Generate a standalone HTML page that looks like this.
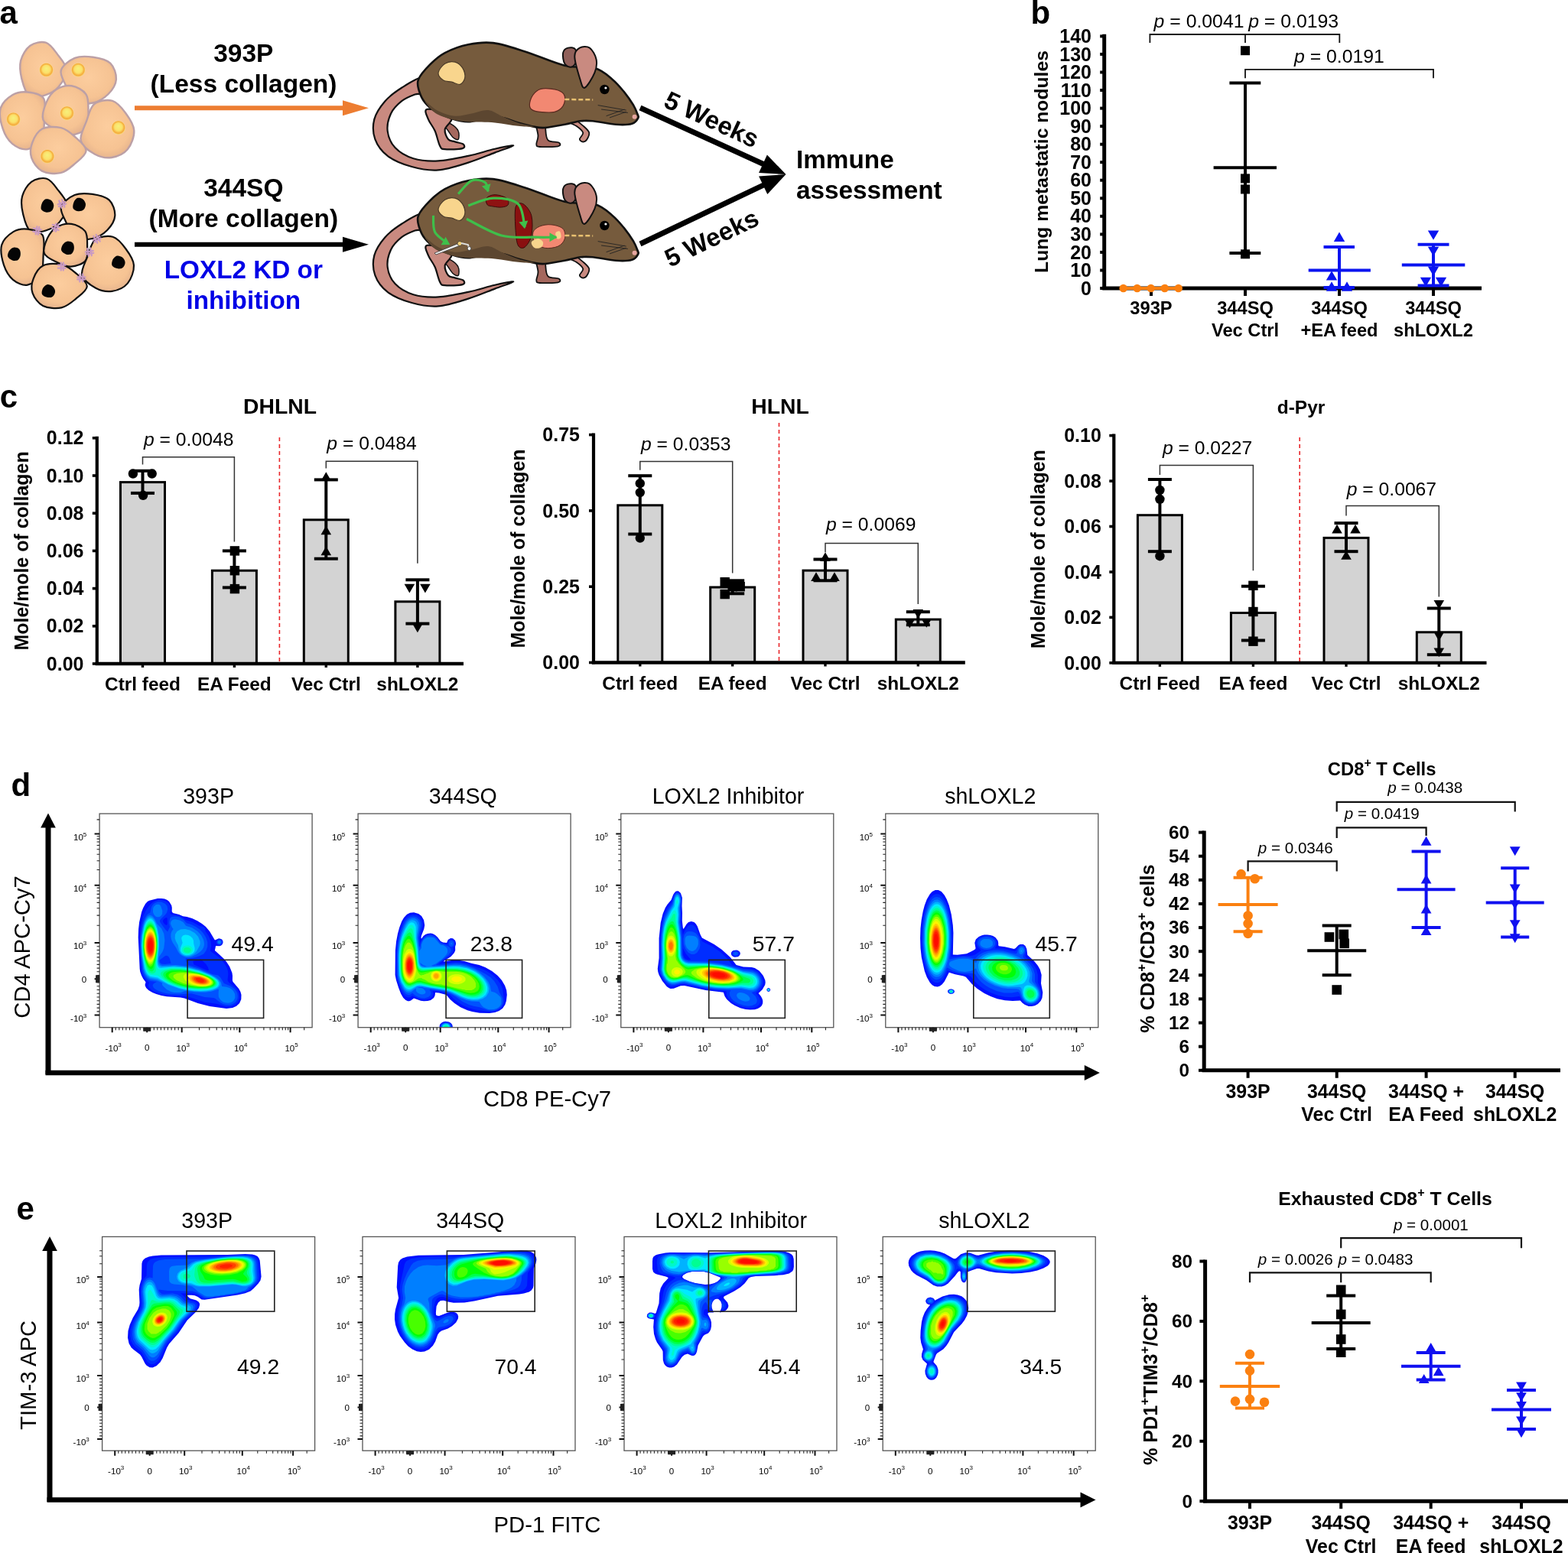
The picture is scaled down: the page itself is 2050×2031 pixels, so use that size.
<!DOCTYPE html>
<html><head><meta charset="utf-8"><title>Figure</title>
<style>html,body{margin:0;padding:0;background:#fff;}body{width:2050px;height:2031px;overflow:hidden;}svg{display:block;}</style>
</head><body>
<svg width="2050" height="2031" viewBox="0 0 2050 2031" font-family="Liberation Sans, Arial, Helvetica, sans-serif"><text x="-0.5" y="30.5" font-size="42" font-weight="bold">a</text>
<text x="1347.5" y="30.5" font-size="42" font-weight="bold">b</text>
<text x="-0.2" y="533.2" font-size="42" font-weight="bold">c</text>
<text x="14.6" y="1040.6" font-size="42" font-weight="bold">d</text>
<text x="21.4" y="1594.6" font-size="42" font-weight="bold">e</text>
<defs><radialGradient id="cellg" cx="50%" cy="45%" r="60%"><stop offset="0" stop-color="#fccd9e"/><stop offset="0.7" stop-color="#f6c393"/><stop offset="1" stop-color="#e2b08c"/></radialGradient><radialGradient id="nucg" cx="50%" cy="50%" r="50%" fx="50%" fy="38%"><stop offset="0" stop-color="#f6f07c"/><stop offset="0.55" stop-color="#fbe06a"/><stop offset="0.85" stop-color="#f5a93a"/><stop offset="1" stop-color="#f8e08a"/></radialGradient></defs><path d="M76.4 113.7C71.7 119.1 65.6 122.3 59.2 124.3C52.9 126.2 43.4 128.8 38.2 125.3C33.1 121.7 30.2 110.5 28.3 102.9C26.5 95.3 25.3 86.6 27.1 79.4C29 72.3 33.9 63.8 39.4 59.8C44.8 55.9 53.9 53.8 59.8 55.7C65.7 57.5 70.5 64.9 75 70.9C79.5 76.9 86.8 84.4 87 91.6C87.3 98.7 81 108.2 76.4 113.7Z" fill="url(#cellg)" stroke="#bca0a6" stroke-width="2.4"/><path d="M121.7 134.5C114.2 136.2 102.1 136.8 96.3 133.2C90.4 129.6 89.3 119.8 86.5 112.9C83.8 106 77.9 98 79.8 91.9C81.7 85.7 90.9 78.8 97.8 75.9C104.8 73 113.8 73.6 121.6 74.7C129.3 75.8 139.1 77.7 144.2 82.6C149.2 87.4 152.3 97 151.9 103.7C151.5 110.5 146.6 117.9 141.6 123C136.5 128.1 129.3 132.8 121.7 134.5Z" fill="url(#cellg)" stroke="#bca0a6" stroke-width="2.4"/><path d="M16.2 188.1C10.8 183.6 6.2 176.1 3.7 168.4C1.1 160.7 -1.5 149.1 0.7 141.7C2.8 134.3 10.7 127.6 16.6 124C22.6 120.5 29.4 119.7 36.1 120.5C42.8 121.2 53.3 122.7 57 128.7C60.6 134.6 58.4 147.4 58 156.2C57.6 165 58.1 174.9 54.5 181.3C50.9 187.8 42.6 193.9 36.3 195.1C29.9 196.2 21.7 192.5 16.2 188.1Z" fill="url(#cellg)" stroke="#bca0a6" stroke-width="2.4"/><path d="M56.4 156.6C54.2 150.5 57.8 140.5 60.6 133.9C63.4 127.4 67.8 120.9 73.3 117.3C78.8 113.7 87.1 111.3 93.6 112.3C100.2 113.3 108.9 117.9 112.5 123.3C116.1 128.8 115.3 137.6 115.5 144.9C115.6 152.3 116.9 162.1 113.2 167.3C109.4 172.6 99.6 176.1 93.1 176.5C86.5 177 80 173.4 73.9 170C67.8 166.7 58.6 162.6 56.4 156.6Z" fill="url(#cellg)" stroke="#bca0a6" stroke-width="2.4"/><path d="M113 158.7C115.9 150.7 117.6 140.5 123.3 136C129 131.5 140.1 129.9 147 131.9C153.8 134 159.8 141.8 164.5 148.3C169.2 154.7 174.9 162.8 175.3 170.7C175.7 178.5 171.6 189.5 166.8 195.3C161.9 201.2 153 204.9 145.9 206C138.8 207 130.8 205.3 124.1 201.7C117.4 198.1 107.6 191.3 105.7 184.1C103.9 176.9 110 166.7 113 158.7Z" fill="url(#cellg)" stroke="#bca0a6" stroke-width="2.4"/><path d="M55.2 168.5C61.5 165.3 72.6 165.5 79.8 167.2C86.9 168.9 92.6 174 98.1 179C103.6 183.9 112.7 191 112.6 196.9C112.5 202.8 103.1 209.5 97.5 214.4C91.9 219.3 86.2 224.7 79.1 226.2C71.9 227.8 61.1 226.9 54.8 223.6C48.5 220.3 43.3 212.5 41.2 206.3C39.1 200.1 39.9 192.6 42.3 186.4C44.6 180.1 49 171.7 55.2 168.5Z" fill="url(#cellg)" stroke="#bca0a6" stroke-width="2.4"/><circle cx="60.6" cy="91.5" r="9.2" fill="url(#nucg)"/><circle cx="102.3" cy="91.5" r="9.2" fill="url(#nucg)"/><circle cx="17.5" cy="156.1" r="9.2" fill="url(#nucg)"/><circle cx="87.5" cy="148" r="9.2" fill="url(#nucg)"/><circle cx="154.8" cy="166.9" r="9.2" fill="url(#nucg)"/><circle cx="61.9" cy="204.6" r="9.2" fill="url(#nucg)"/><path d="M77.4 290.9C72.9 296.2 66.8 299.4 60.6 301.3C54.3 303.2 45 305.8 39.9 302.3C34.8 298.8 32 287.8 30.2 280.2C28.3 272.7 27.2 264.2 29 257.1C30.8 250 35.7 241.7 41 237.8C46.4 233.9 55.3 231.9 61.1 233.7C67 235.5 71.6 242.8 76 248.7C80.5 254.6 87.7 262 87.9 269.1C88.1 276.1 82 285.5 77.4 290.9Z" fill="url(#cellg)" stroke="#111" stroke-width="2.2"/><path d="M120.9 312C113.5 313.7 101.8 314.3 96.1 310.8C90.3 307.3 89.2 297.7 86.6 291.1C83.9 284.4 78.1 276.6 80 270.6C81.8 264.6 90.8 257.9 97.6 255.1C104.4 252.3 113.2 252.9 120.7 253.9C128.2 255 137.8 256.9 142.8 261.6C147.7 266.2 150.7 275.6 150.3 282.1C149.9 288.7 145.1 295.9 140.2 300.9C135.3 305.8 128.2 310.4 120.9 312Z" fill="url(#cellg)" stroke="#111" stroke-width="2.2"/><path d="M17 365.8C11.8 361.4 7.5 354.1 5 346.6C2.6 339 0.1 327.7 2.2 320.4C4.2 313.2 11.8 306.6 17.4 303.1C23 299.6 29.5 298.9 35.8 299.6C42.2 300.4 52.2 301.8 55.7 307.6C59.1 313.5 57 326 56.6 334.6C56.2 343.2 56.8 352.9 53.4 359.2C49.9 365.6 42.1 371.6 36 372.6C29.9 373.7 22.1 370.1 17 365.8Z" fill="url(#cellg)" stroke="#111" stroke-width="2.2"/><path d="M57.9 331.3C55.8 326.1 59.3 317.3 61.9 311.6C64.6 305.9 68.8 300.3 74 297.2C79.2 294.1 87.1 292 93.4 292.9C99.6 293.7 107.8 297.7 111.3 302.4C114.8 307.1 114 314.8 114.1 321.2C114.2 327.6 115.5 336.1 111.9 340.7C108.4 345.3 99.1 348.3 92.8 348.7C86.6 349.1 80.4 345.9 74.6 343C68.8 340.1 60 336.6 57.9 331.3Z" fill="url(#cellg)" stroke="#111" stroke-width="2.2"/><path d="M114.4 335.5C117.3 327.8 118.9 317.9 124.5 313.7C130 309.4 140.8 307.8 147.5 309.8C154.2 311.7 160 319.3 164.5 325.5C169.1 331.7 174.7 339.4 175 346.9C175.4 354.5 171.5 365 166.8 370.6C162 376.3 153.4 379.8 146.5 380.8C139.5 381.9 131.7 380.2 125.2 376.7C118.7 373.2 109.1 366.7 107.3 359.9C105.5 353 111.5 343.2 114.4 335.5Z" fill="url(#cellg)" stroke="#111" stroke-width="2.2"/><path d="M56.6 347.3C62.8 344.3 73.9 344.4 81 346.1C88.2 347.7 93.9 352.6 99.3 357.3C104.8 362 113.9 368.7 113.8 374.4C113.7 380 104.3 386.4 98.8 391.1C93.2 395.7 87.4 400.9 80.3 402.4C73.3 403.8 62.5 403 56.2 399.9C49.9 396.7 44.7 389.2 42.6 383.3C40.5 377.4 41.3 370.3 43.7 364.3C46 358.3 50.3 350.4 56.6 347.3Z" fill="url(#cellg)" stroke="#111" stroke-width="2.2"/><path d="M54.6 266.4C55.5 264.1 57.2 261.3 59.2 260.5C61.2 259.8 64.8 260.4 66.6 261.8C68.5 263.1 70.1 266.1 70.3 268.4C70.5 270.7 69.3 274 67.8 275.5C66.2 277.1 63.1 277.9 60.8 277.7C58.5 277.4 55 276 54 274.1C53 272.2 53.8 268.6 54.6 266.4Z" fill="#050505"/><path d="M96.3 265C97.2 262.7 98.9 259.9 100.9 259.1C102.9 258.4 106.5 259 108.3 260.4C110.2 261.7 111.8 264.7 112 267C112.2 269.3 111 272.6 109.5 274.1C107.9 275.7 104.8 276.5 102.5 276.3C100.2 276 96.7 274.6 95.7 272.7C94.7 270.8 95.5 267.2 96.3 265Z" fill="#050505"/><path d="M10.2 335.6C9.5 333.5 10.8 330 12 328.1C13.3 326.1 15.6 324 17.8 323.7C20 323.3 23.6 324.2 25.1 325.8C26.6 327.4 27.1 330.9 26.8 333.3C26.6 335.7 25.2 338.8 23.5 340C21.7 341.2 18.4 341.1 16.1 340.4C13.9 339.7 10.9 337.6 10.2 335.6Z" fill="#050505"/><path d="M80.2 327.6C79.5 325.5 80.8 322 82 320.1C83.3 318.1 85.6 316 87.8 315.7C90 315.3 93.6 316.2 95.1 317.8C96.6 319.4 97.1 322.9 96.8 325.3C96.6 327.7 95.2 330.8 93.5 332C91.7 333.2 88.4 333.1 86.1 332.4C83.9 331.7 80.9 329.6 80.2 327.6Z" fill="#050505"/><path d="M163.6 343.2C163.7 345.5 162 348.9 160.2 350.2C158.4 351.5 155.3 351.6 153.1 351.1C150.8 350.6 147.5 349.3 146.5 347.3C145.6 345.4 146.4 341.7 147.4 339.5C148.5 337.4 150.8 335 152.9 334.5C155 334 158.1 335.1 159.9 336.6C161.7 338 163.6 340.9 163.6 343.2Z" fill="#050505"/><path d="M72.1 380.9C72.2 383.2 70.5 386.6 68.7 387.9C66.9 389.2 63.8 389.3 61.6 388.8C59.3 388.3 56 387 55 385C54.1 383.1 54.9 379.4 55.9 377.2C57 375.1 59.3 372.7 61.4 372.2C63.5 371.7 66.6 372.8 68.4 374.3C70.2 375.7 72.1 378.6 72.1 380.9Z" fill="#050505"/><g transform="translate(80.8 266.5) rotate(70)" stroke="#c99ac4" stroke-width="2.2" stroke-linecap="round"><line x1="-5" y1="-2" x2="5" y2="-2"/><line x1="-5" y1="2" x2="5" y2="2"/><line x1="-1" y1="-5" x2="-1" y2="5"/><line x1="2" y1="-5" x2="2" y2="5"/></g><g transform="translate(48.5 301.5) rotate(10)" stroke="#c99ac4" stroke-width="2.2" stroke-linecap="round"><line x1="-5" y1="-2" x2="5" y2="-2"/><line x1="-5" y1="2" x2="5" y2="2"/><line x1="-1" y1="-5" x2="-1" y2="5"/><line x1="2" y1="-5" x2="2" y2="5"/></g><g transform="translate(72.7 297.4) rotate(20)" stroke="#c99ac4" stroke-width="2.2" stroke-linecap="round"><line x1="-5" y1="-2" x2="5" y2="-2"/><line x1="-5" y1="2" x2="5" y2="2"/><line x1="-1" y1="-5" x2="-1" y2="5"/><line x1="2" y1="-5" x2="2" y2="5"/></g><g transform="translate(126.5 312.3) rotate(60)" stroke="#c99ac4" stroke-width="2.2" stroke-linecap="round"><line x1="-5" y1="-2" x2="5" y2="-2"/><line x1="-5" y1="2" x2="5" y2="2"/><line x1="-1" y1="-5" x2="-1" y2="5"/><line x1="2" y1="-5" x2="2" y2="5"/></g><g transform="translate(117 329.7) rotate(80)" stroke="#c99ac4" stroke-width="2.2" stroke-linecap="round"><line x1="-5" y1="-2" x2="5" y2="-2"/><line x1="-5" y1="2" x2="5" y2="2"/><line x1="-1" y1="-5" x2="-1" y2="5"/><line x1="2" y1="-5" x2="2" y2="5"/></g><g transform="translate(80.8 348.6) rotate(0)" stroke="#c99ac4" stroke-width="2.2" stroke-linecap="round"><line x1="-5" y1="-2" x2="5" y2="-2"/><line x1="-5" y1="2" x2="5" y2="2"/><line x1="-1" y1="-5" x2="-1" y2="5"/><line x1="2" y1="-5" x2="2" y2="5"/></g><g transform="translate(106.3 363.4) rotate(90)" stroke="#c99ac4" stroke-width="2.2" stroke-linecap="round"><line x1="-5" y1="-2" x2="5" y2="-2"/><line x1="-5" y1="2" x2="5" y2="2"/><line x1="-1" y1="-5" x2="-1" y2="5"/><line x1="2" y1="-5" x2="2" y2="5"/></g>
<text x="318.3" y="81.3" font-size="33.5" font-weight="bold" text-anchor="middle">393P</text>
<text x="318.5" y="120.6" font-size="33.5" font-weight="bold" text-anchor="middle">(Less collagen)</text>
<line x1="176" y1="141.3" x2="449" y2="141.3" stroke="#ed7d31" stroke-width="6"/>
<polygon points="482,141.3 448,151.3 448,131.3" fill="#ed7d31"/>
<text x="318.3" y="256.5" font-size="33.5" font-weight="bold" text-anchor="middle">344SQ</text>
<text x="318.3" y="296.8" font-size="33.5" font-weight="bold" text-anchor="middle">(More collagen)</text>
<line x1="176" y1="319.8" x2="449" y2="319.8" stroke="#000" stroke-width="6"/>
<polygon points="482,319.8 448,329.8 448,309.8" fill="#000"/>
<text x="318.3" y="364" font-size="33.3" font-weight="bold" text-anchor="middle" fill="#0000e6">LOXL2 KD or</text>
<text x="318.3" y="404.4" font-size="33.3" font-weight="bold" text-anchor="middle" fill="#0000e6">inhibition</text>
<path d="M551.3 101.7C546.6 100.7 533.2 109.7 525.2 114.8C517.2 119.9 509.5 125.3 503.5 132.2C497.5 139.1 491.5 147.8 489.3 156.1C487.2 164.4 487.5 174.2 490.4 182.2C493.3 190.1 498.8 197.9 506.7 203.9C514.7 209.9 527.2 215 538.3 218C549.3 221.1 560.7 223.3 573 222.4C585.4 221.5 599.9 216.4 612.2 212.6C624.5 208.8 637.1 203.3 647 199.6C656.8 195.9 671.3 191.2 671.3 190.4C671.3 189.6 656.8 192.5 647 194.8C637.1 197 624.5 201.3 612.2 203.9C599.9 206.5 585 209.9 573 210.4C561.1 211 549.9 210.1 540.4 207.2C531 204.3 522.1 199 516.5 193C510.9 187.1 507.6 178.7 506.7 171.3C505.8 163.9 508 155 511.1 148.5C514.2 142 520 136.3 525.2 132.2C530.5 128 537.9 125.3 542.6 123.5C547.3 121.7 552 124.9 553.5 121.3C554.9 117.7 556 102.8 551.3 101.7Z" fill="#c98a80" stroke="#111" stroke-width="2.2"/><path d="M577.4 158.3C578.1 156.8 586.8 160.4 590.4 162.6C594.1 164.8 597.7 168 599.1 171.3C600.6 174.6 600.2 180.7 599.1 182.2C598 183.6 594.8 181.8 592.6 180C590.4 178.2 588.6 174.9 586.1 171.3C583.6 167.7 576.7 159.7 577.4 158.3Z" fill="#a5685e" stroke="#111" stroke-width="1.5"/><path d="M557.8 143C554.2 144.5 558.2 151.4 560 156.1C561.8 160.8 566.2 165.5 568.7 171.3C571.2 177.1 573 186.9 575.2 190.9C577.4 194.9 576.8 194.7 581.7 195.2C586.6 195.8 600.6 195.2 604.6 194.1C608.6 193 607.3 190.1 605.7 188.7C604 187.2 598 186.5 594.8 185.4C591.5 184.3 588.3 184.9 586.1 182.2C583.9 179.5 581 173.5 581.7 169.1C582.5 164.8 590.4 159.7 590.4 156.1C590.4 152.5 587.2 149.6 581.7 147.4C576.3 145.2 561.4 141.6 557.8 143Z" fill="#c98a80" stroke="#111" stroke-width="2.2"/><path d="M701.3 160.4C699.5 163 703.5 173.1 703.5 177.8C703.5 182.5 700.9 186.3 701.3 188.7C701.7 191.1 700.9 191.5 705.7 192C710.4 192.4 725.4 192.2 729.6 191.3C733.7 190.4 732.8 187.9 730.7 186.5C728.5 185.2 719.4 186.2 716.5 183.3C713.6 180.4 713.6 172.6 713.3 169.1C712.9 165.7 716.3 164.1 714.3 162.6C712.4 161.2 703.1 157.9 701.3 160.4Z" fill="#a5685e" stroke="#111" stroke-width="1.8"/><path d="M740.4 158.3C740.8 159.5 749.9 162.2 753.5 164.8C757.1 167.3 761.4 170.6 762.2 173.5C762.9 176.4 757.6 180.2 757.8 182.2C758 184.2 761.4 185.8 763.3 185.4C765.1 185.1 767.6 182.2 768.7 180C769.8 177.8 771.2 175.3 769.8 172.4C768.3 169.5 763.1 165.1 760 162.6C756.9 160.1 754.6 157.9 751.3 157.2C748 156.4 740.1 157 740.4 158.3Z" fill="#c98a80" stroke="#111" stroke-width="1.8"/><path d="M547 103.9C549.3 98.1 556.4 90.1 562.2 84.3C568 78.6 573.4 73.5 581.7 69.1C590.1 64.8 601.7 60.4 612.2 58.3C622.7 56.1 632.4 54.6 644.8 56.1C657.2 57.6 670.9 62.5 686.5 67.4C702.1 72.3 723.1 82 738.3 85.7C753.4 89.3 767.2 86.1 777.6 89.1C788 92.1 794.1 98.5 800.4 103.7C806.8 108.9 811.2 114.5 815.9 120.2C820.5 125.9 825.3 133 828.3 137.8C831.2 142.7 832.5 146.6 833.5 149.3C834.5 152.1 835.5 152.3 834.3 154.3C833.2 156.4 831.1 160.3 826.3 161.7C821.5 163.2 814.3 163.4 805.7 162.8C797 162.2 782.4 159 774.6 158.3C766.8 157.5 765 157.5 758.9 158.3C752.9 159 746 161.4 738.3 162.8C730.5 164.3 718.9 166.4 712.4 167C705.9 167.5 705 167 699.1 165.9C693.3 164.8 684.6 162.4 677.4 160.4C670.1 158.4 662.9 154.8 655.7 153.9C648.4 153 641.2 154.1 633.9 155C626.7 155.9 619.4 159.3 612.2 159.3C604.9 159.3 597.7 157.4 590.4 155C583.2 152.6 574.5 148.7 568.7 145.2C562.9 141.8 559.1 138.7 555.7 134.3C552.2 130 549.5 124.2 548 119.1C546.6 114.1 544.6 109.7 547 103.9Z" fill="#765b3d" stroke="#111" stroke-width="2.6"/><path d="M555.7 132.2C556.4 131.8 566.5 142 573 145.2C579.6 148.5 587.5 151.2 594.8 151.7C602 152.3 609.3 149.7 616.5 148.5C623.8 147.2 631.7 143.6 638.3 144.1C644.8 144.7 649.1 149 655.7 151.7C662.2 154.5 670.1 158.1 677.4 160.4C684.6 162.8 699.1 165.1 699.1 165.9C699.1 166.6 686.1 165.7 677.4 164.8C668.7 163.9 657.8 161.3 647 160.4C636.1 159.5 621.6 160.1 612.2 159.3C602.8 158.6 597.7 158.1 590.4 156.1C583.2 154.1 574.5 151.4 568.7 147.4C562.9 143.4 554.9 132.5 555.7 132.2Z" fill="#5c4630" stroke="none" stroke-width="0"/><path d="M736.1 69.1C736.8 65.7 739.9 63.3 742.6 62.6C745.3 61.9 750.6 61.9 752.4 64.8C754.2 67.7 754.4 76.2 753.5 80C752.6 83.8 749.5 87.1 747 87.6C744.4 88.2 740.1 86.3 738.3 83.3C736.4 80.2 735.4 72.6 736.1 69.1Z" fill="#90605a" stroke="#111" stroke-width="2"/><path d="M751.3 73.5C751.3 67 754.6 64.4 757.8 62.6C761.1 60.8 767.2 60.1 770.9 62.6C774.5 65.1 778.5 72.4 779.6 77.8C780.7 83.3 779.9 89.1 777.4 95.2C774.9 101.4 767.6 113.7 764.3 114.8C761.1 115.9 760 108.6 757.8 101.7C755.7 94.9 751.3 80 751.3 73.5Z" fill="#c98a80" stroke="#111" stroke-width="2"/><path d="M573 95.2C573.4 91.6 578.1 85.6 581.7 83.3C585.4 80.9 591 80.2 594.8 81.1C598.6 82 602.4 85.3 604.6 88.7C606.7 92.1 608.4 98.1 607.8 101.7C607.3 105.4 604.2 109.5 601.3 110.4C598.4 111.3 594.1 108.1 590.4 107.2C586.8 106.3 582.5 107 579.6 105C576.7 103 572.7 98.8 573 95.2Z" fill="#f8d58d" stroke="#4a3a28" stroke-width="1.2"/><circle cx="790.4" cy="117" r="6.2" fill="#000"/><circle cx="791.9" cy="115" r="1.6" fill="#fff"/><circle cx="829.6" cy="152.8" r="3" fill="#e7a6a0"/><line x1="781.7" y1="137.6" x2="818.7" y2="144.1" stroke="#222" stroke-width="0.9"/><line x1="786.1" y1="143" x2="820.9" y2="147.4" stroke="#222" stroke-width="0.9"/><line x1="792.6" y1="151.7" x2="816.5" y2="143" stroke="#222" stroke-width="0.9"/><line x1="797" y1="153.9" x2="818.7" y2="146.3" stroke="#222" stroke-width="0.9"/><path d="M692.6 134.3C693.3 130.7 696.2 124.4 699.1 121.3C702 118.2 704.9 116.4 710 115.9C715.1 115.3 724.9 116.4 729.6 118C734.3 119.7 737.2 122.2 738.3 125.7C739.3 129.1 738.3 135.3 736.1 138.7C733.9 142.1 730.3 145 725.2 146.3C720.1 147.6 710.7 146.8 705.7 146.3C700.6 145.8 697 145 694.8 143C692.6 141.1 691.9 138 692.6 134.3Z" fill="#f28872" stroke="#5a2a20" stroke-width="1.2"/><line x1="738.3" y1="130" x2="775.2" y2="130.4" stroke="#e8c070" stroke-width="2.5" stroke-dasharray="6,3"/>
<path d="M551.3 279.7C546.6 278.7 533.2 287.7 525.2 292.8C517.2 297.9 509.5 303.3 503.5 310.2C497.5 317.1 491.5 325.8 489.3 334.1C487.2 342.4 487.5 352.2 490.4 360.2C493.3 368.1 498.8 375.9 506.7 381.9C514.7 387.9 527.2 393 538.3 396C549.3 399.1 560.7 401.3 573 400.4C585.4 399.5 599.9 394.4 612.2 390.6C624.5 386.8 637.1 381.3 647 377.6C656.8 373.9 671.3 369.2 671.3 368.4C671.3 367.6 656.8 370.5 647 372.8C637.1 375 624.5 379.3 612.2 381.9C599.9 384.5 585 387.9 573 388.4C561.1 389 549.9 388.1 540.4 385.2C531 382.3 522.1 377 516.5 371C510.9 365.1 507.6 356.7 506.7 349.3C505.8 341.9 508 333 511.1 326.5C514.2 320 520 314.3 525.2 310.2C530.5 306 537.9 303.3 542.6 301.5C547.3 299.7 552 302.9 553.5 299.3C554.9 295.7 556 280.8 551.3 279.7Z" fill="#c98a80" stroke="#111" stroke-width="2.2"/><path d="M577.4 336.3C578.1 334.8 586.8 338.4 590.4 340.6C594.1 342.8 597.7 346 599.1 349.3C600.6 352.6 600.2 358.7 599.1 360.2C598 361.6 594.8 359.8 592.6 358C590.4 356.2 588.6 352.9 586.1 349.3C583.6 345.7 576.7 337.7 577.4 336.3Z" fill="#a5685e" stroke="#111" stroke-width="1.5"/><path d="M557.8 321C554.2 322.5 558.2 329.4 560 334.1C561.8 338.8 566.2 343.5 568.7 349.3C571.2 355.1 573 364.9 575.2 368.9C577.4 372.9 576.8 372.7 581.7 373.2C586.6 373.8 600.6 373.2 604.6 372.1C608.6 371 607.3 368.1 605.7 366.7C604 365.2 598 364.5 594.8 363.4C591.5 362.3 588.3 362.9 586.1 360.2C583.9 357.5 581 351.5 581.7 347.1C582.5 342.8 590.4 337.7 590.4 334.1C590.4 330.5 587.2 327.6 581.7 325.4C576.3 323.2 561.4 319.6 557.8 321Z" fill="#c98a80" stroke="#111" stroke-width="2.2"/><path d="M701.3 338.4C699.5 341 703.5 351.1 703.5 355.8C703.5 360.5 700.9 364.3 701.3 366.7C701.7 369.1 700.9 369.5 705.7 370C710.4 370.4 725.4 370.2 729.6 369.3C733.7 368.4 732.8 365.9 730.7 364.5C728.5 363.2 719.4 364.2 716.5 361.3C713.6 358.4 713.6 350.6 713.3 347.1C712.9 343.7 716.3 342.1 714.3 340.6C712.4 339.2 703.1 335.9 701.3 338.4Z" fill="#a5685e" stroke="#111" stroke-width="1.8"/><path d="M740.4 336.3C740.8 337.5 749.9 340.2 753.5 342.8C757.1 345.3 761.4 348.6 762.2 351.5C762.9 354.4 757.6 358.2 757.8 360.2C758 362.2 761.4 363.8 763.3 363.4C765.1 363.1 767.6 360.2 768.7 358C769.8 355.8 771.2 353.3 769.8 350.4C768.3 347.5 763.1 343.1 760 340.6C756.9 338.1 754.6 335.9 751.3 335.2C748 334.4 740.1 335 740.4 336.3Z" fill="#c98a80" stroke="#111" stroke-width="1.8"/><path d="M547 281.9C549.3 276.1 556.4 268.1 562.2 262.3C568 256.6 573.4 251.5 581.7 247.1C590.1 242.8 601.7 238.4 612.2 236.3C622.7 234.1 632.4 232.6 644.8 234.1C657.2 235.6 670.9 240.5 686.5 245.4C702.1 250.3 723.1 260 738.3 263.7C753.4 267.3 767.2 264.1 777.6 267.1C788 270.1 794.1 276.5 800.4 281.7C806.8 286.9 811.2 292.5 815.9 298.2C820.5 303.9 825.3 311 828.3 315.8C831.2 320.7 832.5 324.6 833.5 327.3C834.5 330.1 835.5 330.3 834.3 332.3C833.2 334.4 831.1 338.3 826.3 339.7C821.5 341.2 814.3 341.4 805.7 340.8C797 340.2 782.4 337 774.6 336.3C766.8 335.5 765 335.5 758.9 336.3C752.9 337 746 339.4 738.3 340.8C730.5 342.3 718.9 344.4 712.4 345C705.9 345.5 705 345 699.1 343.9C693.3 342.8 684.6 340.4 677.4 338.4C670.1 336.4 662.9 332.8 655.7 331.9C648.4 331 641.2 332.1 633.9 333C626.7 333.9 619.4 337.3 612.2 337.3C604.9 337.3 597.7 335.4 590.4 333C583.2 330.6 574.5 326.7 568.7 323.2C562.9 319.8 559.1 316.7 555.7 312.3C552.2 308 549.5 302.2 548 297.1C546.6 292.1 544.6 287.7 547 281.9Z" fill="#765b3d" stroke="#111" stroke-width="2.6"/><path d="M555.7 310.2C556.4 309.8 566.5 320 573 323.2C579.6 326.5 587.5 329.2 594.8 329.7C602 330.3 609.3 327.7 616.5 326.5C623.8 325.2 631.7 321.6 638.3 322.1C644.8 322.7 649.1 327 655.7 329.7C662.2 332.5 670.1 336.1 677.4 338.4C684.6 340.8 699.1 343.1 699.1 343.9C699.1 344.6 686.1 343.7 677.4 342.8C668.7 341.9 657.8 339.3 647 338.4C636.1 337.5 621.6 338.1 612.2 337.3C602.8 336.6 597.7 336.1 590.4 334.1C583.2 332.1 574.5 329.4 568.7 325.4C562.9 321.4 554.9 310.5 555.7 310.2Z" fill="#5c4630" stroke="none" stroke-width="0"/><path d="M736.1 247.1C736.8 243.7 739.9 241.3 742.6 240.6C745.3 239.9 750.6 239.9 752.4 242.8C754.2 245.7 754.4 254.2 753.5 258C752.6 261.8 749.5 265.1 747 265.6C744.4 266.2 740.1 264.3 738.3 261.3C736.4 258.2 735.4 250.6 736.1 247.1Z" fill="#90605a" stroke="#111" stroke-width="2"/><path d="M751.3 251.5C751.3 245 754.6 242.4 757.8 240.6C761.1 238.8 767.2 238.1 770.9 240.6C774.5 243.1 778.5 250.4 779.6 255.8C780.7 261.3 779.9 267.1 777.4 273.2C774.9 279.4 767.6 291.7 764.3 292.8C761.1 293.9 760 286.6 757.8 279.7C755.7 272.9 751.3 258 751.3 251.5Z" fill="#c98a80" stroke="#111" stroke-width="2"/><path d="M573 273.2C573.4 269.6 578.1 263.6 581.7 261.3C585.4 258.9 591 258.2 594.8 259.1C598.6 260 602.4 263.3 604.6 266.7C606.7 270.1 608.4 276.1 607.8 279.7C607.3 283.4 604.2 287.5 601.3 288.4C598.4 289.3 594.1 286.1 590.4 285.2C586.8 284.3 582.5 285 579.6 283C576.7 281 572.7 276.8 573 273.2Z" fill="#f8d58d" stroke="#4a3a28" stroke-width="1.2"/><circle cx="790.4" cy="295" r="6.2" fill="#000"/><circle cx="791.9" cy="293" r="1.6" fill="#fff"/><circle cx="829.6" cy="330.8" r="3" fill="#e7a6a0"/><line x1="781.7" y1="315.6" x2="818.7" y2="322.1" stroke="#222" stroke-width="0.9"/><line x1="786.1" y1="321" x2="820.9" y2="325.4" stroke="#222" stroke-width="0.9"/><line x1="792.6" y1="329.7" x2="816.5" y2="321" stroke="#222" stroke-width="0.9"/><line x1="797" y1="331.9" x2="818.7" y2="324.3" stroke="#222" stroke-width="0.9"/><path d="M636.1 259.1C637.7 256.9 642.6 254.7 647 254.7C651.3 254.7 659.3 256.9 662.2 259.1C665.1 261.3 665.4 265.8 664.3 267.8C663.3 269.8 658.9 270.7 655.7 271C652.4 271.4 647.9 270.5 644.8 270C641.7 269.4 638.6 269.6 637.2 267.8C635.7 266 634.5 261.3 636.1 259.1Z" fill="#8e1212" stroke="#3a0a0a" stroke-width="1"/><path d="M674.1 271C675.8 265.2 680.5 264.9 683.9 266.7C687.4 268.5 693 275 694.8 281.9C696.6 288.8 696.2 301.1 694.8 308C693.3 314.9 689 321 686.1 323.2C683.2 325.4 679.4 324.7 677.4 321C675.4 317.4 674.7 309.8 674.1 301.5C673.6 293.1 672.5 276.8 674.1 271Z" fill="#8a1010" stroke="#3a0a0a" stroke-width="1"/><path d="M697 303.7C698 300.2 701.7 297.7 705.7 296C709.6 294.4 715.8 293.3 720.9 293.9C725.9 294.4 733.2 296.2 736.1 299.3C739 302.4 739.3 308.5 738.3 312.3C737.2 316.2 733.9 320.1 729.6 322.1C725.2 324.1 717.2 325.2 712.2 324.3C707.1 323.4 701.7 320.1 699.1 316.7C696.6 313.3 695.9 307.1 697 303.7Z" fill="#f28872" stroke="#5a2a20" stroke-width="1"/><path d="M694.8 316.7C695.5 314.7 700.9 312.3 703.5 312.3C706 312.3 709.3 314.9 710 316.7C710.7 318.5 709.6 321.9 707.8 323.2C706 324.5 701.3 325.4 699.1 324.3C697 323.2 694.1 318.7 694.8 316.7Z" fill="#f8d58d" stroke="none" stroke-width="0"/><path d="M726.3 304.7C726.8 303.1 730.5 301.7 731.7 302.6C732.9 303.5 734 308.5 733.5 310.2C732.9 311.8 729.7 313.3 728.5 312.3C727.3 311.4 725.8 306.4 726.3 304.7Z" fill="#f8d58d" stroke="none" stroke-width="0"/><path d="M599.1 253.7C602 250.8 610.7 238.8 616.5 236.3C622.3 233.7 630.3 236.1 633.9 238.4C637.5 240.8 637.5 248.4 638.3 250.4" fill="none" stroke="#3fbf4a" stroke-width="3.2"/><path d="M612.2 268.9C617.6 267.2 633.9 259.4 644.8 259.1C655.7 258.7 670.5 260.4 677.4 266.7C684.3 273 684.6 292.1 686.1 297.1" fill="none" stroke="#3fbf4a" stroke-width="3.2"/><path d="M610 286.3C617.6 289.9 640.8 304 655.7 308C670.5 312 687.2 309.8 699.1 310.2C711.1 310.5 722.7 310.2 727.4 310.2" fill="none" stroke="#3fbf4a" stroke-width="3.2"/><path d="M566.5 281.9C566.9 285.5 565.4 297.5 568.7 303.7C572 309.8 583.2 316.3 586.1 318.9" fill="none" stroke="#3fbf4a" stroke-width="3.2"/><polygon points="0,0 -10,-6 -10,6" fill="#3fbf4a" transform="translate(638.3 251.5) rotate(75)"/><polygon points="0,0 -10,-6 -10,6" fill="#3fbf4a" transform="translate(686.1 299.3) rotate(80)"/><polygon points="0,0 -10,-6 -10,6" fill="#3fbf4a" transform="translate(728.5 310.2) rotate(0)"/><polygon points="0,0 -10,-6 -10,6" fill="#3fbf4a" transform="translate(588.3 320) rotate(30)"/><line x1="738.3" y1="308" x2="775.2" y2="308.4" stroke="#e8c070" stroke-width="2.5" stroke-dasharray="6,3"/><g stroke="#333" stroke-width="0.8"><path d="M568 331 L600 318 L602 321 L570 333Z" fill="#eee"/><circle cx="601" cy="318.5" r="3" fill="#f4d27a"/><path d="M603 318 L612 320 L613 324" fill="none" stroke="#ddd" stroke-width="2"/><circle cx="613.5" cy="325" r="2.4" fill="#fff"/></g>
<line x1="837" y1="141" x2="998.4" y2="214.7" stroke="#000" stroke-width="7"/>
<polygon points="1027.5,228 992.1,226.1 1002.9,202.5" fill="#000"/>
<line x1="837" y1="319" x2="998.6" y2="241.8" stroke="#000" stroke-width="7"/>
<polygon points="1027.5,228 1003.3,254 992.1,230.5" fill="#000"/>
<text x="866" y="139" font-size="33" font-weight="bold" transform="rotate(24.7 866 139)">5 Weeks</text>
<text x="876" y="350" font-size="33" font-weight="bold" transform="rotate(-25.7 876 350)">5 Weeks</text>
<text x="1041" y="219.6" font-size="33.3" font-weight="bold">Immune</text>
<text x="1041" y="259.6" font-size="33.3" font-weight="bold">assessment</text>
<line x1="1443.7" y1="44.8" x2="1443.7" y2="379" stroke="#000" stroke-width="5"/>
<line x1="1441.2" y1="377" x2="1937" y2="377" stroke="#000" stroke-width="5"/>
<line x1="1438.2" y1="377" x2="1443.7" y2="377" stroke="#000" stroke-width="4"/>
<text x="1427" y="385.6" font-size="25" font-weight="bold" text-anchor="end">0</text>
<line x1="1438.2" y1="353.5" x2="1443.7" y2="353.5" stroke="#000" stroke-width="4"/>
<text x="1427" y="362.1" font-size="25" font-weight="bold" text-anchor="end">10</text>
<line x1="1438.2" y1="329.9" x2="1443.7" y2="329.9" stroke="#000" stroke-width="4"/>
<text x="1427" y="338.5" font-size="25" font-weight="bold" text-anchor="end">20</text>
<line x1="1438.2" y1="306.4" x2="1443.7" y2="306.4" stroke="#000" stroke-width="4"/>
<text x="1427" y="315" font-size="25" font-weight="bold" text-anchor="end">30</text>
<line x1="1438.2" y1="282.8" x2="1443.7" y2="282.8" stroke="#000" stroke-width="4"/>
<text x="1427" y="291.4" font-size="25" font-weight="bold" text-anchor="end">40</text>
<line x1="1438.2" y1="259.3" x2="1443.7" y2="259.3" stroke="#000" stroke-width="4"/>
<text x="1427" y="267.9" font-size="25" font-weight="bold" text-anchor="end">50</text>
<line x1="1438.2" y1="235.7" x2="1443.7" y2="235.7" stroke="#000" stroke-width="4"/>
<text x="1427" y="244.3" font-size="25" font-weight="bold" text-anchor="end">60</text>
<line x1="1438.2" y1="212.2" x2="1443.7" y2="212.2" stroke="#000" stroke-width="4"/>
<text x="1427" y="220.8" font-size="25" font-weight="bold" text-anchor="end">70</text>
<line x1="1438.2" y1="188.7" x2="1443.7" y2="188.7" stroke="#000" stroke-width="4"/>
<text x="1427" y="197.3" font-size="25" font-weight="bold" text-anchor="end">80</text>
<line x1="1438.2" y1="165.1" x2="1443.7" y2="165.1" stroke="#000" stroke-width="4"/>
<text x="1427" y="173.7" font-size="25" font-weight="bold" text-anchor="end">90</text>
<line x1="1438.2" y1="141.6" x2="1443.7" y2="141.6" stroke="#000" stroke-width="4"/>
<text x="1427" y="150.2" font-size="25" font-weight="bold" text-anchor="end">100</text>
<line x1="1438.2" y1="118" x2="1443.7" y2="118" stroke="#000" stroke-width="4"/>
<text x="1427" y="126.6" font-size="25" font-weight="bold" text-anchor="end">110</text>
<line x1="1438.2" y1="94.5" x2="1443.7" y2="94.5" stroke="#000" stroke-width="4"/>
<text x="1427" y="103.1" font-size="25" font-weight="bold" text-anchor="end">120</text>
<line x1="1438.2" y1="70.9" x2="1443.7" y2="70.9" stroke="#000" stroke-width="4"/>
<text x="1427" y="79.5" font-size="25" font-weight="bold" text-anchor="end">130</text>
<line x1="1438.2" y1="47.4" x2="1443.7" y2="47.4" stroke="#000" stroke-width="4"/>
<text x="1427" y="56" font-size="25" font-weight="bold" text-anchor="end">140</text>
<line x1="1505" y1="377" x2="1505" y2="387" stroke="#000" stroke-width="4"/>
<line x1="1628" y1="377" x2="1628" y2="387" stroke="#000" stroke-width="4"/>
<line x1="1751" y1="377" x2="1751" y2="387" stroke="#000" stroke-width="4"/>
<line x1="1874" y1="377" x2="1874" y2="387" stroke="#000" stroke-width="4"/>
<text x="1534" y="36.4" font-size="1"></text>
<text x="1505" y="411" font-size="23.7" font-weight="bold" text-anchor="middle">393P</text>
<text x="1628" y="411" font-size="23.7" font-weight="bold" text-anchor="middle">344SQ</text>
<text x="1628" y="440.4" font-size="23.7" font-weight="bold" text-anchor="middle">Vec Ctrl</text>
<text x="1751" y="411" font-size="23.7" font-weight="bold" text-anchor="middle">344SQ</text>
<text x="1751" y="440.4" font-size="23.7" font-weight="bold" text-anchor="middle">+EA feed</text>
<text x="1874" y="411" font-size="23.7" font-weight="bold" text-anchor="middle">344SQ</text>
<text x="1874" y="440.4" font-size="23.7" font-weight="bold" text-anchor="middle">shLOXL2</text>
<text x="1508.6" y="36.4" font-size="24.8"><tspan font-style="italic">p</tspan> = 0.0041</text>
<text x="1632.2" y="36.4" font-size="24.8"><tspan font-style="italic">p</tspan> = 0.0193</text>
<path d="M1503.4 56 V45 H1751.3 V56 M1628 45 V56" fill="none" stroke="#111" stroke-width="1.8"/>
<text x="1692" y="81.5" font-size="24.8"><tspan font-style="italic">p</tspan> = 0.0191</text>
<path d="M1628 102.3 V90.8 H1874 V102.3" fill="none" stroke="#111" stroke-width="1.8"/>
<line x1="1468.7" y1="377" x2="1540.7" y2="377" stroke="#fb8010" stroke-width="4"/>
<circle cx="1468.7" cy="377" r="5.3" fill="#fb8010"/>
<circle cx="1486.7" cy="377" r="5.3" fill="#fb8010"/>
<circle cx="1504.7" cy="377" r="5.3" fill="#fb8010"/>
<circle cx="1522.7" cy="377" r="5.3" fill="#fb8010"/>
<circle cx="1540.7" cy="377" r="5.3" fill="#fb8010"/>
<rect x="1622" y="60.2" width="12" height="12" fill="#000"/>
<rect x="1622" y="227.4" width="12" height="12" fill="#000"/>
<rect x="1622" y="241.5" width="12" height="12" fill="#000"/>
<rect x="1622" y="326.3" width="12" height="12" fill="#000"/>
<line x1="1628" y1="108.6" x2="1628" y2="331.1" stroke="#000" stroke-width="4"/>
<line x1="1607.4" y1="108.6" x2="1648.3" y2="108.6" stroke="#000" stroke-width="4"/>
<line x1="1607.4" y1="331.1" x2="1648.3" y2="331.1" stroke="#000" stroke-width="4"/>
<line x1="1586.6" y1="219.3" x2="1669" y2="219.3" stroke="#000" stroke-width="4"/>
<polygon points="1751,303.6 1758.2,316 1743.8,316" fill="#0a14f0"/>
<polygon points="1741,354.2 1748.2,366.6 1733.8,366.6" fill="#0a14f0"/>
<polygon points="1741,368.3 1748.2,380.7 1733.8,380.7" fill="#0a14f0"/>
<polygon points="1761,368.3 1768.2,380.7 1753.8,380.7" fill="#0a14f0"/>
<line x1="1751" y1="322.9" x2="1751" y2="377" stroke="#0a14f0" stroke-width="4"/>
<line x1="1730.5" y1="322.9" x2="1771" y2="322.9" stroke="#0a14f0" stroke-width="4"/>
<line x1="1730.5" y1="376" x2="1771" y2="376" stroke="#0a14f0" stroke-width="4"/>
<line x1="1710.7" y1="353.5" x2="1791.9" y2="353.5" stroke="#0a14f0" stroke-width="4"/>
<polygon points="1874,313.8 1881.2,301.5 1866.8,301.5" fill="#0a14f0"/>
<polygon points="1874,335 1881.2,322.7 1866.8,322.7" fill="#0a14f0"/>
<polygon points="1874,360.9 1881.2,348.6 1866.8,348.6" fill="#0a14f0"/>
<polygon points="1864,375.1 1871.2,362.7 1856.8,362.7" fill="#0a14f0"/>
<polygon points="1884,375.1 1891.2,362.7 1876.8,362.7" fill="#0a14f0"/>
<line x1="1874" y1="319.8" x2="1874" y2="373.5" stroke="#0a14f0" stroke-width="4"/>
<line x1="1853.6" y1="319.8" x2="1894.5" y2="319.8" stroke="#0a14f0" stroke-width="4"/>
<line x1="1853.6" y1="373.5" x2="1894.5" y2="373.5" stroke="#0a14f0" stroke-width="4"/>
<line x1="1832.8" y1="346.4" x2="1915.3" y2="346.4" stroke="#0a14f0" stroke-width="4"/>
<text x="1370" y="211.5" font-size="24.7" font-weight="bold" text-anchor="middle" transform="rotate(-90 1370 211.5)">Lung metastatic nodules</text>
<rect x="157.5" y="630.6" width="58" height="237.4" fill="#d3d3d3" stroke="#000" stroke-width="3"/>
<rect x="277.4" y="746.2" width="58" height="121.8" fill="#d3d3d3" stroke="#000" stroke-width="3"/>
<rect x="397.3" y="679.8" width="58" height="188.2" fill="#d3d3d3" stroke="#000" stroke-width="3"/>
<rect x="516.9" y="786.8" width="58" height="81.2" fill="#d3d3d3" stroke="#000" stroke-width="3"/>
<line x1="365.4" y1="572" x2="365.4" y2="868" stroke="#e8262a" stroke-width="1.6" stroke-dasharray="5,4"/>
<line x1="186.5" y1="615.8" x2="186.5" y2="644.9" stroke="#000" stroke-width="4"/>
<line x1="171" y1="615.8" x2="202" y2="615.8" stroke="#000" stroke-width="4"/>
<line x1="171" y1="644.9" x2="202" y2="644.9" stroke="#000" stroke-width="4"/>
<circle cx="173.9" cy="619.5" r="6.2" fill="#000"/>
<circle cx="198.7" cy="619.5" r="6.2" fill="#000"/>
<circle cx="187.1" cy="647.8" r="6.2" fill="#000"/>
<line x1="306.4" y1="720.4" x2="306.4" y2="768.4" stroke="#000" stroke-width="4"/>
<line x1="290.9" y1="720.4" x2="321.9" y2="720.4" stroke="#000" stroke-width="4"/>
<line x1="290.9" y1="768.4" x2="321.9" y2="768.4" stroke="#000" stroke-width="4"/>
<rect x="300.7" y="714.2" width="12.4" height="12.4" fill="#000"/>
<rect x="300.7" y="740" width="12.4" height="12.4" fill="#000"/>
<rect x="300.7" y="763.9" width="12.4" height="12.4" fill="#000"/>
<line x1="426.3" y1="627.4" x2="426.3" y2="730.7" stroke="#000" stroke-width="4"/>
<line x1="410.8" y1="627.4" x2="441.8" y2="627.4" stroke="#000" stroke-width="4"/>
<line x1="410.8" y1="730.7" x2="441.8" y2="730.7" stroke="#000" stroke-width="4"/>
<polygon points="426.3,617.3 433.1,629.1 419.5,629.1" fill="#000"/>
<polygon points="426.3,687.4 433.1,699.2 419.5,699.2" fill="#000"/>
<polygon points="426.3,714.5 433.1,726.3 419.5,726.3" fill="#000"/>
<line x1="545.9" y1="758.3" x2="545.9" y2="815.6" stroke="#000" stroke-width="4"/>
<line x1="530.4" y1="758.3" x2="561.4" y2="758.3" stroke="#000" stroke-width="4"/>
<line x1="530.4" y1="815.6" x2="561.4" y2="815.6" stroke="#000" stroke-width="4"/>
<polygon points="535.4,775.5 542.2,763.7 528.6,763.7" fill="#000"/>
<polygon points="555.9,775.5 562.7,763.7 549.1,763.7" fill="#000"/>
<polygon points="545.9,827.2 552.7,815.4 539.1,815.4" fill="#000"/>
<line x1="126.8" y1="570.8" x2="126.8" y2="870" stroke="#000" stroke-width="4.2"/>
<line x1="124.7" y1="868" x2="606" y2="868" stroke="#000" stroke-width="4.4"/>
<line x1="120.8" y1="868" x2="126.8" y2="868" stroke="#000" stroke-width="3.6"/>
<text x="109.5" y="876.6" font-size="25" font-weight="bold" text-anchor="end">0.00</text>
<line x1="120.8" y1="818.8" x2="126.8" y2="818.8" stroke="#000" stroke-width="3.6"/>
<text x="109.5" y="827.4" font-size="25" font-weight="bold" text-anchor="end">0.02</text>
<line x1="120.8" y1="769.6" x2="126.8" y2="769.6" stroke="#000" stroke-width="3.6"/>
<text x="109.5" y="778.2" font-size="25" font-weight="bold" text-anchor="end">0.04</text>
<line x1="120.8" y1="720.4" x2="126.8" y2="720.4" stroke="#000" stroke-width="3.6"/>
<text x="109.5" y="729" font-size="25" font-weight="bold" text-anchor="end">0.06</text>
<line x1="120.8" y1="671.2" x2="126.8" y2="671.2" stroke="#000" stroke-width="3.6"/>
<text x="109.5" y="679.8" font-size="25" font-weight="bold" text-anchor="end">0.08</text>
<line x1="120.8" y1="622" x2="126.8" y2="622" stroke="#000" stroke-width="3.6"/>
<text x="109.5" y="630.6" font-size="25" font-weight="bold" text-anchor="end">0.10</text>
<line x1="120.8" y1="572.8" x2="126.8" y2="572.8" stroke="#000" stroke-width="3.6"/>
<text x="109.5" y="581.4" font-size="25" font-weight="bold" text-anchor="end">0.12</text>
<line x1="186.5" y1="868" x2="186.5" y2="873" stroke="#000" stroke-width="3.4"/>
<line x1="306.4" y1="868" x2="306.4" y2="873" stroke="#000" stroke-width="3.4"/>
<line x1="426.3" y1="868" x2="426.3" y2="873" stroke="#000" stroke-width="3.4"/>
<line x1="545.9" y1="868" x2="545.9" y2="873" stroke="#000" stroke-width="3.4"/>
<text x="186.5" y="903" font-size="24.4" font-weight="bold" text-anchor="middle">Ctrl feed</text>
<text x="306.4" y="903" font-size="24.4" font-weight="bold" text-anchor="middle">EA Feed</text>
<text x="426.3" y="903" font-size="24.4" font-weight="bold" text-anchor="middle">Vec Ctrl</text>
<text x="545.9" y="903" font-size="24.4" font-weight="bold" text-anchor="middle">shLOXL2</text>
<text x="366" y="541.3" font-size="28.3" font-weight="bold" text-anchor="middle">DHLNL</text>
<text x="37" y="720.4" font-size="24.9" font-weight="bold" text-anchor="middle" transform="rotate(-90 37 720.4)">Mole/mole of collagen</text>
<path d="M186.5 607.6 V597.7 H306.4 V708.6" fill="none" stroke="#333" stroke-width="1.5"/>
<text x="188" y="582.7" font-size="24.7"><tspan font-style="italic">p</tspan> = 0.0048</text>
<path d="M426.3 612.6 V603.3 H545.9 V736.8" fill="none" stroke="#333" stroke-width="1.5"/>
<text x="427.3" y="588.4" font-size="24.7"><tspan font-style="italic">p</tspan> = 0.0484</text>
<rect x="807.8" y="660.8" width="58" height="205.7" fill="#d3d3d3" stroke="#000" stroke-width="3"/>
<rect x="928.7" y="768" width="58" height="98.5" fill="#d3d3d3" stroke="#000" stroke-width="3"/>
<rect x="1050" y="746.1" width="58" height="120.4" fill="#d3d3d3" stroke="#000" stroke-width="3"/>
<rect x="1171.3" y="810.1" width="58" height="56.4" fill="#d3d3d3" stroke="#000" stroke-width="3"/>
<line x1="1018.5" y1="553" x2="1018.5" y2="866.5" stroke="#e8262a" stroke-width="1.6" stroke-dasharray="5,4"/>
<line x1="836.8" y1="622.2" x2="836.8" y2="698.5" stroke="#000" stroke-width="4"/>
<line x1="821.3" y1="622.2" x2="852.3" y2="622.2" stroke="#000" stroke-width="4"/>
<line x1="821.3" y1="698.5" x2="852.3" y2="698.5" stroke="#000" stroke-width="4"/>
<circle cx="836.8" cy="632.2" r="6.2" fill="#000"/>
<circle cx="836.8" cy="644.1" r="6.2" fill="#000"/>
<circle cx="836.8" cy="703.6" r="6.2" fill="#000"/>
<line x1="957.7" y1="759.3" x2="957.7" y2="776.3" stroke="#000" stroke-width="4"/>
<line x1="942.2" y1="759.3" x2="973.2" y2="759.3" stroke="#000" stroke-width="4"/>
<line x1="942.2" y1="776.3" x2="973.2" y2="776.3" stroke="#000" stroke-width="4"/>
<rect x="941.5" y="755" width="12.4" height="12.4" fill="#000"/>
<rect x="961.5" y="761" width="12.4" height="12.4" fill="#000"/>
<rect x="941.5" y="770.9" width="12.4" height="12.4" fill="#000"/>
<rect x="951.5" y="761" width="12.4" height="12.4" fill="#000"/>
<line x1="1079" y1="731.5" x2="1079" y2="759.3" stroke="#000" stroke-width="4"/>
<line x1="1063.5" y1="731.5" x2="1094.5" y2="731.5" stroke="#000" stroke-width="4"/>
<line x1="1063.5" y1="759.3" x2="1094.5" y2="759.3" stroke="#000" stroke-width="4"/>
<polygon points="1079,722.3 1085.8,734.1 1072.2,734.1" fill="#000"/>
<polygon points="1067,748.2 1073.8,759.9 1060.2,759.9" fill="#000"/>
<polygon points="1091,748.2 1097.8,759.9 1084.2,759.9" fill="#000"/>
<line x1="1200.3" y1="800.2" x2="1200.3" y2="817.2" stroke="#000" stroke-width="4"/>
<line x1="1184.8" y1="800.2" x2="1215.8" y2="800.2" stroke="#000" stroke-width="4"/>
<line x1="1184.8" y1="817.2" x2="1215.8" y2="817.2" stroke="#000" stroke-width="4"/>
<polygon points="1200.3,808.9 1207.1,797.1 1193.5,797.1" fill="#000"/>
<polygon points="1189.3,821.6 1196.1,809.8 1182.5,809.8" fill="#000"/>
<polygon points="1211.3,820.8 1218.1,809 1204.5,809" fill="#000"/>
<line x1="776" y1="566.6" x2="776" y2="868.5" stroke="#000" stroke-width="4.2"/>
<line x1="773.9" y1="866.5" x2="1261.8" y2="866.5" stroke="#000" stroke-width="4.4"/>
<line x1="770" y1="866.5" x2="776" y2="866.5" stroke="#000" stroke-width="3.6"/>
<text x="758" y="875.1" font-size="25" font-weight="bold" text-anchor="end">0.00</text>
<line x1="770" y1="767.2" x2="776" y2="767.2" stroke="#000" stroke-width="3.6"/>
<text x="758" y="775.8" font-size="25" font-weight="bold" text-anchor="end">0.25</text>
<line x1="770" y1="667.9" x2="776" y2="667.9" stroke="#000" stroke-width="3.6"/>
<text x="758" y="676.5" font-size="25" font-weight="bold" text-anchor="end">0.50</text>
<line x1="770" y1="568.6" x2="776" y2="568.6" stroke="#000" stroke-width="3.6"/>
<text x="758" y="577.2" font-size="25" font-weight="bold" text-anchor="end">0.75</text>
<line x1="836.8" y1="866.5" x2="836.8" y2="871.5" stroke="#000" stroke-width="3.4"/>
<line x1="957.7" y1="866.5" x2="957.7" y2="871.5" stroke="#000" stroke-width="3.4"/>
<line x1="1079" y1="866.5" x2="1079" y2="871.5" stroke="#000" stroke-width="3.4"/>
<line x1="1200.3" y1="866.5" x2="1200.3" y2="871.5" stroke="#000" stroke-width="3.4"/>
<text x="836.8" y="901.5" font-size="24.4" font-weight="bold" text-anchor="middle">Ctrl feed</text>
<text x="957.7" y="901.5" font-size="24.4" font-weight="bold" text-anchor="middle">EA feed</text>
<text x="1079" y="901.5" font-size="24.4" font-weight="bold" text-anchor="middle">Vec Ctrl</text>
<text x="1200.3" y="901.5" font-size="24.4" font-weight="bold" text-anchor="middle">shLOXL2</text>
<text x="1020" y="541.3" font-size="28.3" font-weight="bold" text-anchor="middle">HLNL</text>
<text x="686" y="717.5" font-size="24.9" font-weight="bold" text-anchor="middle" transform="rotate(-90 686 717.5)">Mole/mole of collagen</text>
<path d="M836.8 614.7 V603.4 H957.7 V749.6" fill="none" stroke="#333" stroke-width="1.5"/>
<text x="838" y="589" font-size="24.7"><tspan font-style="italic">p</tspan> = 0.0353</text>
<path d="M1079 722.3 V710.4 H1200.3 V790" fill="none" stroke="#333" stroke-width="1.5"/>
<text x="1080" y="694" font-size="24.7"><tspan font-style="italic">p</tspan> = 0.0069</text>
<rect x="1487.4" y="673.7" width="58" height="193.2" fill="#d3d3d3" stroke="#000" stroke-width="3"/>
<rect x="1609.4" y="801.5" width="58" height="65.4" fill="#d3d3d3" stroke="#000" stroke-width="3"/>
<rect x="1731" y="703.4" width="58" height="163.5" fill="#d3d3d3" stroke="#000" stroke-width="3"/>
<rect x="1852.3" y="826.8" width="58" height="40.1" fill="#d3d3d3" stroke="#000" stroke-width="3"/>
<line x1="1699.2" y1="572" x2="1699.2" y2="866.9" stroke="#e8262a" stroke-width="1.6" stroke-dasharray="5,4"/>
<line x1="1516.4" y1="627" x2="1516.4" y2="721.2" stroke="#000" stroke-width="4"/>
<line x1="1500.9" y1="627" x2="1531.9" y2="627" stroke="#000" stroke-width="4"/>
<line x1="1500.9" y1="721.2" x2="1531.9" y2="721.2" stroke="#000" stroke-width="4"/>
<circle cx="1516.4" cy="641" r="6.2" fill="#000"/>
<circle cx="1516.4" cy="652.8" r="6.2" fill="#000"/>
<circle cx="1516.4" cy="727.2" r="6.2" fill="#000"/>
<line x1="1638.4" y1="766.7" x2="1638.4" y2="837.5" stroke="#000" stroke-width="4"/>
<line x1="1622.9" y1="766.7" x2="1653.9" y2="766.7" stroke="#000" stroke-width="4"/>
<line x1="1622.9" y1="837.5" x2="1653.9" y2="837.5" stroke="#000" stroke-width="4"/>
<rect x="1632.2" y="759.6" width="12.4" height="12.4" fill="#000"/>
<rect x="1632.2" y="793.8" width="12.4" height="12.4" fill="#000"/>
<rect x="1632.2" y="832.5" width="12.4" height="12.4" fill="#000"/>
<line x1="1760" y1="684.1" x2="1760" y2="721.2" stroke="#000" stroke-width="4"/>
<line x1="1744.5" y1="684.1" x2="1775.5" y2="684.1" stroke="#000" stroke-width="4"/>
<line x1="1744.5" y1="721.2" x2="1775.5" y2="721.2" stroke="#000" stroke-width="4"/>
<polygon points="1748,685.8 1754.8,697.6 1741.2,697.6" fill="#000"/>
<polygon points="1772,685.8 1778.8,697.6 1765.2,697.6" fill="#000"/>
<polygon points="1760,720 1766.8,731.8 1753.2,731.8" fill="#000"/>
<line x1="1881.3" y1="795.5" x2="1881.3" y2="856.2" stroke="#000" stroke-width="4"/>
<line x1="1865.8" y1="795.5" x2="1896.8" y2="795.5" stroke="#000" stroke-width="4"/>
<line x1="1865.8" y1="856.2" x2="1896.8" y2="856.2" stroke="#000" stroke-width="4"/>
<polygon points="1881.3,796.7 1888.1,785 1874.5,785" fill="#000"/>
<polygon points="1881.3,838.4 1888.1,826.6 1874.5,826.6" fill="#000"/>
<polygon points="1881.3,859.2 1888.1,847.4 1874.5,847.4" fill="#000"/>
<line x1="1456.3" y1="567.6" x2="1456.3" y2="868.9" stroke="#000" stroke-width="4.2"/>
<line x1="1454.2" y1="866.9" x2="1943.5" y2="866.9" stroke="#000" stroke-width="4.4"/>
<line x1="1450.3" y1="866.9" x2="1456.3" y2="866.9" stroke="#000" stroke-width="3.6"/>
<text x="1439.8" y="875.5" font-size="25" font-weight="bold" text-anchor="end">0.00</text>
<line x1="1450.3" y1="807.4" x2="1456.3" y2="807.4" stroke="#000" stroke-width="3.6"/>
<text x="1439.8" y="816" font-size="25" font-weight="bold" text-anchor="end">0.02</text>
<line x1="1450.3" y1="748" x2="1456.3" y2="748" stroke="#000" stroke-width="3.6"/>
<text x="1439.8" y="756.6" font-size="25" font-weight="bold" text-anchor="end">0.04</text>
<line x1="1450.3" y1="688.5" x2="1456.3" y2="688.5" stroke="#000" stroke-width="3.6"/>
<text x="1439.8" y="697.1" font-size="25" font-weight="bold" text-anchor="end">0.06</text>
<line x1="1450.3" y1="629.1" x2="1456.3" y2="629.1" stroke="#000" stroke-width="3.6"/>
<text x="1439.8" y="637.7" font-size="25" font-weight="bold" text-anchor="end">0.08</text>
<line x1="1450.3" y1="569.6" x2="1456.3" y2="569.6" stroke="#000" stroke-width="3.6"/>
<text x="1439.8" y="578.2" font-size="25" font-weight="bold" text-anchor="end">0.10</text>
<line x1="1516.4" y1="866.9" x2="1516.4" y2="871.9" stroke="#000" stroke-width="3.4"/>
<line x1="1638.4" y1="866.9" x2="1638.4" y2="871.9" stroke="#000" stroke-width="3.4"/>
<line x1="1760" y1="866.9" x2="1760" y2="871.9" stroke="#000" stroke-width="3.4"/>
<line x1="1881.3" y1="866.9" x2="1881.3" y2="871.9" stroke="#000" stroke-width="3.4"/>
<text x="1516.4" y="901.9" font-size="24.4" font-weight="bold" text-anchor="middle">Ctrl Feed</text>
<text x="1638.4" y="901.9" font-size="24.4" font-weight="bold" text-anchor="middle">EA feed</text>
<text x="1760" y="901.9" font-size="24.4" font-weight="bold" text-anchor="middle">Vec Ctrl</text>
<text x="1881.3" y="901.9" font-size="24.4" font-weight="bold" text-anchor="middle">shLOXL2</text>
<text x="1701" y="541.3" font-size="24.5" font-weight="bold" text-anchor="middle">d-Pyr</text>
<text x="1366" y="718.2" font-size="24.9" font-weight="bold" text-anchor="middle" transform="rotate(-90 1366 718.2)">Mole/mole of collagen</text>
<path d="M1516.4 620.9 V608.6 H1638.4 V746.2" fill="none" stroke="#333" stroke-width="1.5"/>
<text x="1519.9" y="594.2" font-size="24.7"><tspan font-style="italic">p</tspan> = 0.0227</text>
<path d="M1760 674.5 V661.5 H1881.3 V780.4" fill="none" stroke="#333" stroke-width="1.5"/>
<text x="1760.7" y="647.8" font-size="24.7"><tspan font-style="italic">p</tspan> = 0.0067</text>
<line x1="1574.2" y1="1086.6" x2="1574.2" y2="1401.8" stroke="#000" stroke-width="5"/>
<line x1="1571.7" y1="1399.8" x2="2040" y2="1399.8" stroke="#000" stroke-width="5"/>
<line x1="1567" y1="1399.8" x2="1574.2" y2="1399.8" stroke="#000" stroke-width="4"/>
<text x="1555" y="1408.1" font-size="24.3" font-weight="bold" text-anchor="end">0</text>
<line x1="1567" y1="1368.7" x2="1574.2" y2="1368.7" stroke="#000" stroke-width="4"/>
<text x="1555" y="1377" font-size="24.3" font-weight="bold" text-anchor="end">6</text>
<line x1="1567" y1="1337.6" x2="1574.2" y2="1337.6" stroke="#000" stroke-width="4"/>
<text x="1555" y="1345.9" font-size="24.3" font-weight="bold" text-anchor="end">12</text>
<line x1="1567" y1="1306.4" x2="1574.2" y2="1306.4" stroke="#000" stroke-width="4"/>
<text x="1555" y="1314.7" font-size="24.3" font-weight="bold" text-anchor="end">18</text>
<line x1="1567" y1="1275.3" x2="1574.2" y2="1275.3" stroke="#000" stroke-width="4"/>
<text x="1555" y="1283.6" font-size="24.3" font-weight="bold" text-anchor="end">24</text>
<line x1="1567" y1="1244.2" x2="1574.2" y2="1244.2" stroke="#000" stroke-width="4"/>
<text x="1555" y="1252.5" font-size="24.3" font-weight="bold" text-anchor="end">30</text>
<line x1="1567" y1="1213.1" x2="1574.2" y2="1213.1" stroke="#000" stroke-width="4"/>
<text x="1555" y="1221.4" font-size="24.3" font-weight="bold" text-anchor="end">36</text>
<line x1="1567" y1="1182" x2="1574.2" y2="1182" stroke="#000" stroke-width="4"/>
<text x="1555" y="1190.3" font-size="24.3" font-weight="bold" text-anchor="end">42</text>
<line x1="1567" y1="1150.8" x2="1574.2" y2="1150.8" stroke="#000" stroke-width="4"/>
<text x="1555" y="1159.1" font-size="24.3" font-weight="bold" text-anchor="end">48</text>
<line x1="1567" y1="1119.7" x2="1574.2" y2="1119.7" stroke="#000" stroke-width="4"/>
<text x="1555" y="1128" font-size="24.3" font-weight="bold" text-anchor="end">54</text>
<line x1="1567" y1="1088.6" x2="1574.2" y2="1088.6" stroke="#000" stroke-width="4"/>
<text x="1555" y="1096.9" font-size="24.3" font-weight="bold" text-anchor="end">60</text>
<line x1="1631.6" y1="1399.8" x2="1631.6" y2="1409.8" stroke="#000" stroke-width="4"/>
<line x1="1747.7" y1="1399.8" x2="1747.7" y2="1409.8" stroke="#000" stroke-width="4"/>
<line x1="1864.6" y1="1399.8" x2="1864.6" y2="1409.8" stroke="#000" stroke-width="4"/>
<line x1="1980.7" y1="1399.8" x2="1980.7" y2="1409.8" stroke="#000" stroke-width="4"/>
<text x="1631.6" y="1435.7" font-size="24.9" font-weight="bold" text-anchor="middle">393P</text>
<text x="1747.7" y="1435.7" font-size="24.9" font-weight="bold" text-anchor="middle">344SQ</text>
<text x="1747.7" y="1466.2" font-size="24.9" font-weight="bold" text-anchor="middle">Vec Ctrl</text>
<text x="1864.6" y="1435.7" font-size="24.9" font-weight="bold" text-anchor="middle">344SQ +</text>
<text x="1864.6" y="1466.2" font-size="24.9" font-weight="bold" text-anchor="middle">EA Feed</text>
<text x="1980.7" y="1435.7" font-size="24.9" font-weight="bold" text-anchor="middle">344SQ</text>
<text x="1980.7" y="1466.2" font-size="24.9" font-weight="bold" text-anchor="middle">shLOXL2</text>
<circle cx="1622.6" cy="1143.1" r="6.3" fill="#fb8010"/>
<circle cx="1640.6" cy="1149.3" r="6.3" fill="#fb8010"/>
<circle cx="1631.6" cy="1197.5" r="6.3" fill="#fb8010"/>
<circle cx="1631.6" cy="1207.9" r="6.3" fill="#fb8010"/>
<circle cx="1631.6" cy="1220.9" r="6.3" fill="#fb8010"/>
<line x1="1631.6" y1="1147.7" x2="1631.6" y2="1218.3" stroke="#fb8010" stroke-width="4"/>
<line x1="1612.6" y1="1147.7" x2="1650.6" y2="1147.7" stroke="#fb8010" stroke-width="4"/>
<line x1="1612.6" y1="1218.3" x2="1650.6" y2="1218.3" stroke="#fb8010" stroke-width="4"/>
<line x1="1592.6" y1="1183" x2="1670.6" y2="1183" stroke="#fb8010" stroke-width="4"/>
<rect x="1731.6" y="1219.2" width="12.6" height="12.6" fill="#000"/>
<rect x="1750.5" y="1215.6" width="12.6" height="12.6" fill="#000"/>
<rect x="1751.4" y="1227.5" width="12.6" height="12.6" fill="#000"/>
<rect x="1741.4" y="1288.2" width="12.6" height="12.6" fill="#000"/>
<line x1="1747.7" y1="1210.5" x2="1747.7" y2="1275.3" stroke="#000" stroke-width="4"/>
<line x1="1728.7" y1="1210.5" x2="1766.7" y2="1210.5" stroke="#000" stroke-width="4"/>
<line x1="1728.7" y1="1275.3" x2="1766.7" y2="1275.3" stroke="#000" stroke-width="4"/>
<line x1="1709.2" y1="1243.2" x2="1786.2" y2="1243.2" stroke="#000" stroke-width="4"/>
<polygon points="1864.6,1093.8 1871.5,1105.8 1857.7,1105.8" fill="#1010f0"/>
<polygon points="1864.6,1143.6 1871.5,1155.6 1857.7,1155.6" fill="#1010f0"/>
<polygon points="1864.6,1182.5 1871.5,1194.5 1857.7,1194.5" fill="#1010f0"/>
<polygon points="1864.6,1211 1871.5,1223 1857.7,1223" fill="#1010f0"/>
<line x1="1864.6" y1="1113.5" x2="1864.6" y2="1213.1" stroke="#1010f0" stroke-width="4"/>
<line x1="1845.6" y1="1113.5" x2="1883.6" y2="1113.5" stroke="#1010f0" stroke-width="4"/>
<line x1="1845.6" y1="1213.1" x2="1883.6" y2="1213.1" stroke="#1010f0" stroke-width="4"/>
<line x1="1826.6" y1="1163.3" x2="1902.6" y2="1163.3" stroke="#1010f0" stroke-width="4"/>
<polygon points="1980.7,1119.2 1987.6,1107.2 1973.8,1107.2" fill="#1010f0"/>
<polygon points="1980.7,1168.5 1987.6,1156.5 1973.8,1156.5" fill="#1010f0"/>
<polygon points="1980.7,1189.2 1987.6,1177.2 1973.8,1177.2" fill="#1010f0"/>
<polygon points="1980.7,1215.1 1987.6,1203.2 1973.8,1203.2" fill="#1010f0"/>
<polygon points="1980.7,1233.3 1987.6,1221.3 1973.8,1221.3" fill="#1010f0"/>
<line x1="1980.7" y1="1135.3" x2="1980.7" y2="1225.5" stroke="#1010f0" stroke-width="4"/>
<line x1="1962.2" y1="1135.3" x2="1999.2" y2="1135.3" stroke="#1010f0" stroke-width="4"/>
<line x1="1962.2" y1="1225.5" x2="1999.2" y2="1225.5" stroke="#1010f0" stroke-width="4"/>
<line x1="1942.7" y1="1180.4" x2="2018.7" y2="1180.4" stroke="#1010f0" stroke-width="4"/>
<text x="1806.6" y="1013.7" font-size="23.8" font-weight="bold" text-anchor="middle">CD8<tspan dy="-11" font-size="16">+</tspan><tspan dy="11"> T Cells</tspan></text>
<text transform="translate(1509 1240.6) rotate(-90)" font-size="25.2" font-weight="bold" text-anchor="middle">% CD8<tspan dy="-11" font-size="17">+</tspan><tspan dy="11">/CD3</tspan><tspan dy="-11" font-size="17">+</tspan><tspan dy="11"> cells</tspan></text>
<path d="M1631.6 1139.5 V1126.4 H1747.7 V1139.5" fill="none" stroke="#111" stroke-width="2.2"/>
<text x="1644.8" y="1116" font-size="20.6"><tspan font-style="italic">p</tspan> = 0.0346</text>
<path d="M1747.7 1093 V1082.4 H1864.6 V1093 M1747.7 1082.4 V1096" fill="none" stroke="#111" stroke-width="2.2"/>
<text x="1757.7" y="1070.8" font-size="20.6"><tspan font-style="italic">p</tspan> = 0.0419</text>
<path d="M1747.7 1061.6 V1048.8 H1980.7 V1061.6" fill="none" stroke="#111" stroke-width="2.2"/>
<text x="1814.2" y="1036.6" font-size="20.6"><tspan font-style="italic">p</tspan> = 0.0438</text>
<line x1="1575.6" y1="1647.5" x2="1575.6" y2="1965.2" stroke="#000" stroke-width="5"/>
<line x1="1573.1" y1="1963.2" x2="2050" y2="1963.2" stroke="#000" stroke-width="5"/>
<line x1="1568.4" y1="1963.2" x2="1575.6" y2="1963.2" stroke="#000" stroke-width="4"/>
<text x="1559" y="1971.5" font-size="24.3" font-weight="bold" text-anchor="end">0</text>
<line x1="1568.4" y1="1884.8" x2="1575.6" y2="1884.8" stroke="#000" stroke-width="4"/>
<text x="1559" y="1893.1" font-size="24.3" font-weight="bold" text-anchor="end">20</text>
<line x1="1568.4" y1="1806.3" x2="1575.6" y2="1806.3" stroke="#000" stroke-width="4"/>
<text x="1559" y="1814.6" font-size="24.3" font-weight="bold" text-anchor="end">40</text>
<line x1="1568.4" y1="1727.9" x2="1575.6" y2="1727.9" stroke="#000" stroke-width="4"/>
<text x="1559" y="1736.2" font-size="24.3" font-weight="bold" text-anchor="end">60</text>
<line x1="1568.4" y1="1649.5" x2="1575.6" y2="1649.5" stroke="#000" stroke-width="4"/>
<text x="1559" y="1657.8" font-size="24.3" font-weight="bold" text-anchor="end">80</text>
<line x1="1634" y1="1963.2" x2="1634" y2="1973.2" stroke="#000" stroke-width="4"/>
<line x1="1753.2" y1="1963.2" x2="1753.2" y2="1973.2" stroke="#000" stroke-width="4"/>
<line x1="1870.7" y1="1963.2" x2="1870.7" y2="1973.2" stroke="#000" stroke-width="4"/>
<line x1="1989" y1="1963.2" x2="1989" y2="1973.2" stroke="#000" stroke-width="4"/>
<text x="1634" y="2000.4" font-size="24.9" font-weight="bold" text-anchor="middle">393P</text>
<text x="1753.2" y="2000.4" font-size="24.9" font-weight="bold" text-anchor="middle">344SQ</text>
<text x="1753.2" y="2030.9" font-size="24.9" font-weight="bold" text-anchor="middle">Vec Ctrl</text>
<text x="1870.7" y="2000.4" font-size="24.9" font-weight="bold" text-anchor="middle">344SQ +</text>
<text x="1870.7" y="2030.9" font-size="24.9" font-weight="bold" text-anchor="middle">EA feed</text>
<text x="1989" y="2000.4" font-size="24.9" font-weight="bold" text-anchor="middle">344SQ</text>
<text x="1989" y="2030.9" font-size="24.9" font-weight="bold" text-anchor="middle">shLOXL2</text>
<circle cx="1634" cy="1771.1" r="6.3" fill="#fb8010"/>
<circle cx="1634" cy="1792.6" r="6.3" fill="#fb8010"/>
<circle cx="1615" cy="1832.6" r="6.3" fill="#fb8010"/>
<circle cx="1634" cy="1829.9" r="6.3" fill="#fb8010"/>
<circle cx="1653" cy="1833.8" r="6.3" fill="#fb8010"/>
<line x1="1634" y1="1782.8" x2="1634" y2="1841.6" stroke="#fb8010" stroke-width="4"/>
<line x1="1615" y1="1782.8" x2="1653" y2="1782.8" stroke="#fb8010" stroke-width="4"/>
<line x1="1615" y1="1841.6" x2="1653" y2="1841.6" stroke="#fb8010" stroke-width="4"/>
<line x1="1594.8" y1="1813" x2="1673.2" y2="1813" stroke="#fb8010" stroke-width="4"/>
<rect x="1746.9" y="1680.5" width="12.6" height="12.6" fill="#000"/>
<rect x="1746.9" y="1712.6" width="12.6" height="12.6" fill="#000"/>
<rect x="1746.9" y="1745.2" width="12.6" height="12.6" fill="#000"/>
<rect x="1746.9" y="1762.4" width="12.6" height="12.6" fill="#000"/>
<line x1="1753.2" y1="1694.6" x2="1753.2" y2="1764" stroke="#000" stroke-width="4"/>
<line x1="1734.2" y1="1694.6" x2="1772.2" y2="1694.6" stroke="#000" stroke-width="4"/>
<line x1="1734.2" y1="1764" x2="1772.2" y2="1764" stroke="#000" stroke-width="4"/>
<line x1="1714.7" y1="1729.9" x2="1791.7" y2="1729.9" stroke="#000" stroke-width="4"/>
<polygon points="1870.7,1756 1877.6,1767.9 1863.8,1767.9" fill="#1010f0"/>
<polygon points="1880.7,1787.3 1887.6,1799.3 1873.8,1799.3" fill="#1010f0"/>
<polygon points="1861.7,1797.1 1868.6,1809.1 1854.8,1809.1" fill="#1010f0"/>
<line x1="1870.7" y1="1769.1" x2="1870.7" y2="1804.4" stroke="#1010f0" stroke-width="4"/>
<line x1="1851.7" y1="1769.1" x2="1889.7" y2="1769.1" stroke="#1010f0" stroke-width="4"/>
<line x1="1851.7" y1="1804.4" x2="1889.7" y2="1804.4" stroke="#1010f0" stroke-width="4"/>
<line x1="1832" y1="1786.7" x2="1909.5" y2="1786.7" stroke="#1010f0" stroke-width="4"/>
<polygon points="1989,1819.5 1995.9,1807.5 1982.1,1807.5" fill="#1010f0"/>
<polygon points="1989,1833.2 1995.9,1821.2 1982.1,1821.2" fill="#1010f0"/>
<polygon points="1989,1845 1995.9,1833 1982.1,1833" fill="#1010f0"/>
<polygon points="1989,1864.6 1995.9,1852.6 1982.1,1852.6" fill="#1010f0"/>
<polygon points="1989,1880.3 1995.9,1868.3 1982.1,1868.3" fill="#1010f0"/>
<line x1="1989" y1="1818.1" x2="1989" y2="1869.1" stroke="#1010f0" stroke-width="4"/>
<line x1="1970" y1="1818.1" x2="2008" y2="1818.1" stroke="#1010f0" stroke-width="4"/>
<line x1="1970" y1="1869.1" x2="2008" y2="1869.1" stroke="#1010f0" stroke-width="4"/>
<line x1="1950" y1="1843.6" x2="2028" y2="1843.6" stroke="#1010f0" stroke-width="4"/>
<text x="1811" y="1576.4" font-size="24.8" font-weight="bold" text-anchor="middle">Exhausted CD8<tspan dy="-11" font-size="16">+</tspan><tspan dy="11"> T Cells</tspan></text>
<text transform="translate(1512.5 1804.6) rotate(-90)" font-size="25.2" font-weight="bold" text-anchor="middle">% PD1<tspan dy="-11" font-size="17">+</tspan><tspan dy="11">TIM3</tspan><tspan dy="-11" font-size="17">+</tspan><tspan dy="11">/CD8</tspan><tspan dy="-11" font-size="17">+</tspan></text>
<path d="M1753.2 1632.3 V1619.2 H1989 V1632.3" fill="none" stroke="#111" stroke-width="2.2"/>
<text x="1821.9" y="1609.4" font-size="20.6"><tspan font-style="italic">p</tspan> = 0.0001</text>
<path d="M1634 1677.2 V1664.4 H1870.7 V1677.2 M1753.2 1664.4 V1677.2" fill="none" stroke="#111" stroke-width="2.2"/>
<text x="1644.8" y="1653.7" font-size="20.6"><tspan font-style="italic">p</tspan> = 0.0026</text>
<text x="1749.5" y="1653.7" font-size="20.6"><tspan font-style="italic">p</tspan> = 0.0483</text>
<g><path fill-rule="evenodd" fill="#000fff" d="M304.1 1318.1 296.1 1318.9 274.1 1316.1 258.6 1312.1 241.1 1305.4 236.1 1304.5 218.1 1303.2 211.1 1302 204.3 1300.1 199.3 1298.1 194.2 1295.1 191.1 1292.1 189.7 1289.1 189.7 1287.1 190.5 1285.1 190.2 1284.1 187.2 1280.1 185.1 1276.1 183.3 1271.1 182.7 1267.1 180.7 1226.1 181.1 1215.1 182.1 1206.1 185.1 1192.7 187.1 1187.4 190.1 1182.1 192.9 1179.1 195.1 1177.8 206.1 1175.1 211.1 1175 215.1 1175.6 218.6 1177.1 221.1 1179 224.2 1184.1 224.8 1187.1 224.7 1192.1 226 1194.1 234.1 1196.1 239.1 1198.2 244.3 1199.1 251.1 1201.1 257.6 1204.1 264 1208.1 269 1212.1 274.1 1218 280.6 1229.1 281.1 1229.4 286.1 1227.2 289.1 1227.9 290.6 1229.1 291.7 1232.1 290.7 1235.1 289.1 1236.5 287.1 1237.3 282.1 1237 280.9 1243.1 292.1 1253.3 296.2 1258.1 300.1 1264 303.4 1272.1 304 1276.1 303.9 1282.1 304.5 1284.1 312.2 1293.1 314.4 1297.1 315.5 1301.1 315.3 1307.1 313.1 1312 309.1 1315.8Z"/><path fill-rule="evenodd" fill="#002dff" d="M302.1 1316.2 295.1 1316.3 283.1 1312.8 268.1 1310.7 244.1 1303 223.1 1302 211.1 1300.2 202.1 1297.1 198.6 1295.1 195.1 1292.1 194 1290.1 193.7 1288.1 195.2 1285.1 191.1 1281.6 188.4 1278.1 186.4 1274.1 184.9 1269.1 182.7 1244.1 182.7 1228.1 184.1 1212.1 187.2 1198.1 191.1 1189.7 195.5 1184.1 199.1 1180.5 203.1 1178.2 207.1 1177.1 212.1 1177.2 216.1 1178.3 220 1181.1 221.9 1184.1 222.7 1188.1 222.2 1194.1 223.1 1195.5 235.1 1197.9 239 1200.1 242.1 1202.7 252.1 1206 261.1 1211.1 265.8 1212.1 268 1214.1 268.7 1218.1 272.8 1224.1 275.5 1231.1 276.2 1237.1 275 1243.1 275.3 1244.1 286.4 1252.1 291.1 1257 294.1 1261 296.8 1266.1 298.1 1270.2 298.4 1274.1 297.6 1281.1 297.9 1283.1 299.6 1285.1 308.5 1292.1 311.1 1295.5 312.7 1299.1 313.2 1305.1 311.3 1310.1 307.3 1314.1ZM217.5 1210.1 218.7 1209.1 218.9 1208.1 218.7 1201.1 218.1 1200.3 217.1 1200.1 214.1 1201.9 212.9 1204.1 213.3 1206.1 215.1 1208.6ZM287.1 1236.1 284.1 1235.3 282.6 1233.1 283.3 1230.1 286.1 1228.3 289.3 1229.1 290.2 1230.1 290.8 1232.1 289.4 1235.1ZM273.1 1269.1 271.9 1265.1 269.4 1261.1 263.1 1255.1 262.1 1254.6 254.1 1256.4 252.5 1257.1 252.5 1258.1 253.2 1261.1 254.1 1261.7 271.1 1269.3Z"/><path fill-rule="evenodd" fill="#0052ff" d="M301.1 1314.2 296.1 1314.3 291.5 1313.1 287.8 1311.1 281.1 1305.8 279.1 1305 267.4 1304.1 250.1 1299.2 233.1 1300.6 219.1 1299.4 213 1298.1 207.2 1296.1 203.5 1294.1 201 1292.1 199.6 1289.1 200.1 1287.2 202.1 1285.4 205 1284.1 197.1 1282.9 193.1 1280.9 189.1 1276 186.4 1269.1 183.6 1242.1 183.5 1231.1 184.3 1221.1 186.4 1209.1 189.1 1201.3 192.1 1196.4 194.1 1194.7 196.2 1194.1 198.1 1186.1 200 1183.1 202.1 1181.2 206.1 1179.5 211.1 1179.6 216.1 1181.9 218.6 1185.1 219.3 1189.1 218.1 1193.4 216.3 1196.1 211.1 1201.1 208.8 1204.1 209.3 1206.1 216.1 1215.5 219.1 1218.6 222.2 1212.1 221 1207.1 222.1 1201.2 224.4 1199.1 229.1 1198.5 233.1 1199 235.8 1200.1 240.1 1203 244.1 1207.2 250.1 1209 256.1 1212 261.1 1215.6 265.5 1220.1 269.3 1226.1 271.3 1232.1 271.3 1238.1 269.6 1243.1 266.1 1247.8 260.1 1250.6 251.1 1253 245.1 1253.5 243.1 1253.2 242.6 1254.1 243.2 1257.1 245.9 1262.1 260.1 1266.5 278.1 1274.3 285.1 1275.6 288.1 1278.3 292.8 1286.1 301.1 1289.4 306.4 1293.1 308.8 1296.1 310.3 1299.1 310.9 1303.1 310.5 1306.1 309.1 1309.1 307.1 1311.3 304.4 1313.1ZM287.1 1235.2 285.1 1234.7 283.8 1233.1 284.1 1230.7 286.1 1229.2 288.1 1229.4 289.1 1230.1 289.9 1232.1 289.1 1234.2ZM215.4 1261.1 223.5 1260.1 222 1254.1 220.4 1251.1 218.1 1249.7 216.1 1250.1 209.1 1255.2 208.6 1257.1 209.3 1259.1 211.1 1260.6Z"/><path fill-rule="evenodd" fill="#007fff" d="M208.1 1199.3 205.1 1199.3 203.1 1198.3 201.1 1195.8 200 1193.1 200.1 1188 201.1 1185.8 204.1 1183 207.1 1182.7 209.1 1183.6 210.2 1185.1 212.3 1191.1 212.1 1195.6 210.2 1198.1ZM302.1 1311.1 298.1 1311.7 293.1 1311.1 291 1310.1 288.1 1307.5 285.9 1304.1 285.6 1300.1 286 1294.1 285.1 1293.8 276.1 1296.7 268.1 1297.7 256.1 1297.6 242.1 1295.9 236.1 1298.1 227.8 1298.1 223.5 1297.1 217.9 1294.1 212.6 1289.1 211.8 1287.1 212.3 1286.1 211.4 1285.1 205.1 1282.2 196.1 1280.5 192.6 1278.1 189.2 1273.1 187.3 1267.1 184.9 1249.1 184.2 1237.1 184.7 1225.1 186.3 1214.1 188.9 1205.1 192.3 1199.1 194.1 1197.5 196.1 1196.9 198.1 1197.4 200.1 1198.9 202.4 1202.1 205.1 1207.9 211.1 1214.2 214.3 1221.1 215.4 1230.1 214.3 1240.1 212.3 1245.1 208.1 1251 207.3 1254.1 207.5 1258.1 209.1 1261.5 212.1 1262.7 230.1 1262.1 245.1 1263.7 262.1 1268.6 278.1 1275.5 283.1 1278.6 287.1 1282.1 289.1 1285.1 290.1 1290.1 296.1 1290.7 300.1 1292 303.1 1294 305.1 1296.1 307.2 1300.1 307.4 1305.1 305.2 1309.1ZM250.1 1251.2 246.1 1251.8 242.1 1251.4 238.4 1250.1 235.4 1248.1 233 1245.1 230.1 1239.2 225.9 1233.1 224.1 1229.1 223.3 1225.1 223.5 1221.1 224.5 1218.1 226.7 1215.1 225 1213.1 223.1 1208.6 223.1 1206.5 224.1 1204.2 226.1 1202.7 229.1 1202.3 235.1 1203.5 239.6 1206.1 243.1 1210.7 251.1 1213.3 258.1 1217.8 263 1223.1 266.1 1229.1 266.9 1233.1 266.9 1236.1 266.1 1239.1 264.4 1242.1 261.4 1245.1 257.1 1248.1ZM287.1 1234.2 285.1 1233.3 284.8 1232.1 285.1 1231 287 1230.1 288.1 1230.6 288.9 1232.1 288.1 1233.8Z"/><path fill-rule="evenodd" fill="#00b2ff" d="M271.1 1296.2 262.1 1296.7 253.1 1296.3 243.1 1294.9 234.1 1292.9 220.3 1288.1 206.1 1280.6 196.1 1278.6 192.1 1275.3 190.1 1272 188.4 1267.1 185.7 1250.1 184.9 1236.1 185.7 1223.1 188.3 1210.1 190.1 1205.3 192.1 1201.9 194.1 1200 196.1 1199.4 199.1 1200.5 201.1 1202.7 203.5 1207.1 205.4 1212.1 207.7 1223.1 208 1237.1 206.3 1257.1 207 1261.1 208.1 1262.9 211.1 1264.3 228.1 1263.3 244.1 1264.8 261.1 1269.3 276.1 1275.4 281.1 1278.4 285.5 1282.1 287.4 1285.1 287.7 1288.1 286.1 1290.8 282.9 1293.1 278.1 1294.9ZM248.1 1250.2 244.1 1250.5 241.1 1249.9 238.1 1248.5 236.1 1246.7 234.1 1243.1 232.8 1236.1 230 1231.1 228.7 1227.1 229 1222.1 231.5 1218.1 236.1 1215.5 242.1 1215 248.1 1216.4 254.5 1220.1 259.1 1225.1 261.5 1231.1 261.7 1234.1 261.1 1236.6 257 1244.1 253.1 1248.1Z"/><path fill-rule="evenodd" fill="#00eaff" d="M270.1 1295.2 262.1 1295.7 253.1 1295.3 243.1 1293.9 234.1 1291.9 220.1 1286.8 206.1 1278.6 197.1 1277.1 195.1 1276.1 193 1274.1 191.1 1271.1 189.3 1266.1 186.4 1250.1 185.5 1236.1 186.4 1223.1 189.1 1210.6 191.1 1206 193.1 1203.2 195.1 1201.8 197.1 1201.7 199.1 1202.8 201.7 1206.1 205.2 1215.1 207.1 1226.1 207.3 1238.1 205.4 1258.1 205.9 1262.1 207.1 1264.5 208.1 1265.5 210.1 1266.1 226.1 1264.4 242.1 1265.6 259.1 1269.6 274.1 1275.3 280.1 1278.7 284.1 1282.1 285.9 1285.1 285.9 1288.1 284.1 1290.7 281.1 1292.5 276.1 1294.2ZM247.1 1249.1 243.1 1249.2 239.9 1248.1 237.4 1246.1 235.9 1243.1 236.1 1239.3 238.7 1233.1 237.3 1228.1 237.3 1226.1 239.1 1223.5 242.1 1222.4 246.1 1222.9 249.1 1224.5 251.7 1227.1 253 1230.1 253.2 1234.1 254.7 1240.1 254.5 1243.1 253.6 1245.1 251.7 1247.1Z"/><path fill-rule="evenodd" fill="#00f7cb" d="M270.1 1294.1 261.1 1294.7 252.1 1294.2 243.1 1293 234.1 1290.9 226.1 1288.2 219.2 1285.1 214.2 1282.1 206.1 1275.8 197.1 1275.1 195.1 1274 193.2 1272.1 190.1 1265.1 186.9 1249.1 186.1 1237.1 186.7 1225.1 189.2 1213.1 191.1 1208.4 193.1 1205.4 195.1 1204 197.1 1203.9 199.1 1205 201.1 1207.4 204.7 1216.1 206.6 1227.1 206.7 1240.1 204.5 1259.1 205.1 1264.1 206.5 1267.1 209.1 1268.5 223.1 1265.7 230.1 1265.6 238.1 1266.1 255.1 1269.4 271.1 1274.7 277.1 1277.7 281.8 1281.1 284.1 1284.1 284.7 1287.1 283.1 1289.8 280.1 1291.7 275.1 1293.3ZM248.1 1247.5 245.1 1248.1 242.1 1247.6 239.4 1246.1 238.1 1244.3 237.6 1242.1 238.1 1240.1 239.7 1238.1 242.1 1236.8 244.1 1236.4 247.1 1236.6 250 1238.1 251.6 1240.1 252.2 1242.1 251.8 1244.1 250.4 1246.1Z"/><path fill-rule="evenodd" fill="#00fe92" d="M200.1 1273.2 198.1 1273.2 195.6 1272.1 194.1 1270.7 192.1 1267.4 188.8 1256.1 186.9 1244.1 186.7 1232.1 188 1221.1 190.5 1212.1 192.1 1208.9 194.1 1206.6 196.1 1205.8 198.1 1206.3 201.1 1209.6 204.1 1217.1 205.9 1227.1 206.2 1239.1 203.6 1260.1 203.9 1270.1 202.6 1272.1ZM246.1 1246.2 243.1 1246.1 241.2 1245.1 240.1 1243.6 240.2 1241.1 241.1 1240 243.1 1238.9 246.7 1239.1 249.3 1241.1 249.7 1243.1 249.4 1244.1 248.1 1245.4ZM270.1 1293.2 257.1 1293.6 243.6 1292.1 231.1 1288.9 219.9 1284.1 215.3 1281.1 212.1 1278.1 210.2 1275.1 209.8 1273.1 211.1 1271.1 214.5 1269.1 223.1 1267 235.1 1266.9 248.1 1268.7 264.1 1272.7 275.1 1277.3 281.5 1282.1 283.2 1285.1 283.2 1287.1 282 1289.1 279.1 1291Z"/><path fill-rule="evenodd" fill="#00ff4d" d="M199.1 1270.4 197.1 1270.3 195.1 1269.1 192.1 1264.3 188.8 1253.1 187.3 1242.1 187.3 1231.1 188.8 1220.1 191.5 1212.1 193.1 1209.7 195 1208.1 196.1 1207.8 198.1 1208.3 200.1 1210.2 201.8 1213.1 204.4 1221.1 205.6 1230.1 205.4 1243.1 201.9 1266.1 201.1 1268.6ZM271.1 1292.2 259.1 1292.7 245.1 1291.4 232.1 1288.2 222.5 1284.1 215.6 1279.1 213.6 1276.1 213.3 1274.1 214.2 1272.1 216.9 1270.1 224.7 1268.1 236.1 1268 249.1 1269.8 262.1 1272.8 273.4 1277.1 277.1 1279.3 280.4 1282.1 281.7 1284.1 282.1 1286.1 281.3 1288.1 279.1 1289.9 276.1 1291.2Z"/><path fill-rule="evenodd" fill="#00ff07" d="M198.1 1267.2 197.1 1267.3 195.1 1266.2 193.1 1263.4 191.6 1260.1 188.8 1250.1 187.7 1240.1 187.9 1230.1 189.2 1221.1 192.1 1213.1 195.1 1209.9 196.1 1209.7 198.1 1210.2 200.1 1212.1 201.8 1215.1 204.2 1223.1 205.2 1232.1 205 1242.1 203.7 1251.1 200.5 1264.1 199.5 1266.1ZM272.1 1291.3 262.1 1291.9 249.1 1290.9 237.1 1288.5 227.5 1285.1 219.4 1280.1 217 1277.1 216.5 1275.1 217.2 1273.1 219.1 1271.5 222.5 1270.1 226.1 1269.4 236.1 1269.2 250.1 1270.8 262.1 1273.4 272.1 1277.1 278.3 1281.1 280 1283.1 280.8 1285.1 280.5 1287.1 278.5 1289.1Z"/><path fill-rule="evenodd" fill="#48ff00" d="M197.1 1264.2 196.1 1264 194.1 1262.3 191.1 1256.2 189 1248.1 188.1 1239.1 188.4 1230.1 189.9 1221.1 192.1 1215.2 195.1 1211.8 196.1 1211.5 198.1 1212 201.3 1216.1 203.8 1224.1 204.8 1233.1 204.5 1243.1 202.9 1252.1 200.1 1261 199.1 1262.8ZM265.1 1291.1 254.1 1290.5 241.1 1288.2 231.3 1285.1 225.4 1282.1 221 1278.1 220.2 1276.1 220.8 1274.1 223.1 1272.3 226.1 1271.3 235.1 1270.5 246.1 1271.1 258.1 1273 268.1 1275.9 275.1 1279.5 278.9 1283.1 279.6 1285.1 279.1 1287.1 277.1 1288.8 274.1 1290Z"/><path fill-rule="evenodd" fill="#98ff00" d="M197.1 1261.4 196.1 1261.4 194.1 1259.9 191.2 1254.1 189.3 1246.1 188.6 1238.1 189 1229.1 190.6 1221.1 193.1 1215.5 196.1 1213.2 198.1 1213.7 199.1 1214.5 201.8 1219.1 203.6 1226.1 204.4 1234.1 204 1243.1 202.3 1252.1 200.1 1258.1 199.1 1259.9ZM269.1 1290.2 260.1 1290.2 249.1 1288.5 239.9 1286.1 230.8 1282.1 227.1 1278.8 226.5 1277.1 227.1 1275.1 231.2 1273.1 237.1 1272.2 246.1 1272.1 256.1 1273.2 265.1 1275.4 272.1 1278.4 277.1 1282.1 278.2 1284.1 278.2 1286.1 277.1 1287.6 275.1 1288.8Z"/><path fill-rule="evenodd" fill="#d5ff00" d="M197.1 1259.1 195.1 1258.7 194.1 1257.8 192.1 1254.4 190.1 1247.8 189.1 1239.1 189.3 1231.1 190.7 1223.1 193.1 1217.3 195.7 1215.1 198.1 1215.4 201.1 1219.4 203.1 1226.1 203.9 1234.1 203.6 1243.1 202.1 1250.6 200.1 1255.9 199.1 1257.6ZM271.1 1289.2 265.1 1289.7 258.1 1289.2 250.1 1287.4 246.1 1285.6 241.9 1282.1 239.8 1278.1 240.1 1276.1 241.6 1274.1 246.1 1273.2 253.1 1273.5 260.1 1274.6 267.1 1276.7 272.2 1279.1 275.9 1282.1 277.2 1285.1 276.9 1286.1 275.1 1287.8Z"/><path fill-rule="evenodd" fill="#fff300" d="M197.1 1257.2 195.1 1256.8 194.1 1255.8 192.1 1252.3 190.3 1246.1 189.5 1238.1 189.9 1230.1 191.1 1224 193.1 1219.2 194.1 1217.9 196.1 1216.7 198.1 1217.1 199.1 1218 201.1 1221.3 202.9 1228.1 203.5 1235.1 203.2 1242.1 201.9 1249.1 200.1 1254 199.1 1255.6ZM272.1 1288.2 267.1 1289 261.1 1288.8 254.1 1287.4 250.1 1285.7 245.4 1282.1 243.7 1279.1 244.4 1276.1 247.1 1274.4 252.1 1274.2 259.1 1275 266.1 1276.9 270.9 1279.1 274.1 1281.4 275.8 1284.1 275.1 1286.5Z"/><path fill-rule="evenodd" fill="#ffcc00" d="M197.1 1255.4 195.1 1255 192.4 1251.1 190.9 1246.1 190.1 1239.8 190.1 1233.1 191.1 1226.5 193.1 1221.1 195.1 1218.8 197.1 1218.4 198.1 1218.8 200.1 1221.1 202.1 1226.7 203 1234.1 202.8 1241.1 201.6 1248.1 199.6 1253.1ZM268.1 1288.2 262.1 1288.1 256.3 1287.1 252.1 1285.3 248.9 1283.1 246.6 1280.1 246.4 1278.1 246.8 1277.1 249.1 1275.4 253.1 1275 258.1 1275.4 264.1 1276.8 269.6 1279.1 272.6 1281.1 274.2 1283.1 274.5 1284.1 274.1 1285.7 272.1 1287.2Z"/><path fill-rule="evenodd" fill="#ffa400" d="M198.1 1253.1 197.1 1253.7 195.1 1253.2 193.1 1250.6 191.3 1245.1 190.6 1239.1 190.8 1232.1 191.9 1226.1 194.1 1221.5 196.1 1220.1 198.1 1220.5 200.1 1223 201.6 1227.1 202.5 1233.1 202.5 1239.1 201.7 1245.1 200.1 1250.4ZM269.1 1287.2 265.1 1287.6 259.9 1287.1 256.2 1286.1 252.4 1284.1 249.3 1281.1 248.7 1279.1 250.1 1276.8 253.1 1275.9 262.1 1276.9 269.9 1280.1 272.3 1282.1 273.1 1284.1 272 1286.1Z"/><path fill-rule="evenodd" fill="#ff7300" d="M198.1 1251.4 196.1 1251.9 194.1 1250.3 192.1 1245.6 191.3 1241.1 191.1 1235.1 191.9 1229.1 193.1 1225.5 195.1 1222.8 197.1 1222.1 199.1 1223.4 201.1 1227.8 202 1233.1 202 1239.1 201.2 1245.1 200.1 1248.4ZM269.1 1286.2 266.1 1286.8 262.1 1286.6 258.1 1285.8 255.1 1284.4 252.1 1282.1 251 1280.1 251.5 1278.1 253.1 1277 260.1 1277.1 264.1 1278.2 268.4 1280.1 270.8 1282.1 271.5 1284.1 271 1285.1Z"/><path fill-rule="evenodd" fill="#ff4100" d="M198.1 1249.5 196.1 1249.8 194.2 1248.1 192.1 1241.7 192.2 1232.1 193.2 1228.1 195.1 1225 197.1 1224.3 199.1 1225.7 200.1 1227.4 201.2 1232.1 201.1 1242.3 200.1 1246.3ZM268.1 1285.3 265.1 1285.9 262.1 1285.8 256.9 1284.1 253.5 1281.1 253.5 1279.1 255.1 1277.9 261 1278.1 266.5 1280.1 268 1281.1 269.5 1283.1 269.4 1284.1Z"/><path fill-rule="evenodd" fill="#ff1e00" d="M197.1 1247.6 195.1 1246.7 194.1 1245.1 192.7 1238.1 193.4 1231.1 194.7 1228.1 196.1 1226.7 198.1 1227.1 199.1 1228.4 200.2 1231.1 200.8 1236.1 200.1 1243.4 199.1 1245.8ZM266.1 1284.3 263.1 1284.7 259.1 1283.9 256 1281.1 255.9 1280.1 256.8 1279.1 260.1 1279 264 1280.1 266.6 1282.1 267 1283.1Z"/><path fill-rule="evenodd" fill="#ff0a00" d="M197.1 1244.7 196.1 1244.5 195.1 1243.4 193.8 1238.1 194.3 1233.1 196.1 1229.7 197.1 1229.5 198.1 1230.2 199.1 1232.2 199.7 1236.1 199.1 1242 198.1 1244Z"/></g>
<rect x="130.1" y="1064.1" width="278" height="279.6" fill="none" stroke="#555" stroke-width="1.3"/><path d="M146.7 1343.7v6.5M192.2 1343.7v6.5M237.7 1343.7v6.5M313.3 1343.7v6.5M379.6 1343.7v6.5" stroke="#111" stroke-width="2"/><path d="M151.2 1343.7v3.5M155.8 1343.7v3.5M160.3 1343.7v3.5M164.9 1343.7v3.5M169.4 1343.7v3.5M174 1343.7v3.5M178.6 1343.7v3.5M183.1 1343.7v3.5M187.7 1343.7v3.5M196.8 1343.7v3.5M201.3 1343.7v3.5M205.8 1343.7v3.5M210.4 1343.7v3.5M214.9 1343.7v3.5M219.5 1343.7v3.5M224.1 1343.7v3.5M228.6 1343.7v3.5M233.2 1343.7v3.5M260.5 1343.7v3.5M273.8 1343.7v3.5M283.2 1343.7v3.5M290.5 1343.7v3.5M296.5 1343.7v3.5M301.6 1343.7v3.5M306 1343.7v3.5M309.8 1343.7v3.5M333.3 1343.7v3.5M344.9 1343.7v3.5M353.2 1343.7v3.5M359.6 1343.7v3.5M364.9 1343.7v3.5M369.3 1343.7v3.5M373.2 1343.7v3.5M376.6 1343.7v3.5M397.7 1343.7v3.5M187.8 1343.7v5M188.4 1343.7v5M188.9 1343.7v5M189.5 1343.7v5M190 1343.7v5M190.6 1343.7v5M191.1 1343.7v5M191.7 1343.7v5M192.2 1343.7v5M192.7 1343.7v5M193.3 1343.7v5M193.8 1343.7v5M194.4 1343.7v5M194.9 1343.7v5M195.5 1343.7v5M196 1343.7v5M196.6 1343.7v5" stroke="#222" stroke-width="1.1"/><path d="M130.1 1327.6h-6.5M130.1 1280.3h-6.5M130.1 1233h-6.5M130.1 1157.7h-6.5M130.1 1090.6h-6.5" stroke="#111" stroke-width="2"/><path d="M130.1 1322.9h-3.5M130.1 1318.1h-3.5M130.1 1313.4h-3.5M130.1 1308.7h-3.5M130.1 1304h-3.5M130.1 1299.2h-3.5M130.1 1294.5h-3.5M130.1 1289.8h-3.5M130.1 1285h-3.5M130.1 1275.6h-3.5M130.1 1270.8h-3.5M130.1 1266.1h-3.5M130.1 1261.4h-3.5M130.1 1256.7h-3.5M130.1 1251.9h-3.5M130.1 1247.2h-3.5M130.1 1242.5h-3.5M130.1 1237.7h-3.5M130.1 1210.3h-3.5M130.1 1197.1h-3.5M130.1 1187.7h-3.5M130.1 1180.4h-3.5M130.1 1174.4h-3.5M130.1 1169.4h-3.5M130.1 1165h-3.5M130.1 1161.1h-3.5M130.1 1137.5h-3.5M130.1 1125.7h-3.5M130.1 1117.3h-3.5M130.1 1110.8h-3.5M130.1 1105.5h-3.5M130.1 1101h-3.5M130.1 1097.1h-3.5M130.1 1093.7h-3.5M130.1 1071.9h-3.5M130.1 1284.8h-5M130.1 1284.3h-5M130.1 1283.7h-5M130.1 1283.1h-5M130.1 1282.6h-5M130.1 1282h-5M130.1 1281.4h-5M130.1 1280.9h-5M130.1 1280.3h-5M130.1 1279.7h-5M130.1 1279.2h-5M130.1 1278.6h-5M130.1 1278h-5M130.1 1277.5h-5M130.1 1276.9h-5M130.1 1276.3h-5M130.1 1275.8h-5" stroke="#222" stroke-width="1.1"/><text x="148.2" y="1374.9" font-size="11.6" text-anchor="middle">-10<tspan dy="-6" font-size="8">3</tspan></text><text x="192.2" y="1374.3" font-size="11.6" text-anchor="middle">0</text><text x="239.2" y="1374.9" font-size="11.6" text-anchor="middle">10<tspan dy="-6" font-size="8">3</tspan></text><text x="314.8" y="1374.9" font-size="11.6" text-anchor="middle">10<tspan dy="-6" font-size="8">4</tspan></text><text x="381.1" y="1374.9" font-size="11.6" text-anchor="middle">10<tspan dy="-6" font-size="8">5</tspan></text><text x="113.3" y="1335.6" font-size="11.6" text-anchor="end">-10<tspan dy="-5" font-size="8">3</tspan></text><text x="113.1" y="1284.8" font-size="11.6" text-anchor="end">0</text><text x="113.3" y="1241" font-size="11.6" text-anchor="end">10<tspan dy="-5" font-size="8">3</tspan></text><text x="113.3" y="1165.7" font-size="11.6" text-anchor="end">10<tspan dy="-5" font-size="8">4</tspan></text><text x="113.3" y="1098.6" font-size="11.6" text-anchor="end">10<tspan dy="-5" font-size="8">5</tspan></text><rect x="245.1" y="1255.4" width="99.5" height="76" fill="none" stroke="#222" stroke-width="1.6"/><text x="302.6" y="1243.8" font-size="28.3">49.4</text><text x="272.6" y="1051.3" font-size="28.6" text-anchor="middle">393P</text>
<g><path fill-rule="evenodd" fill="#000fff" d="M647.1 1324.1 640.1 1324.9 627.1 1324.7 617.3 1323.1 611.1 1321.2 602.1 1317.2 594.2 1312.1 588.5 1307.1 583.5 1301.1 574.1 1298.4 569.1 1297.9 568.6 1302.1 567.1 1305.1 563.1 1307.9 559 1309.1 554.1 1309.3 550.1 1308.7 541.1 1305.4 537.1 1308.4 535.1 1309.2 533.1 1309.2 530.1 1307.8 527.1 1304.7 524.1 1299.5 521.2 1292.1 518 1282.1 516.6 1275.1 516.9 1243.1 518.1 1231.1 520 1221.1 522.2 1213.1 525.2 1205.1 528.1 1199.9 532.1 1195.7 536.1 1193.7 541.1 1193.3 547.1 1195 551.1 1198.1 554.1 1203.2 555.2 1210.1 554.3 1215.1 550.8 1224.1 550.5 1227.1 551.1 1227.4 553.7 1224.1 556.3 1222.1 559.1 1221 563.1 1220.6 566.1 1221.3 569.1 1222.9 572.1 1225.7 576.1 1230.9 579.1 1232.4 584.1 1233.1 585.8 1229.1 589.1 1227 592.1 1227.3 595.1 1230.1 596 1233.1 596 1235.1 595.1 1238.1 595.2 1243.1 593.9 1246.1 589.5 1251.1 580 1257.1 580.1 1257.5 592.1 1255.8 601.1 1256.1 607.1 1257.1 616.1 1259.8 626.5 1262.1 634.3 1265.1 643.2 1270.1 650.7 1276.1 656 1282.1 660.1 1288.9 662.2 1295.1 662.8 1301.1 661.9 1309.1 660.3 1314.1 657.1 1318.7 652.5 1322.1ZM591.1 1344.1 574.4 1344.1 575 1340.1 577.1 1337.7 579.1 1336.6 582.1 1335.8 587.1 1336.6 589.5 1338.1 591.2 1340.1 591.9 1343.1 591.8 1344.1Z"/><path fill-rule="evenodd" fill="#002dff" d="M648.1 1322.2 643.1 1323 638.1 1322.8 621.1 1320.4 612.5 1318.1 605.5 1315.1 598.8 1311.1 593.8 1307.1 588 1301.1 583.1 1298.9 575.7 1297.1 565.6 1296.1 566.3 1300.1 565.1 1303.3 561.8 1306.1 557.1 1307.4 553.1 1307.4 548.1 1306.5 539.1 1302.3 536.1 1304.3 533.1 1304.6 530.1 1303.1 528.1 1301.1 525.1 1296.2 521.7 1288.1 519.4 1281.1 518.2 1274.1 518.3 1244.1 519.4 1233.1 521.3 1223.1 523.6 1215.1 527.2 1206.1 530.3 1201.1 534.1 1197.7 539.1 1196 544.1 1196.6 548.4 1199.1 551.4 1203.1 552.6 1207.1 552.7 1211.1 548.7 1225.1 549.1 1234.4 549.7 1232.1 551.3 1229.1 554.1 1225.4 557.1 1223.2 561.1 1222 565.1 1222.3 568.1 1223.7 571.1 1226.2 575.1 1231.6 578.1 1233.3 585.1 1234.9 586.1 1231.1 587.1 1229.7 589.1 1228.6 592.1 1229 594.1 1231.1 594.8 1235.1 594.1 1237.1 592.3 1239.1 592.7 1243.1 591.5 1246.1 587.9 1250.1 574.3 1260.1 575.1 1260.8 595.1 1258.2 602.1 1258.6 610.1 1260.3 620.1 1264 628.1 1266.2 636.1 1269.8 644.1 1275.1 651.1 1282.1 654.5 1287.1 657.1 1293.1 659.3 1309.1 658.5 1313.1 656.2 1317.1 652.8 1320.1ZM590.1 1344.1 575.4 1344.1 575.7 1341.1 578.1 1338.1 582.1 1336.6 585.1 1336.8 587.1 1337.5 589.2 1339.1 590.5 1341.1 590.8 1344.1Z"/><path fill-rule="evenodd" fill="#0052ff" d="M647.1 1321.2 643.1 1321.7 638.1 1321.3 627.1 1317.2 619.1 1315.8 613.2 1314.1 604.8 1310.1 596.5 1304.1 589.5 1300.1 584.1 1297.8 577.1 1296.1 561.6 1294.1 563.3 1298.1 563.2 1300.1 562.3 1302.1 560 1304.1 555.1 1305.4 551.1 1305.2 547 1304.1 543 1302.1 539.1 1298.8 536.1 1300.9 534.1 1301.2 531.1 1300.3 528.7 1298.1 525.5 1293.1 522.4 1286.1 520.5 1280.1 519.5 1274.1 519.3 1247.1 520 1238.1 521.6 1228.1 523.7 1220.1 527.4 1210.1 530.1 1204.8 533.1 1201.2 537.1 1198.9 541.1 1198.4 545.1 1199.7 548.7 1203.1 550.4 1207.1 550.6 1211.1 547.7 1222.1 547.1 1227.1 548.1 1237.2 549.1 1239 550.9 1232.1 554.1 1227.1 558.1 1224.3 563.1 1223.5 568.1 1225.2 571.1 1227.8 575.2 1233.1 586.9 1238.1 589.4 1241.1 589.6 1243.1 589.1 1245.1 586.2 1249.1 569.8 1262.1 575.1 1262.2 596.1 1260.1 602.1 1260.5 609.1 1261.8 619.1 1265.5 635.1 1273.9 641.1 1278.1 646.1 1283.1 650.5 1290.1 653.1 1298.1 656.8 1305.1 657.5 1309.1 656.8 1313.1 655.1 1316.2 651.8 1319.1ZM590.1 1238.2 588.1 1237.5 587.1 1236.1 586.7 1234.1 587.8 1231.1 590.1 1230 592.4 1231.1 593.5 1234.1 592.4 1237.1ZM589.1 1344.1 576.3 1344.1 576.6 1341.1 578.1 1339.1 582.1 1337.4 586.1 1337.9 588.1 1339.1 589.6 1341.1 589.9 1344.1Z"/><path fill-rule="evenodd" fill="#007fff" d="M646.1 1320.1 639.1 1320.2 635.7 1319.1 632.1 1317.2 629.8 1315.1 626.6 1310.1 616.1 1309.6 610.1 1308.3 602.1 1305.3 588.2 1298.1 580.1 1295.6 554.1 1291.8 552.1 1291 547.1 1291.1 547.1 1291.7 551.1 1292.1 553.4 1293.1 556.1 1295.9 556.4 1298.1 555.9 1299.1 554.6 1300.1 552.1 1300.5 549 1300.1 545.5 1298.1 544 1296.1 543.7 1294.1 544 1293.1 543.1 1293 538.1 1296.9 535.1 1298.3 532.1 1297.9 529.1 1295.6 526.1 1291.1 523.7 1286.1 521.6 1280.1 520.6 1275.1 520.1 1250.1 521.7 1233.1 523.5 1225.1 525.8 1218.1 529.1 1210.1 532.1 1205.1 535.1 1202.2 539.1 1200.7 542.3 1201.1 545.5 1203.1 547.6 1206.1 548.4 1210.1 545.9 1226.1 548.1 1243.8 550.9 1240.1 551.1 1235.1 553.1 1230.1 555.1 1228 558.4 1226.1 562.1 1225.8 566.1 1226 568.3 1227.1 575.1 1234.8 577.1 1235.9 579.2 1236.1 582.4 1238.1 584.3 1240.1 585.1 1242.4 585.1 1245.1 584.1 1247.8 580.4 1252.1 576.1 1256.1 575.1 1256.3 570.3 1260.1 563.7 1263.1 567.1 1263.7 593.1 1261.7 602.1 1262 609.1 1263.4 615.1 1265.4 620.1 1267.6 626.1 1271.2 633 1277.1 638.5 1284.1 640.7 1289.1 642.1 1296.4 647.1 1298.1 650.1 1299.9 654.1 1303.8 655.1 1305.7 655.2 1313.1 654.1 1315.1 652.1 1317.2 649.2 1319.1 647.1 1319.4ZM590.1 1235.3 589 1234.1 590.1 1232.9 591.2 1234.1ZM557.9 1264.1 553.3 1262.1 549.1 1259.1 550.1 1261.9 551.4 1263.1 555 1264.1ZM545.4 1292.1 545 1292.1ZM589.1 1344.1 577 1344.1 577.4 1341.1 579.1 1339.2 582.1 1338 586.1 1338.6 588.8 1341.1Z"/><path fill-rule="evenodd" fill="#00b2ff" d="M624.1 1308.2 617.1 1308.2 609.1 1306.5 602.1 1303.8 590.1 1297.7 583.1 1295.4 552.1 1290 548.1 1289.7 545.1 1290.3 538.1 1294.7 535.1 1295.9 532.1 1295.4 529.1 1293 524.4 1285.1 521.8 1276.1 520.9 1257.1 521.3 1244.1 522.9 1232.1 526.1 1220.8 531.1 1209.7 533.1 1206.7 536.1 1204.1 539.1 1203.2 542.1 1204 544.4 1206.1 546 1210.1 546.1 1214.1 544.9 1222.1 544.8 1227.1 546.7 1242.1 547.7 1258.1 548.5 1261.1 549.6 1263.1 552.1 1264.7 555.1 1265.1 593.1 1263 601.1 1263.3 612.1 1265.7 622.1 1270.3 628.8 1275.1 634.5 1281.1 637.9 1287.1 639.4 1293.1 638.8 1298.1 635.8 1303.1 631.1 1306.3ZM588.1 1344.1 577.8 1344.1 577.8 1342.1 579.1 1340.1 582.1 1338.7 585.6 1339.1 587.9 1341.1 588.5 1343.1Z"/><path fill-rule="evenodd" fill="#00eaff" d="M626.1 1306.2 619.1 1306.8 612.1 1305.9 605.1 1303.7 591.3 1297.1 585.6 1295.1 579.1 1293.6 562.1 1291.2 551.1 1288.8 548.1 1288.6 545.1 1289.1 538.1 1292.9 535.1 1293.9 532.1 1293.3 529.1 1290.8 525.1 1284.1 522.6 1276.1 521.9 1267.1 521.9 1247.1 523.1 1236.1 525.5 1226.1 530.1 1215 534.1 1208.5 537.1 1206.3 540.1 1206.4 542.1 1208.2 543.8 1212.1 543.7 1227.1 545.9 1242.1 547.1 1259.1 547.9 1262.1 549.1 1264.1 551.1 1265.5 555.1 1266.1 591.1 1264.3 600.1 1264.4 610.1 1266.3 619.3 1270.1 626.1 1274.6 631.8 1280.1 635.6 1286.1 637.2 1291.1 637.2 1296.1 635.1 1300.7 631.3 1304.1ZM587.1 1344.1 578.7 1344.1 578.7 1342.1 580.1 1340.2 583.1 1339.3 586 1340.1 587.5 1342.1 587.5 1344.1Z"/><path fill-rule="evenodd" fill="#00f7cb" d="M623.1 1305.1 617.1 1305.3 611.1 1304.3 605.1 1302.3 593.1 1296.8 586.1 1294.3 562.1 1290.3 551.1 1287.8 548.1 1287.5 545.1 1288 538.1 1291.3 535.1 1292.1 532.1 1291.4 530.1 1290 526.1 1284.1 523.5 1276.1 522.7 1268.1 522.6 1249.1 523.7 1238.1 525.9 1228.1 529.1 1220.3 533.9 1212.1 536.1 1210 538.1 1209.5 540.1 1210.6 541.8 1214.1 542.3 1225.1 545.1 1242.1 546.4 1259.1 547.1 1262.4 548.7 1265.1 551.1 1266.6 554.1 1267.1 590.1 1265.3 599.1 1265.4 609.1 1267.2 618.1 1270.8 624.7 1275.1 630 1280.1 633.4 1285.1 635.3 1291.1 635.1 1296.1 633 1300.1 629.1 1303.2ZM586.1 1344.1 579.7 1344.1 579.7 1342.1 581.1 1340.6 583.7 1340.1 585.8 1341.1 586.7 1343.1 586.5 1344.1Z"/><path fill-rule="evenodd" fill="#00fe92" d="M624.1 1303.3 618.1 1303.9 612.1 1303.2 606.1 1301.4 594 1296.1 587.1 1293.8 580.1 1292.2 563.1 1289.7 550.1 1286.6 545.1 1286.9 536.1 1290.5 533.1 1290.2 530.1 1288.2 526.1 1282.1 524.1 1275.1 523.4 1267.1 523.3 1250.1 524.2 1240.1 526.1 1231.1 529.1 1223.4 533.1 1217 535.1 1214.7 537.1 1213.8 539.1 1215.1 539.8 1217.1 544.2 1241.1 546 1261.1 546.9 1264.1 548.3 1266.1 551.1 1267.7 554.1 1268 570.1 1266.8 598.1 1266.4 607.1 1267.8 616.1 1271.1 622.1 1274.7 627.2 1279.1 631 1284.1 633.1 1289.1 633.4 1294.1 631.9 1298.1 629 1301.1ZM584.1 1344.1 581.2 1344.1 581.1 1342.2 582.1 1341.5 583.1 1341.2 585 1342.1 585.1 1344Z"/><path fill-rule="evenodd" fill="#00ff4d" d="M621.1 1302.2 616.1 1302.3 611.1 1301.5 587.1 1292.9 563.1 1288.8 550.1 1285.5 545.1 1285.8 536.1 1289.2 533.1 1288.8 531.1 1287.6 527.6 1283.1 525.1 1276.1 524.2 1268.1 524 1252.1 524.8 1242.1 526.6 1233.1 529.1 1226.5 532.9 1221.1 535.1 1219.4 536.1 1219.3 538 1221.1 539.1 1224 543.2 1240.1 545.5 1262.1 546.5 1265.1 548.1 1267.4 550.1 1268.6 553.1 1269.1 570.1 1267.5 597.1 1267.4 607.1 1269 615.1 1271.9 621.1 1275.5 626.1 1279.9 629.2 1284.1 631.2 1289.1 631.3 1294.1 629.3 1298.1 626.1 1300.6Z"/><path fill-rule="evenodd" fill="#00ff07" d="M621.1 1300.3 616.1 1300.7 611.1 1300 588.1 1292.3 563.9 1288.1 550.1 1284.3 545.1 1284.5 536.1 1287.9 533.1 1287.4 531.1 1286.1 527.6 1281.1 525.7 1275.1 524.9 1268.1 524.7 1254.1 525.4 1244.1 527.1 1235.3 529.1 1229.8 532.4 1225.1 534.1 1224 536.1 1224.3 538.1 1226.9 540.1 1231.7 543.1 1244.4 545.1 1263.1 546.1 1266.2 548.1 1268.9 550.1 1270 553.1 1270.3 569.1 1268.2 595.1 1268.3 604.1 1269.4 612.7 1272.1 618.3 1275.1 623.2 1279.1 627.1 1284 628.9 1288.1 629.3 1292.1 627.8 1296.1 625.1 1298.7Z"/><path fill-rule="evenodd" fill="#48ff00" d="M620.1 1298.2 615.1 1298.7 610.1 1298 589.1 1291.6 564.1 1287.1 549.1 1282.5 546.1 1282.8 537.1 1286.6 534.1 1286.5 532.1 1285.5 529.1 1282.1 526.7 1276.1 525.8 1270.1 525.4 1259.1 525.8 1249.1 527.1 1240.1 529.1 1233.5 532.1 1228.8 534.1 1227.8 536.1 1228.5 539.1 1233.2 542.4 1245.1 544.7 1264.1 546.1 1268.2 548.1 1270.7 550.1 1271.7 552.1 1271.8 569.1 1268.9 592.1 1269.2 601.9 1270.1 609.4 1272.1 615.6 1275.1 619.8 1278.1 623.6 1282.1 625.9 1286.1 626.7 1290.1 626.1 1293.5 624.1 1296.2Z"/><path fill-rule="evenodd" fill="#98ff00" d="M617.1 1295.1 608.9 1295.1 607.1 1294.2 604 1294.1 603.1 1293.4 599.9 1293.1 582.1 1288.4 578.5 1288.1 577.1 1287.3 571.2 1287.1 565.8 1286.1 559.9 1284.1 555.1 1281.1 552.1 1280.1 551.1 1279.1 547.1 1279.5 542 1283.1 538.1 1285.1 535.1 1285.4 532.1 1284.1 529.1 1280.2 527.3 1275.1 526.4 1269.1 526.1 1259.1 526.6 1250.1 528.1 1241.8 530.1 1236.2 532.5 1233.1 534.1 1232.4 536.1 1233.1 538.1 1235.6 540.1 1240.1 542.3 1249.1 544.5 1266.1 546.1 1270.8 549.1 1274.9 551.1 1275.8 552 1275.1 554.1 1275.1 555.1 1274.1 557.1 1273.7 557.5 1273.1 559.1 1272.9 562.9 1271.1 570.1 1269.5 581.1 1271 597.1 1270.8 605 1272.1 610.4 1274.1 614 1276.1 616.6 1278.1 620.2 1282.1 622.1 1286 622.1 1291.1 619.1 1294.1 618.1 1294.1Z"/><path fill-rule="evenodd" fill="#d5ff00" d="M536.1 1284.2 534.1 1283.8 532.1 1282.6 529.1 1278.1 527.5 1272.1 526.9 1264.1 527.1 1255 528.6 1248.1 531.5 1243.1 533.1 1241.6 535.1 1240.9 537.1 1241.2 539.1 1242.6 541.1 1247 544.3 1269.1 543.3 1275.1 541.1 1280.8 539.4 1283.1ZM573.1 1283.2 570.1 1283.8 567.1 1283 565.1 1281.6 563.5 1279.1 563 1276.1 563.7 1273.1 565.7 1271.1 568.1 1270.4 572.1 1270.2 575.1 1271 577.3 1274.1 577.8 1277.1 577.3 1279.1 576.1 1281.1ZM599.1 1287.2 594.1 1287 590.4 1286.1 587.1 1284.2 585.6 1282.1 585.7 1279.1 587.3 1277.1 591 1275.1 595.1 1274.2 599.1 1274.2 603.2 1275.1 606.9 1277.1 608.5 1279.1 608.6 1282.1 607.2 1284.1 603.8 1286.1Z"/><path fill-rule="evenodd" fill="#fff300" d="M537.1 1281.7 534.1 1281.8 531.1 1278.9 528.8 1273.1 527.8 1267.1 527.8 1259.1 528.8 1253.1 531.1 1247.3 534.1 1244.4 537.1 1244.5 540.1 1247.6 541.8 1254.1 543.2 1267.1 542.7 1271.1 541.3 1276.1 539.1 1280ZM571.1 1282.1 569.1 1282.1 566.9 1281.1 565.2 1279.1 564.5 1277.1 564.6 1275.1 566.1 1272.4 568.1 1271.1 570.1 1270.8 572.6 1271.1 574.1 1272 575.6 1274.1 576.1 1276.1 575.9 1278.1 574.8 1280.1 573.1 1281.5ZM600.1 1284.1 597.1 1284.5 594.1 1284.1 590.7 1282.1 590.3 1280.1 590.9 1279.1 592.1 1278.1 594.8 1277.1 599.4 1277.1 602.1 1278.1 603.3 1279.1 603.9 1280.1 603.5 1282.1Z"/><path fill-rule="evenodd" fill="#ffcc00" d="M537.1 1279.3 536.1 1279.7 534.1 1279.4 532.1 1277.6 529.9 1273.1 528.7 1267.1 528.7 1260.1 529.6 1254.1 531.7 1249.1 534.1 1246.8 536.1 1246.5 537.1 1246.9 539.3 1249.1 541.1 1253.7 541.9 1260.1 542.3 1266.1 541.6 1271.1 539.8 1276.1ZM572.1 1280.6 570.1 1280.9 568.1 1280.4 566.1 1278.1 566.1 1274.7 567.2 1273.1 568.9 1272.1 572.1 1272.2 573.4 1273.1 574.7 1275.1 574.5 1278.1Z"/><path fill-rule="evenodd" fill="#ffa400" d="M537.1 1277.3 536.1 1277.7 534.1 1277.4 532.1 1275.3 530.7 1272.1 529.6 1267.1 529.4 1261.1 530.1 1256.1 532 1251.1 534.1 1248.8 536.1 1248.5 538.3 1250.1 540.1 1253.4 541.3 1259.1 541.6 1265.1 540.9 1270.1 539.1 1275ZM571.1 1279.5 568.6 1279.1 567.2 1277.1 567.4 1275.1 569.1 1273.5 571.1 1273.3 573.2 1275.1 573.1 1278Z"/><path fill-rule="evenodd" fill="#ff7300" d="M537.1 1275.3 535.1 1275.9 533.1 1274.6 531.3 1271.1 530.4 1267.1 530.2 1262.1 530.8 1257.1 532.1 1253.2 534.1 1250.7 536.1 1250.3 538.1 1251.9 539.7 1255.1 540.7 1260.1 540.2 1269.1 539.1 1272.6Z"/><path fill-rule="evenodd" fill="#ff4100" d="M537.1 1273.4 535.1 1274.1 533.7 1273.1 532.1 1270.5 531.2 1267.1 531.2 1259.1 532.1 1255.7 533.7 1253.1 535.1 1252.1 537.1 1252.8 538.6 1255.1 539.8 1259.1 539.8 1267.1 538.6 1271.1Z"/><path fill-rule="evenodd" fill="#ff1e00" d="M537.1 1271.2 536.1 1272 534.1 1271.4 532.1 1266.9 532.1 1259.3 534.1 1254.8 536.1 1254.2 537.1 1255 538.1 1256.6 539 1260.1 539 1266.1 538.1 1269.6Z"/><path fill-rule="evenodd" fill="#ff0a00" d="M536.1 1269.5 535.1 1269.6 534.1 1268.7 532.8 1264.1 533.1 1260 534.1 1257.5 535.1 1256.6 536.1 1256.7 537.1 1257.8 538.2 1262.1 537.9 1266.1 537.1 1268.4Z"/></g>
<rect x="468.1" y="1064.1" width="278" height="279.6" fill="none" stroke="#555" stroke-width="1.3"/><path d="M484.7 1343.7v6.5M530.2 1343.7v6.5M575.7 1343.7v6.5M651.3 1343.7v6.5M717.6 1343.7v6.5" stroke="#111" stroke-width="2"/><path d="M489.2 1343.7v3.5M493.8 1343.7v3.5M498.4 1343.7v3.5M502.9 1343.7v3.5M507.5 1343.7v3.5M512 1343.7v3.5M516.6 1343.7v3.5M521.1 1343.7v3.5M525.6 1343.7v3.5M534.8 1343.7v3.5M539.3 1343.7v3.5M543.9 1343.7v3.5M548.4 1343.7v3.5M553 1343.7v3.5M557.5 1343.7v3.5M562.1 1343.7v3.5M566.6 1343.7v3.5M571.2 1343.7v3.5M598.5 1343.7v3.5M611.8 1343.7v3.5M621.2 1343.7v3.5M628.5 1343.7v3.5M634.5 1343.7v3.5M639.6 1343.7v3.5M644 1343.7v3.5M647.8 1343.7v3.5M671.3 1343.7v3.5M682.9 1343.7v3.5M691.2 1343.7v3.5M697.6 1343.7v3.5M702.9 1343.7v3.5M707.3 1343.7v3.5M711.2 1343.7v3.5M714.6 1343.7v3.5M735.7 1343.7v3.5M525.8 1343.7v5M526.4 1343.7v5M526.9 1343.7v5M527.5 1343.7v5M528 1343.7v5M528.6 1343.7v5M529.1 1343.7v5M529.7 1343.7v5M530.2 1343.7v5M530.7 1343.7v5M531.3 1343.7v5M531.8 1343.7v5M532.4 1343.7v5M532.9 1343.7v5M533.5 1343.7v5M534 1343.7v5M534.6 1343.7v5" stroke="#222" stroke-width="1.1"/><path d="M468.1 1327.6h-6.5M468.1 1280.3h-6.5M468.1 1233h-6.5M468.1 1157.7h-6.5M468.1 1090.6h-6.5" stroke="#111" stroke-width="2"/><path d="M468.1 1322.9h-3.5M468.1 1318.1h-3.5M468.1 1313.4h-3.5M468.1 1308.7h-3.5M468.1 1304h-3.5M468.1 1299.2h-3.5M468.1 1294.5h-3.5M468.1 1289.8h-3.5M468.1 1285h-3.5M468.1 1275.6h-3.5M468.1 1270.8h-3.5M468.1 1266.1h-3.5M468.1 1261.4h-3.5M468.1 1256.7h-3.5M468.1 1251.9h-3.5M468.1 1247.2h-3.5M468.1 1242.5h-3.5M468.1 1237.7h-3.5M468.1 1210.3h-3.5M468.1 1197.1h-3.5M468.1 1187.7h-3.5M468.1 1180.4h-3.5M468.1 1174.4h-3.5M468.1 1169.4h-3.5M468.1 1165h-3.5M468.1 1161.1h-3.5M468.1 1137.5h-3.5M468.1 1125.7h-3.5M468.1 1117.3h-3.5M468.1 1110.8h-3.5M468.1 1105.5h-3.5M468.1 1101h-3.5M468.1 1097.1h-3.5M468.1 1093.7h-3.5M468.1 1071.9h-3.5M468.1 1284.8h-5M468.1 1284.3h-5M468.1 1283.7h-5M468.1 1283.1h-5M468.1 1282.6h-5M468.1 1282h-5M468.1 1281.4h-5M468.1 1280.9h-5M468.1 1280.3h-5M468.1 1279.7h-5M468.1 1279.2h-5M468.1 1278.6h-5M468.1 1278h-5M468.1 1277.5h-5M468.1 1276.9h-5M468.1 1276.3h-5M468.1 1275.8h-5" stroke="#222" stroke-width="1.1"/><text x="486.2" y="1374.9" font-size="11.6" text-anchor="middle">-10<tspan dy="-6" font-size="8">3</tspan></text><text x="530.2" y="1374.3" font-size="11.6" text-anchor="middle">0</text><text x="577.2" y="1374.9" font-size="11.6" text-anchor="middle">10<tspan dy="-6" font-size="8">3</tspan></text><text x="652.8" y="1374.9" font-size="11.6" text-anchor="middle">10<tspan dy="-6" font-size="8">4</tspan></text><text x="719.1" y="1374.9" font-size="11.6" text-anchor="middle">10<tspan dy="-6" font-size="8">5</tspan></text><text x="451.3" y="1335.6" font-size="11.6" text-anchor="end">-10<tspan dy="-5" font-size="8">3</tspan></text><text x="451.1" y="1284.8" font-size="11.6" text-anchor="end">0</text><text x="451.3" y="1241" font-size="11.6" text-anchor="end">10<tspan dy="-5" font-size="8">3</tspan></text><text x="451.3" y="1165.7" font-size="11.6" text-anchor="end">10<tspan dy="-5" font-size="8">4</tspan></text><text x="451.3" y="1098.6" font-size="11.6" text-anchor="end">10<tspan dy="-5" font-size="8">5</tspan></text><rect x="583.1" y="1255.4" width="99.5" height="76" fill="none" stroke="#222" stroke-width="1.6"/><text x="614.8" y="1243.8" font-size="28.3">23.8</text><text x="605.2" y="1051.3" font-size="28.6" text-anchor="middle">344SQ</text>
<g><path fill-rule="evenodd" fill="#000fff" d="M986.8 1320.2 980.8 1320.5 974.8 1320 967.8 1318.2 960.7 1315.1 955.8 1312.1 950.3 1307.1 947.6 1303.1 945.8 1297.8 922.8 1295 894.8 1288.9 889.8 1289.3 880.8 1292.8 876.8 1293.1 874.8 1292.3 871.8 1290.2 865.8 1282.8 861.6 1275.1 860.3 1271.1 859.8 1267.1 861.6 1253.1 861.6 1227.1 863.7 1207.1 866.6 1195.1 869.9 1187.1 872.8 1182.5 877.5 1177.1 880.2 1170.1 881.8 1167.4 883.8 1165.6 886.8 1165.3 889.9 1168.1 891.9 1174.1 891.5 1185.1 892 1194.1 891.8 1204.1 892.8 1213.2 893.6 1215.1 897.8 1208.2 900.1 1206.1 903.8 1204.9 907.5 1206.1 909.8 1208.2 911.8 1211.4 915.5 1222.1 917.8 1226.6 933.7 1235.1 943.8 1242.1 954.8 1252.1 962.6 1262.1 971.8 1264.6 982.8 1265.1 986.8 1266 992.8 1269.8 997.8 1276 1000.4 1282.1 1000.7 1285.1 1000.2 1288.1 996.8 1294.1 991.6 1299.1 994.9 1303.1 996.5 1306.1 997.3 1309.1 997.2 1312.1 996 1315.1 994.1 1317.1 990.8 1319ZM964.8 1251.3 960.8 1251.8 958.8 1251.3 956.8 1249.7 955.9 1248.1 955.9 1246.1 957.2 1244.1 958.8 1243 962.8 1242.4 964.8 1243 966.8 1244.5 967.7 1246.1 967.7 1248.1 966.4 1250.1ZM1005.8 1296.7 1003.8 1296.7 1002.3 1295.1 1002.8 1293.1 1004.7 1292.1 1005.8 1292.3 1007.2 1294.1 1007.1 1295.1Z"/><path fill-rule="evenodd" fill="#002dff" d="M982.8 1318.2 976.8 1318.1 971.2 1317.1 965.4 1315.1 959.7 1312.1 955.6 1309.1 952 1305.1 950 1301.1 949.8 1297 948.8 1296.1 937.8 1295.4 923.8 1293.5 894.8 1287 889.8 1287.3 880.8 1290 876.8 1289.9 871.8 1287.1 866.1 1280.1 862.5 1272.1 861.8 1266.1 863.1 1253.1 863.1 1225.1 865.4 1207.1 867.4 1199.1 869.7 1193.1 872.9 1187.1 878.1 1180.1 881.8 1169.5 884.8 1166.8 886.8 1166.9 888.8 1168.5 890.2 1171.1 891.1 1175.1 890.4 1186.1 890.7 1195.1 890.3 1205.1 892.8 1222.4 895.8 1216 899.8 1210.8 902.8 1209.2 905.8 1209.6 907.8 1210.9 909.8 1213.6 917.8 1230.9 931.8 1238.1 941.8 1245 950.4 1253.1 957.1 1262.1 971.8 1266.6 981.8 1267.3 985.8 1268.2 990.8 1271 995.2 1276.1 997.6 1282.1 997.7 1285.1 997.2 1288.1 993.8 1294 988 1299.1 990.8 1302.1 992.8 1305.1 993.8 1308.1 993.8 1311.1 992.3 1314.1 989.9 1316.1 986.8 1317.4ZM903.2 1255.1 896.8 1247.4 892.8 1240.1 892.9 1248.1 894.3 1252.1 895.8 1253.8 898.3 1255.1 900.8 1255.6ZM963.8 1250.5 960.8 1250.8 957.8 1249.1 957.2 1248.1 957.2 1246.1 957.8 1245.1 959.8 1243.7 962.8 1243.4 965.8 1245.1 966.4 1246.1 966.4 1248.1 965.8 1249.1ZM1005.8 1296.3 1004.8 1296.6 1003.5 1296.1 1002.8 1295.1 1003.2 1293.1 1004.8 1292.3 1006.3 1293.1 1006.7 1295.1Z"/><path fill-rule="evenodd" fill="#0052ff" d="M982.8 1315.3 977.8 1315.7 971.8 1314.8 964.8 1312.3 959.8 1309.2 956.5 1306.1 954.2 1302.1 953.9 1298.1 955.3 1295.1 939.8 1294.2 925.8 1292.5 914.8 1290.4 894.8 1285.5 889.8 1285.9 881.8 1287.9 877.8 1288.1 872.8 1285.8 868.3 1281.1 864.5 1274.1 863.2 1267.1 864.3 1254.1 863.9 1232.1 865.1 1217.1 866.6 1208.1 869.1 1199.1 873.5 1190.1 878.8 1182.1 882 1171.1 883.8 1168.8 884.8 1168.3 886.8 1168.3 888.8 1170.2 890.2 1174.1 890.4 1178.1 889.3 1187.1 889.6 1195.1 889.1 1206.1 891.4 1226.1 891.7 1248.1 893.3 1253.1 895.8 1255.6 900.5 1257.1 922.8 1257.4 939.8 1259.4 941.1 1260.1 949.8 1261.7 971.2 1268.1 983.8 1269.6 988.8 1271.8 991.8 1274.6 994.1 1278.1 995.5 1282.1 995.5 1286.1 994.1 1290.1 990.9 1294.1 987.8 1296.2 982.6 1298.1 987.9 1303.1 989.9 1308.1 989.3 1311.1 987.8 1313ZM907.8 1248.1 903.8 1248 899.8 1245.7 896.2 1241.1 893.9 1235.1 893.4 1228.1 894.8 1222.5 897.8 1218.7 900.8 1217.9 905.8 1218.6 909.8 1220.5 912.8 1224.4 914.9 1230.1 915.5 1236.1 914.5 1241.1 911.2 1246.1ZM963.8 1249.3 960.8 1249.7 958.8 1248.4 958.6 1246.1 959.8 1244.9 962.8 1244.5 964.8 1245.8 965 1248.1ZM1004.8 1296.4 1003 1295.1 1003 1294.1 1003.8 1292.9 1004.8 1292.6 1005.8 1292.9 1006.6 1294.1 1006.5 1295.1Z"/><path fill-rule="evenodd" fill="#007fff" d="M984.8 1295.3 979.8 1295.3 968.8 1293 949.8 1293.6 932.8 1292.4 916.8 1289.7 894.8 1284.3 890.8 1284.5 882.8 1286.4 878.8 1286.7 874.8 1285.5 870.6 1282.1 866.1 1275.1 864.3 1268.1 865.3 1253.1 864.8 1235.1 865.5 1222.1 867.1 1211.1 869.5 1202.1 874.3 1192.1 879.8 1183.1 880.8 1179.1 882.1 1173.1 883.1 1171.1 884.8 1169.6 886.8 1169.8 887.8 1170.6 889.5 1175.1 889.6 1179.1 888.4 1187.1 888.6 1195.1 888 1206.1 890.4 1226.1 890.8 1249 891.8 1252.7 893.4 1255.1 896.8 1257.5 900.8 1258.4 922.8 1258.9 942.8 1261.4 955.8 1264.5 971.8 1269.7 981.8 1270.9 985.8 1272.1 989 1274.1 991.6 1277.1 993.1 1280.1 993.8 1284.1 993.1 1288.1 991.3 1291.1 988.8 1293.5ZM906.8 1243.5 904.8 1244 901.4 1243.1 897.8 1239.4 895.8 1234.5 895.6 1228.1 896.7 1225.1 898.8 1223.7 901.8 1223.5 906.8 1223.9 909.8 1225 911.8 1227.3 912.8 1229.8 912.9 1235.1 911.9 1238.1 909.8 1241.4ZM962.8 1247.2 961.8 1247.8 960.8 1247 961.8 1246.4ZM1005.8 1295.7 1004.8 1296.1 1003.3 1295.1 1003.2 1294.1 1004 1293.1 1004.8 1292.8 1005.8 1293.3 1006.4 1294.1ZM977.8 1309.3 974.8 1309.7 971.1 1309.1 966.8 1307.1 964.8 1305.5 963.3 1303.1 963.1 1301.1 964.4 1299.1 966.8 1298.1 969.8 1298.2 973.1 1299.1 976.9 1301.1 978.8 1302.7 980.3 1305.1 980.4 1307.1 979.8 1308.2Z"/><path fill-rule="evenodd" fill="#00b2ff" d="M984.8 1293.4 979.8 1293.7 968.8 1291.7 950.8 1292.6 934.8 1291.7 917.8 1288.9 895.8 1283.2 890.8 1283.4 881.8 1285.3 877.8 1285.2 873.8 1283.5 870.8 1280.8 867.1 1275.1 865.3 1268.1 866.2 1253.1 865.7 1235.1 866.4 1222.1 868 1212.1 870.2 1204.1 876.5 1191.1 880.3 1185.1 881.4 1181.1 882.7 1174.1 884.8 1171.1 886.2 1171.1 887.5 1172.1 888.8 1175.7 888.8 1179.2 887.2 1188.1 887.6 1196.1 886.9 1206.1 889.6 1226.1 889.9 1249.1 890.9 1253.1 892.8 1256 895.8 1258.3 899.8 1259.5 923.8 1259.9 943.8 1262.5 956.8 1265.7 971.8 1271 984.1 1273.1 986.8 1274.5 989.6 1277.1 991.3 1280.1 992.1 1283.1 991.8 1286.1 990.6 1289.1 987.8 1292ZM1005.8 1295.4 1004.8 1295.9 1003.5 1295.1 1003.4 1294.1 1004.7 1293.1 1006.2 1294.1Z"/><path fill-rule="evenodd" fill="#00eaff" d="M984.8 1291.4 979.8 1292 968.8 1290.3 952.8 1291.6 936.8 1291 918.8 1288.2 896.8 1282.2 891.8 1282.2 882.8 1284.1 878.8 1284.2 874.8 1282.9 871.8 1280.5 868.1 1275.1 866.2 1268.1 867.1 1253.1 866.5 1236.1 867.2 1223.1 868.7 1213.1 870.8 1205.9 877.8 1191.6 881.7 1186.1 882.3 1184.1 882.8 1177.5 883.8 1174.3 884.8 1173.2 885.8 1172.9 886.8 1173.6 887.8 1176.1 887.8 1180.1 885.7 1188.1 886.4 1196.1 885.8 1206.1 888.7 1226.1 889.2 1250.1 890.4 1254.1 892.5 1257.1 895.8 1259.4 899.8 1260.6 923.8 1260.8 943.8 1263.3 956.8 1266.6 971.8 1272.3 982.8 1274.4 985.8 1275.9 987.8 1277.6 989.4 1280.1 990.2 1283.1 989.9 1286.1 989 1288.1 987.1 1290.1ZM1005.8 1295.2 1004.8 1295.6 1003.8 1295.2 1003.8 1293.9 1004.8 1293.3 1005.8 1293.9Z"/><path fill-rule="evenodd" fill="#00f7cb" d="M884.8 1182.7 884.1 1181.1 884.1 1179.1 884.8 1177 885.3 1177.1 886.2 1178.1 886.3 1180.1 885.8 1181.8ZM981.8 1290.1 978.8 1290.2 969.8 1288.9 952.8 1290.7 937.8 1290.2 918.8 1287.3 897.8 1281.2 892.8 1281 883.8 1283 879.8 1283.3 875.8 1282.3 872.8 1280.2 869 1275.1 867 1268.1 867.9 1253.1 867.3 1231.1 868.2 1221.1 870 1212.1 872.5 1205.1 876.5 1198.1 878.8 1193.1 880.8 1190.7 882.8 1190.4 884.7 1194.1 885 1197.1 884.6 1206.1 887.1 1219.1 888.1 1228.1 888.3 1250.1 889.8 1254.8 892.8 1258.6 896.8 1261 900.8 1261.9 923.8 1261.6 942.8 1263.8 956.8 1267.4 971.8 1273.6 981.8 1275.8 984.3 1277.1 986.5 1279.1 988.1 1283.1 987.9 1285.1 986.8 1287.3 984.7 1289.1ZM1004.8 1295.4 1004.2 1295.1 1003.9 1294.1 1004.8 1293.6 1005.6 1294.1 1005.4 1295.1Z"/><path fill-rule="evenodd" fill="#00fe92" d="M958.8 1289.2 944.8 1289.8 929.8 1288.4 915.8 1285.6 896.8 1279.9 892.8 1280 883.8 1282.1 879.8 1282.3 875.8 1281.2 872 1278.1 869 1273.1 867.7 1267.1 868.7 1252.1 868 1234.1 869 1222.1 870.3 1215.1 872.2 1209.1 873.8 1205.9 877.9 1200.1 879.8 1196.1 880.8 1195 881.8 1194.9 882.8 1196.3 882.9 1203.1 887.1 1226.1 887.5 1250.1 888.5 1254.1 891 1258.1 894.8 1261.2 899.8 1262.9 924.8 1262.4 935.8 1263.3 944.8 1264.9 956.8 1268.2 971.8 1275.1 980.8 1277.6 983.2 1279.1 985.1 1282.1 984.7 1285.1 982.8 1287.2 978.8 1288.2 969.8 1287.4ZM1004.8 1295.2 1004.8 1293.9Z"/><path fill-rule="evenodd" fill="#00ff4d" d="M958.8 1288.2 946.8 1289 933.8 1288.1 917.5 1285.1 897.8 1278.7 893.8 1278.8 884.8 1281 880.8 1281.5 876.8 1280.6 873.1 1278.1 869.9 1273.1 868.5 1267.1 869.6 1252.1 868.7 1234.1 869.7 1223.1 872 1213.1 873.8 1209.1 875.8 1206.4 877.8 1204.9 879.8 1204.7 880.8 1205.8 882.8 1210.6 884.9 1218.1 886.3 1227.1 886.7 1251.1 888.6 1256.1 891.7 1260.1 895.8 1263 899.8 1264.2 918.8 1263 931.8 1263.5 945.8 1265.7 958.8 1269.7 971.8 1276.9 979.7 1280.1 980.8 1281.4 981.1 1283.1 980.7 1284.1 978.8 1285.4 970.8 1285.5Z"/><path fill-rule="evenodd" fill="#00ff07" d="M949.8 1288.1 936.8 1287.6 923.8 1285.6 913.8 1283 898.8 1277.3 894.8 1277.4 885.8 1280 880.8 1280.5 876.8 1279.6 873.4 1277.1 870.8 1273.1 869.3 1267.1 870.5 1253.1 869.4 1237.1 870.4 1225.1 872.8 1215 874.8 1211 876.8 1209.1 878.8 1208.8 879.8 1209.5 881.8 1212.5 883.2 1216.1 884.8 1222.9 885.8 1231.1 885.8 1251.1 887.6 1256.1 890.8 1260.5 895.8 1264.4 899.8 1265.7 917.8 1263.9 931.8 1264.1 946.8 1266.5 959.8 1271 965.3 1274.1 969 1277.1 971.6 1280.1 971.4 1282.1 968.3 1284.1 961.8 1286.5Z"/><path fill-rule="evenodd" fill="#48ff00" d="M951.8 1287.1 938.8 1287 924.8 1284.9 911.9 1281.1 900.8 1275.7 898.8 1275.2 895.8 1275.5 886.8 1278.8 881.8 1279.6 877.8 1278.9 873.8 1276.1 871.3 1272.1 870.2 1267.1 871.6 1253.1 870.1 1239.1 870.5 1230.1 872.8 1219.6 875.8 1213.8 876.8 1213 878.8 1213 880.8 1215.1 881.8 1217.1 883.8 1223.8 884.9 1231.1 884.7 1251.1 886.5 1256.1 890.8 1261.9 896.8 1266.7 899.8 1267.8 915.8 1264.9 928.8 1264.5 943.8 1266.4 956.1 1270.1 962.1 1273.1 965.9 1276.1 968 1279.1 967.9 1281.1 966.2 1283.1 962.3 1285.1 957.8 1286.3Z"/><path fill-rule="evenodd" fill="#98ff00" d="M885.8 1278.2 880.8 1278.5 876.7 1277.1 873.7 1274.1 871.7 1269.1 871.8 1261.1 872.7 1260.1 873.1 1254.1 870.8 1240.1 871.1 1231.1 872.8 1224.2 874.8 1220.1 876.8 1218.2 878.8 1218.3 880.8 1220.5 881.8 1222.5 884 1231.1 884.3 1239.1 883.1 1250.1 883.9 1255.1 887.2 1260.1 895.1 1268.1 896.4 1271.1 895.4 1273.1 893 1275.1ZM952.8 1286.2 942.8 1286.5 930.8 1285.2 918.8 1282.2 911.1 1279.1 905.3 1275.1 903.8 1273.1 903.9 1271.1 907.9 1268.1 915.8 1265.9 925.8 1265.1 937.8 1265.9 949.8 1268.5 958.8 1272.1 962 1274.1 965 1277.1 965.8 1279.1 965.4 1281.1 963.3 1283.1 960.8 1284.3Z"/><path fill-rule="evenodd" fill="#d5ff00" d="M878.8 1250.4 875.8 1250.4 873.8 1248.9 871.6 1241.1 871.4 1235.1 872.1 1230.1 873.8 1225.4 875.8 1223.8 878.8 1223.8 880.8 1225.5 882.5 1229.1 883.3 1233.1 883.5 1238.1 882.8 1244.1 881.2 1248.1ZM885.8 1277.2 882.8 1277.2 880.8 1276.4 878.8 1274.7 877.7 1272.1 878.1 1269.1 879.5 1267.1 881.8 1265.6 884.8 1265 887.8 1265.4 890.8 1267 892.3 1269.1 892.8 1271.1 891.7 1274.1 888.9 1276.1ZM953.8 1285.1 944.8 1285.7 933.8 1284.7 922.6 1282.1 916.8 1279.3 911.8 1275.1 910.4 1272.1 910.7 1270.1 911.2 1269.1 912.8 1268.1 921.2 1266.1 930.8 1265.8 941.8 1267.1 951.8 1269.7 958.8 1273 961.6 1275.1 963.3 1277.1 963.7 1280.1 962.2 1282.1 960.6 1283.1Z"/><path fill-rule="evenodd" fill="#fff300" d="M877.8 1248.1 875.8 1247.9 873.8 1245.9 872.7 1243.1 872 1238.1 872.2 1234.1 873 1230.1 874.8 1227.1 876.8 1226 878.8 1226.5 880.8 1228.6 882.2 1232.1 882.7 1236.1 882.5 1240.1 881.5 1244.1 879.8 1246.9ZM953.8 1284.2 945.8 1284.9 936 1284.1 926.8 1281.7 920.9 1279.1 915.9 1275.1 914.8 1273.1 914.8 1271.1 917.4 1268.1 922.8 1266.8 930.8 1266.4 939.8 1267.3 948 1269.1 955.8 1272.2 961 1276.1 962 1279.1 961 1281.1 959.7 1282.1ZM886.8 1274.3 884.8 1274.5 883.2 1274.1 881.4 1272.1 881.8 1269.7 884.4 1268.1 886.8 1268.3 888.9 1270.1 888.8 1272.6Z"/><path fill-rule="evenodd" fill="#ffcc00" d="M877.8 1246.2 875.8 1245.8 874.8 1244.9 873.7 1243.1 872.8 1239.1 872.8 1235.1 873.4 1232.1 874.8 1229.3 876.5 1228.1 877.8 1228 879.8 1229.6 881 1232.1 881.8 1236.1 880.8 1242.8 879.8 1244.6ZM953.8 1283.2 946.8 1283.9 938.8 1283.4 930.8 1281.7 923.8 1278.9 918.8 1275.1 917.8 1272.1 918.7 1270.1 919.9 1269.1 924.8 1267.4 931.8 1267.1 939.8 1267.8 947.8 1269.6 954.2 1272.1 958.6 1275.1 960.3 1278.1 959.8 1279.9 958.7 1281.1Z"/><path fill-rule="evenodd" fill="#ffa400" d="M877.8 1244.3 875.8 1243.9 874.8 1242.6 873.6 1238.1 874.2 1233.1 875.1 1231.1 876.8 1229.8 878.8 1230.5 879.8 1231.9 880.8 1236.1 880.2 1241.1 879.3 1243.1ZM952.8 1282.2 946.8 1282.8 938.8 1282.4 930.8 1280.6 925 1278.1 921.3 1275.1 920.5 1272.1 921.9 1270.1 926.5 1268.1 932.8 1267.7 939.8 1268.4 947.4 1270.1 952.8 1272.2 957.1 1275.1 958.5 1278.1 956.8 1280.6Z"/><path fill-rule="evenodd" fill="#ff7300" d="M877.8 1242.2 876.8 1242.3 875.8 1241.5 874.6 1238.1 875.1 1234.1 876.8 1231.9 877.8 1232 878.8 1232.9 879.8 1236.1 879.3 1240.1ZM951.8 1281.1 945.8 1281.9 939.8 1281.6 932.8 1280.2 927.5 1278.1 924.5 1276.1 922.8 1273.1 923.8 1271 927.8 1269.1 932.8 1268.5 938.8 1268.8 945.2 1270.1 950.9 1272.1 954.3 1274.1 956.6 1277.1 955.8 1279.2Z"/><path fill-rule="evenodd" fill="#ff4100" d="M949.8 1280.3 944.8 1280.9 939.8 1280.6 934.8 1279.7 929.8 1277.9 925.9 1275.1 925.3 1273.1 926.7 1271.1 929.8 1269.9 934.8 1269.3 940.8 1269.8 946.3 1271.1 951 1273.1 953.6 1275.1 954.3 1277.1 952.9 1279.1Z"/><path fill-rule="evenodd" fill="#ff1e00" d="M948.8 1279.2 944.8 1279.8 940.8 1279.7 936.7 1279.1 931.8 1277.5 929.5 1276.1 927.9 1274.1 928.7 1272.1 930.8 1271 934.8 1270.4 938.8 1270.5 946.8 1272.3 950.1 1274.1 951.7 1276.1 950.9 1278.1Z"/><path fill-rule="evenodd" fill="#ff0a00" d="M945.8 1278.2 939.8 1278.4 933.8 1276.7 931.5 1275.1 931.1 1274.1 931.5 1273.1 933.8 1272 939.8 1271.8 945.8 1273.5 948.1 1275.1 948.5 1276.1 948.1 1277.1Z"/></g>
<rect x="811.8" y="1064.1" width="278" height="279.6" fill="none" stroke="#555" stroke-width="1.3"/><path d="M828.4 1343.7v6.5M873.9 1343.7v6.5M919.4 1343.7v6.5M995 1343.7v6.5M1061.3 1343.7v6.5" stroke="#111" stroke-width="2"/><path d="M832.9 1343.7v3.5M837.5 1343.7v3.5M842 1343.7v3.5M846.6 1343.7v3.5M851.1 1343.7v3.5M855.7 1343.7v3.5M860.2 1343.7v3.5M864.8 1343.7v3.5M869.3 1343.7v3.5M878.4 1343.7v3.5M883 1343.7v3.5M887.5 1343.7v3.5M892.1 1343.7v3.5M896.6 1343.7v3.5M901.2 1343.7v3.5M905.8 1343.7v3.5M910.3 1343.7v3.5M914.8 1343.7v3.5M942.2 1343.7v3.5M955.5 1343.7v3.5M964.9 1343.7v3.5M972.2 1343.7v3.5M978.2 1343.7v3.5M983.3 1343.7v3.5M987.7 1343.7v3.5M991.5 1343.7v3.5M1015 1343.7v3.5M1026.6 1343.7v3.5M1034.9 1343.7v3.5M1041.3 1343.7v3.5M1046.6 1343.7v3.5M1051 1343.7v3.5M1054.9 1343.7v3.5M1058.3 1343.7v3.5M1079.4 1343.7v3.5M869.5 1343.7v5M870.1 1343.7v5M870.6 1343.7v5M871.2 1343.7v5M871.7 1343.7v5M872.3 1343.7v5M872.8 1343.7v5M873.4 1343.7v5M873.9 1343.7v5M874.4 1343.7v5M875 1343.7v5M875.5 1343.7v5M876.1 1343.7v5M876.6 1343.7v5M877.2 1343.7v5M877.7 1343.7v5M878.3 1343.7v5" stroke="#222" stroke-width="1.1"/><path d="M811.8 1327.6h-6.5M811.8 1280.3h-6.5M811.8 1233h-6.5M811.8 1157.7h-6.5M811.8 1090.6h-6.5" stroke="#111" stroke-width="2"/><path d="M811.8 1322.9h-3.5M811.8 1318.1h-3.5M811.8 1313.4h-3.5M811.8 1308.7h-3.5M811.8 1304h-3.5M811.8 1299.2h-3.5M811.8 1294.5h-3.5M811.8 1289.8h-3.5M811.8 1285h-3.5M811.8 1275.6h-3.5M811.8 1270.8h-3.5M811.8 1266.1h-3.5M811.8 1261.4h-3.5M811.8 1256.7h-3.5M811.8 1251.9h-3.5M811.8 1247.2h-3.5M811.8 1242.5h-3.5M811.8 1237.7h-3.5M811.8 1210.3h-3.5M811.8 1197.1h-3.5M811.8 1187.7h-3.5M811.8 1180.4h-3.5M811.8 1174.4h-3.5M811.8 1169.4h-3.5M811.8 1165h-3.5M811.8 1161.1h-3.5M811.8 1137.5h-3.5M811.8 1125.7h-3.5M811.8 1117.3h-3.5M811.8 1110.8h-3.5M811.8 1105.5h-3.5M811.8 1101h-3.5M811.8 1097.1h-3.5M811.8 1093.7h-3.5M811.8 1071.9h-3.5M811.8 1284.8h-5M811.8 1284.3h-5M811.8 1283.7h-5M811.8 1283.1h-5M811.8 1282.6h-5M811.8 1282h-5M811.8 1281.4h-5M811.8 1280.9h-5M811.8 1280.3h-5M811.8 1279.7h-5M811.8 1279.2h-5M811.8 1278.6h-5M811.8 1278h-5M811.8 1277.5h-5M811.8 1276.9h-5M811.8 1276.3h-5M811.8 1275.8h-5" stroke="#222" stroke-width="1.1"/><text x="829.9" y="1374.9" font-size="11.6" text-anchor="middle">-10<tspan dy="-6" font-size="8">3</tspan></text><text x="873.9" y="1374.3" font-size="11.6" text-anchor="middle">0</text><text x="920.9" y="1374.9" font-size="11.6" text-anchor="middle">10<tspan dy="-6" font-size="8">3</tspan></text><text x="996.5" y="1374.9" font-size="11.6" text-anchor="middle">10<tspan dy="-6" font-size="8">4</tspan></text><text x="1062.8" y="1374.9" font-size="11.6" text-anchor="middle">10<tspan dy="-6" font-size="8">5</tspan></text><text x="795" y="1335.6" font-size="11.6" text-anchor="end">-10<tspan dy="-5" font-size="8">3</tspan></text><text x="794.8" y="1284.8" font-size="11.6" text-anchor="end">0</text><text x="795" y="1241" font-size="11.6" text-anchor="end">10<tspan dy="-5" font-size="8">3</tspan></text><text x="795" y="1165.7" font-size="11.6" text-anchor="end">10<tspan dy="-5" font-size="8">4</tspan></text><text x="795" y="1098.6" font-size="11.6" text-anchor="end">10<tspan dy="-5" font-size="8">5</tspan></text><rect x="926.8" y="1255.4" width="99.5" height="76" fill="none" stroke="#222" stroke-width="1.6"/><text x="983.8" y="1243.8" font-size="28.3">57.7</text><text x="952" y="1051.3" font-size="28.6" text-anchor="middle">LOXL2 Inhibitor</text>
<g><path fill-rule="evenodd" fill="#000fff" d="M1348.8 1316.1 1344.8 1315.9 1340 1314.1 1336.8 1311.8 1333.8 1308.4 1323.8 1309.1 1313.8 1308.3 1303.8 1306.2 1295.1 1303.1 1286.8 1299.1 1277.7 1293.1 1270.8 1287.1 1262.8 1277.8 1259.8 1276.5 1248.8 1274.2 1240.8 1271.8 1234.8 1283.5 1231.8 1287.3 1228.8 1289.5 1225.8 1290.5 1221.8 1290 1218.8 1288.2 1215.8 1284.9 1211.8 1278.1 1208.8 1270.1 1204.8 1252.1 1203.5 1240.1 1203.1 1227.1 1203.5 1214.1 1204.7 1203.1 1206.7 1192.1 1208.8 1184.1 1211.8 1176.1 1215.8 1169.3 1218.8 1166 1222.8 1163.9 1226.8 1163.9 1230.8 1166 1234.8 1170.7 1237.8 1176.2 1240.8 1184.1 1243.8 1196.1 1245.8 1210.1 1246.4 1220.1 1245.8 1248.6 1251.8 1248.8 1263.8 1247.3 1274.1 1242.1 1275.2 1241.1 1275.5 1240.1 1274.3 1233.1 1275.8 1228.6 1279.8 1224.9 1283.8 1223.2 1286.8 1222.6 1290.8 1222.4 1294.8 1222.9 1298.2 1224.1 1301.4 1226.1 1304.5 1230.1 1305.2 1233.1 1305.2 1236.1 1305.8 1237.2 1313.8 1238.2 1325.8 1241 1327.8 1240.1 1331.6 1236.1 1333.8 1234.9 1337.8 1235 1340.5 1237.1 1342.3 1241.1 1343.3 1249.1 1352.1 1257.1 1356.8 1262.7 1359.8 1268.1 1361.7 1275.1 1361 1286.1 1363.3 1298.1 1362.5 1305.1 1360.7 1309.1 1356.9 1313.1 1352.8 1315.3ZM1245.8 1299.5 1241.8 1299.8 1239.4 1298.1 1239 1296.1 1239.5 1295.1 1241.8 1293.6 1244.8 1293.5 1247.4 1295.1 1247.9 1297.1 1247.5 1298.1Z"/><path fill-rule="evenodd" fill="#002dff" d="M1350.8 1314.2 1345.8 1314.4 1340.8 1312.7 1336.6 1309.1 1332.8 1303.1 1322.8 1304.3 1313.8 1303.8 1303.8 1301.6 1294.6 1298.1 1287.8 1294.5 1281.3 1290.1 1274.8 1284.1 1269.3 1277.1 1265.8 1275.2 1250.8 1273 1238.8 1268.9 1233.8 1279.1 1231.4 1282.1 1228.8 1284.2 1225.8 1285.3 1222.8 1285.1 1219.8 1283.5 1217.3 1281.1 1213.5 1275.1 1210.3 1267.1 1207.9 1258.1 1206.1 1247.1 1205 1235.1 1204.9 1222.1 1205.6 1211.1 1207.3 1199.1 1209.4 1190.1 1212.5 1181.1 1215.8 1175.1 1219.8 1170.7 1223.8 1168.9 1227.8 1169.5 1231.8 1172.5 1236.1 1179.1 1238.6 1185.1 1241 1193.1 1244 1211.1 1244.7 1230.1 1243.4 1251.1 1258.8 1250 1269.8 1250 1274.8 1248.5 1282.8 1243.1 1278.8 1239.3 1276.9 1236.1 1276.3 1233.1 1277 1230.1 1278.4 1228.1 1280.7 1226.1 1286.8 1223.9 1290.8 1223.7 1294.8 1224.3 1298.8 1226.1 1301.1 1228.1 1302.9 1231.1 1303.2 1234.1 1302.4 1237.1 1300.8 1240.2 1311.8 1240.9 1326.8 1244.3 1328.5 1243.1 1330.7 1239.1 1332.8 1236.9 1335.8 1236 1337.8 1236.6 1339.8 1238.3 1341 1241.1 1341.3 1244.1 1340.4 1249.1 1340.6 1251.1 1350.8 1261.1 1353.6 1265.1 1355.5 1269.1 1356.9 1275.1 1356.8 1285.1 1360.3 1293.1 1361.4 1297.1 1361.3 1303.1 1359.4 1308.1 1355.8 1311.9ZM1244.8 1299.5 1241.8 1299.3 1240 1298.1 1239.6 1296.1 1240.1 1295.1 1241.8 1294.1 1244.8 1294 1246.7 1295.1 1247.4 1296.1 1246.9 1298.1Z"/><path fill-rule="evenodd" fill="#0052ff" d="M1348.8 1313.1 1343.8 1312.6 1338.8 1309.5 1335.5 1305.1 1332.4 1298.1 1330.8 1296.9 1322.8 1298.6 1312.8 1298.4 1303 1296.1 1293.8 1292.1 1288.8 1289.1 1283.7 1285.1 1279 1280.1 1274.8 1274.1 1272.8 1272.9 1260.8 1272.8 1253.8 1272 1244.7 1269.1 1238.8 1265.5 1237.8 1265.9 1235.7 1271.1 1232.8 1276 1230.8 1278.4 1227.8 1280.6 1224.8 1281.3 1222.8 1281 1219.8 1279.3 1217.8 1277.3 1214.8 1272.8 1212.3 1267.1 1210.1 1260.1 1208.1 1251.1 1206.3 1231.1 1207.1 1211.1 1208.3 1202.1 1210.3 1193.1 1212.7 1186.1 1215.5 1180.1 1218.8 1175.8 1221.8 1173.6 1224.8 1172.9 1228.7 1174.1 1232.8 1178.2 1236.5 1185.1 1239.5 1194.1 1241.6 1204.1 1243 1216.1 1243.4 1228.1 1242.9 1239.1 1241.3 1254.1 1241.8 1254.4 1252.8 1252.2 1259.8 1251.6 1266.3 1252.1 1274.8 1254 1279.6 1249.1 1284.8 1246.1 1291.8 1243.8 1298.8 1242.8 1304.8 1242.7 1311.8 1243.4 1326.8 1247.2 1328.8 1247.2 1329.8 1246.1 1331.1 1241.1 1332.8 1238.6 1334.8 1237.5 1337.8 1238.1 1339.4 1240.1 1340.1 1243.1 1339.6 1246.1 1337.5 1250.1 1337.6 1252.1 1346 1260.1 1350.9 1267.1 1353 1274.1 1353 1284.1 1358.5 1293.1 1360.1 1298.1 1360 1303.1 1357.7 1308.1 1353.8 1311.6ZM1294.8 1241.2 1290.8 1242 1286.8 1241.7 1282.8 1240 1279.7 1237.1 1278.5 1234.1 1278.8 1231 1280.9 1228.1 1284.8 1225.9 1289.8 1225.1 1293.8 1225.7 1297.2 1227.1 1300.3 1230.1 1301.2 1233.1 1300.6 1236.1 1298.4 1239.1ZM1243.8 1299.3 1241.8 1298.9 1240 1297.1 1240.8 1295 1243.8 1294.1 1246.2 1295.1 1246.9 1297.1 1245.8 1298.6Z"/><path fill-rule="evenodd" fill="#007fff" d="M1227.8 1277.2 1223.8 1277.8 1220.8 1276.6 1217.8 1273.6 1214.8 1268.7 1212.2 1262.1 1210.1 1254.1 1208.5 1245.1 1207.6 1235.1 1207.9 1215.1 1210.5 1198.1 1212.8 1190.3 1215.5 1184.1 1218.8 1179.4 1221.8 1177.1 1225.8 1176.4 1228.8 1177.7 1231.8 1180.6 1234.8 1185.5 1237.4 1192.1 1239.5 1200.1 1241.1 1209.1 1242 1219.1 1241.7 1239.1 1240.5 1249.1 1238.9 1257.1 1236.4 1265.1 1233.8 1270.6 1230.8 1274.8ZM1293.8 1239.3 1289.8 1239.9 1285.8 1239.3 1283.6 1238.1 1281.8 1236.1 1281.4 1234.1 1281.8 1231.4 1284.2 1229.1 1286.4 1228.1 1293 1228.1 1295.3 1229.1 1297.8 1231.6 1297.9 1236.1 1296.1 1238.1ZM1334.8 1248.3 1332.7 1247.1 1332 1243.1 1333.4 1240.1 1335.8 1239 1337.8 1240.1 1338.7 1242.1 1338.7 1244.1 1337.1 1247.1ZM1351.8 1311.2 1348.8 1312 1345.8 1311.8 1342.8 1310.9 1340.1 1309.1 1337 1305.1 1333.8 1295.8 1331.8 1293.7 1328.8 1293.2 1317.8 1293.1 1310.8 1292.2 1300.8 1289.3 1292.1 1285.1 1286.3 1281.1 1281.2 1276.1 1278.5 1272.1 1275.8 1266.2 1273.5 1268.1 1269 1270.1 1261.8 1271 1254.2 1270.1 1245.3 1266.1 1241.8 1263.4 1240.8 1261.2 1241.3 1259.1 1242.2 1258.1 1243.8 1257 1249.5 1255.1 1253.8 1254 1258.8 1253.8 1265.8 1254 1269.5 1255.1 1273.2 1257.1 1275.8 1259.6 1279.8 1253.1 1285 1249.1 1292.8 1246.1 1302.8 1244.9 1309.8 1245.2 1316.8 1246.5 1323.8 1248.5 1332.8 1252.1 1341.8 1259.4 1347.1 1266.1 1349.6 1273.1 1349.1 1282.1 1349.5 1284.1 1355.8 1291.3 1358.4 1296.1 1359 1301.1 1358.1 1305.1 1355.8 1308.6ZM1245.8 1298.2 1243.8 1299 1241 1298.1 1240.5 1296.1 1241.3 1295.1 1243.8 1294.4 1245.7 1295.1 1246.5 1297.1Z"/><path fill-rule="evenodd" fill="#00b2ff" d="M1226.8 1274.5 1223.8 1274.8 1220.8 1273.4 1217.8 1270.3 1214.8 1264.9 1212.4 1258.1 1210.5 1250.1 1208.6 1233.1 1209.1 1214.1 1211.8 1198.1 1214.1 1191.1 1216.8 1185.5 1219.8 1181.7 1222.8 1179.7 1225.8 1179.5 1228.8 1180.8 1231.8 1184 1234.8 1189.4 1237.2 1196.1 1239.1 1204.1 1241 1221.1 1240.5 1240.1 1237.8 1256.1 1235.5 1263.1 1232.8 1268.7 1229.8 1272.6ZM1335.8 1244.5 1334.8 1244.6 1334.5 1244.1 1334.8 1242.8 1336 1243.1ZM1350.8 1310.4 1347.8 1310.9 1344.8 1310.4 1342 1309.1 1339.7 1307.1 1337.3 1303.1 1335.6 1293.1 1334.1 1291.1 1331.8 1290.7 1317.8 1291.1 1306.8 1289.2 1300.8 1287.2 1294.8 1284.3 1289.9 1281.1 1285.8 1277.6 1282.8 1274.1 1280.5 1270.1 1279.2 1266.1 1279 1262.1 1280.1 1258.1 1282 1255.1 1285.3 1252.1 1289.8 1249.6 1295.8 1247.8 1301.8 1247 1308.8 1247.1 1315.8 1248.2 1322.8 1250.2 1329.8 1253.3 1334.8 1256.4 1339.8 1260.6 1344.1 1266.1 1346.2 1271.1 1346.6 1276.1 1345.2 1283.1 1345.8 1285.1 1351.8 1289.4 1354.7 1292.1 1356.7 1295.1 1357.7 1298.1 1357.8 1302.1 1356.3 1306.1 1353.8 1308.8ZM1244.8 1298.4 1242.8 1298.6 1240.8 1297.1 1240.9 1296.1 1242.8 1294.8 1244.8 1294.9 1246.1 1296.1 1246.1 1297.1Z"/><path fill-rule="evenodd" fill="#00eaff" d="M1227.8 1271.2 1224.8 1272.1 1221.8 1271.2 1218.8 1268.5 1216.6 1265.1 1214.4 1260.1 1212.3 1253.1 1210.7 1245.1 1209.8 1236.1 1209.8 1218.1 1212.1 1202.1 1213.8 1195.8 1216.1 1190.1 1218.8 1185.8 1221.8 1183.1 1224.8 1182.3 1227.8 1183.1 1230.8 1185.8 1233.5 1190.1 1235.8 1195.9 1237.5 1202.1 1239.8 1218.1 1239.8 1236.1 1237.6 1252.1 1235.8 1258.4 1233.5 1264.1 1230.8 1268.4ZM1323.8 1289.1 1317.8 1289.2 1311.8 1288.4 1305.8 1287 1299.8 1284.6 1294.8 1282 1289.8 1278.3 1286.7 1275.1 1283.9 1271.1 1282.4 1267.1 1282 1263.1 1282.8 1259.8 1284.8 1256.4 1287.8 1253.6 1291.8 1251.4 1296.8 1249.8 1301.8 1249.1 1307.8 1249 1313.8 1249.7 1324.9 1253.1 1330.6 1256.1 1334.8 1259.1 1338.9 1263.1 1341.7 1267.1 1343.4 1272.1 1343.5 1276.1 1342.3 1280.1 1339.8 1284.3 1337.8 1286 1335.8 1286.9ZM1350.8 1309.2 1346.8 1309.7 1343.8 1308.8 1340.8 1306.6 1338.6 1303.1 1337.6 1298.1 1338.3 1293.1 1339.8 1290.1 1342.8 1288.5 1346.8 1288.8 1350.8 1290.5 1353.8 1293 1355.8 1296.1 1356.8 1300.1 1356 1304.1 1354 1307.1ZM1244.8 1298.1 1242.8 1298.3 1241.3 1297.1 1241.3 1296.1 1242.7 1295.1 1244.2 1295.1 1245.6 1296.1 1245.7 1297.1Z"/><path fill-rule="evenodd" fill="#00f7cb" d="M1225.8 1269.3 1222.8 1269.1 1219.8 1266.9 1217.7 1264.1 1215.3 1259.1 1211.9 1246.1 1210.4 1230.1 1211.2 1213.1 1214 1199.1 1216.3 1193.1 1218.8 1188.8 1221.6 1186.1 1223.9 1185.1 1226.8 1185.4 1229.8 1187.7 1231.8 1190.4 1234.1 1195.1 1237.6 1208.1 1239.2 1224.1 1238.5 1240.1 1235.8 1254.3 1233.8 1260.1 1231.1 1265.1 1228.8 1267.7ZM1322.8 1287.1 1317.8 1287.2 1311.8 1286.5 1301.8 1283.4 1293 1278.1 1289.8 1275.1 1287 1271.1 1285.4 1267.1 1285.1 1264.1 1285.7 1261.1 1287.3 1258.1 1290.4 1255.1 1293.8 1253.2 1297.8 1251.9 1302.8 1251.1 1307.8 1250.9 1313.8 1251.6 1323.8 1254.6 1332.6 1260.1 1335.8 1263.1 1338.6 1267.1 1340.2 1271.1 1340.5 1274.1 1339.5 1278.1 1337.8 1280.9 1335.5 1283.1 1331.8 1285.1ZM1349.8 1308.2 1346.8 1308.4 1343.8 1307.5 1341.1 1305.1 1339.5 1302.1 1339 1298.1 1339.8 1294.6 1341.8 1291.9 1344.8 1290.7 1347.8 1290.9 1350.8 1292.2 1353.8 1295 1355.2 1298.1 1355.5 1301.1 1354.7 1304.1 1352.8 1306.6ZM1244.8 1297.5 1242.8 1297.9 1241.7 1297.1 1241.8 1296.1 1242.8 1295.5 1244.8 1295.8 1245.2 1297.1Z"/><path fill-rule="evenodd" fill="#00fe92" d="M1226.8 1266.4 1223.8 1266.9 1221.8 1266 1218.9 1263.1 1216.8 1259.4 1213.3 1248.1 1211.4 1233.1 1211.6 1218.1 1213.8 1204.1 1215.7 1198.1 1217.8 1193.4 1220.2 1190.1 1222.9 1188.1 1225.8 1187.8 1227.8 1188.7 1230.8 1191.9 1232.8 1195.5 1236.4 1207.1 1238.1 1221.1 1237.9 1236.1 1235.7 1250.1 1233.9 1256.1 1231.8 1260.9 1229.6 1264.1ZM1325.8 1284.3 1316.8 1285 1307 1283.1 1298.3 1279.1 1294.4 1276.1 1291.8 1273.4 1289.7 1270.1 1288.7 1267.1 1288.5 1264.1 1289.4 1261.1 1291.5 1258.1 1293.8 1256.3 1300.8 1253.6 1309.8 1253 1318.8 1254.6 1326.2 1258.1 1333.3 1264.1 1335.4 1267.1 1336.7 1270.1 1337.1 1273.1 1336.6 1276.1 1335 1279.1 1332.9 1281.1 1329.8 1282.9ZM1350.8 1306.2 1347.8 1307.1 1345.8 1306.8 1342.9 1305.1 1341.4 1303.1 1340.5 1300.1 1340.7 1297.1 1341.8 1294.8 1343.8 1293.1 1345.8 1292.5 1348.8 1292.9 1351.8 1294.8 1353.4 1297.1 1354 1299.1 1353.9 1302.1 1352.8 1304.5ZM1243.8 1297.4 1242.5 1297.1 1242.8 1296 1244.2 1296.1 1244.4 1297.1Z"/><path fill-rule="evenodd" fill="#00ff4d" d="M1225.8 1264.4 1222.8 1264.2 1220.8 1262.8 1218.8 1260.3 1216.7 1256.1 1213.5 1244.1 1212.2 1230.1 1212.8 1216.1 1215.3 1203.1 1218.8 1194.8 1220.8 1192.3 1223.8 1190.5 1226.8 1190.9 1228.8 1192.4 1230.8 1195 1232.8 1199 1235.8 1210.1 1237.2 1224.1 1236.7 1238.1 1234.3 1251.1 1230.5 1260.1 1228 1263.1ZM1321.8 1282.2 1313.8 1282.2 1305.7 1280.1 1298.6 1276.1 1294 1271.1 1292.3 1266.1 1292.7 1263.1 1293.8 1261.1 1297.8 1257.6 1304.8 1255.2 1312.8 1255.1 1319.8 1256.9 1326.6 1261.1 1331.1 1266.1 1333.1 1271.1 1333.1 1274.1 1332.3 1276.1 1330.8 1278.2 1328.3 1280.1ZM1347.8 1305.1 1345.8 1304.7 1343.8 1303.3 1342.4 1300.1 1342.5 1298.1 1343.4 1296.1 1344.8 1295 1346.8 1294.5 1348.8 1294.9 1350.5 1296.1 1351.9 1298.1 1352.3 1300.1 1351.9 1302.1 1350.8 1303.8Z"/><path fill-rule="evenodd" fill="#00ff07" d="M1224.8 1262.3 1222.8 1261.9 1220.8 1260.5 1218.8 1257.8 1216.7 1253.1 1214 1242.1 1213 1228.1 1213.9 1214.1 1216.5 1203.1 1219.9 1196.1 1222.8 1193.6 1224.8 1193.2 1226.8 1193.7 1228.8 1195.4 1230.8 1198.3 1232.8 1202.9 1235.4 1214.1 1236.3 1227.1 1235.5 1240.1 1232.8 1252 1230.8 1256.7 1228.8 1259.8 1226.8 1261.6ZM1317.8 1279.1 1310.8 1278.4 1304.8 1276.2 1300.4 1273.1 1297.5 1269.1 1297 1265.1 1299 1261.1 1302.8 1258.4 1307.8 1257 1313.8 1257 1319.8 1259 1324.1 1262.1 1327.4 1267.1 1328.3 1271.1 1327 1275.1 1324.8 1277.1 1322.8 1278.1Z"/><path fill-rule="evenodd" fill="#48ff00" d="M1226.8 1259.3 1224.8 1260.1 1222.8 1259.8 1220.8 1258.2 1218.7 1255.1 1215.4 1245.1 1214 1233.1 1214.2 1220.1 1216.1 1208.1 1219.3 1200.1 1220.8 1197.9 1223.4 1196.1 1225.8 1196.1 1227.4 1197.1 1230.9 1202.1 1233.8 1211.6 1235.2 1223.1 1235 1235.1 1233.3 1246.1 1230.6 1254.1 1228.8 1257.2ZM1315.8 1274.2 1311.8 1274.2 1307.8 1273.1 1304.6 1271.1 1302.2 1268.1 1301.8 1265.1 1303.2 1262.1 1305.8 1260.1 1308.8 1259.1 1312.8 1258.9 1317.2 1260.1 1320.3 1262.1 1322.5 1265.1 1323 1268.1 1321.8 1271.1 1319.4 1273.1Z"/><path fill-rule="evenodd" fill="#98ff00" d="M1225.8 1257.7 1223.8 1258 1221.8 1257 1218.8 1252.8 1216.1 1244.1 1214.7 1233.1 1214.9 1221.1 1216.4 1211.1 1219.3 1203.1 1220.8 1200.7 1222.8 1199.1 1224.8 1198.7 1226.8 1199.6 1230.1 1204.1 1232.8 1212.9 1234 1223.1 1234 1234.1 1232.4 1245.1 1229.7 1253.1 1227.8 1256ZM1314.8 1269.3 1310.8 1269.3 1308.8 1268.4 1307.4 1267.1 1306.9 1265.1 1307.2 1264.1 1308.8 1262.5 1310.8 1261.9 1314.8 1262.3 1316.8 1263.5 1317.8 1264.9 1317.8 1267.2 1316.8 1268.4Z"/><path fill-rule="evenodd" fill="#d5ff00" d="M1225.8 1255.6 1222.8 1255.7 1220.8 1253.9 1219.1 1251.1 1216.7 1243.1 1215.5 1233.1 1215.5 1223.1 1217 1213.1 1219.8 1205.1 1222.8 1201.8 1225.8 1201.9 1228.8 1205.5 1231.6 1214.1 1232.8 1223.1 1232.9 1234.1 1231.5 1244.1 1228.8 1252.1Z"/><path fill-rule="evenodd" fill="#fff300" d="M1225.8 1253.5 1224.8 1253.9 1222.8 1253.7 1219.8 1250.2 1217.5 1243.1 1216.2 1234.1 1216.3 1223.1 1217.7 1214.1 1219.8 1208.3 1222.6 1205.1 1223.8 1204.8 1225.8 1205.6 1228.2 1209.1 1230.2 1215.1 1231.5 1224.1 1231.6 1234.1 1230.6 1243.1 1228.8 1249.3Z"/><path fill-rule="evenodd" fill="#ffcc00" d="M1225.8 1251.3 1223.8 1252 1222.8 1251.7 1220 1248.1 1217.8 1241.1 1217 1234.1 1217 1225.1 1218.2 1217.1 1220.2 1211.1 1222.8 1208.1 1223.8 1207.9 1225.8 1208.8 1227.8 1211.9 1229.4 1217.1 1230.6 1225.1 1230.7 1233.1 1229.8 1241.1 1228.3 1247.1Z"/><path fill-rule="evenodd" fill="#ffa400" d="M1224.8 1249.4 1222.8 1249.4 1220.3 1246.1 1218.5 1240.1 1217.8 1233.1 1217.9 1225.1 1218.8 1218.8 1220.8 1213.1 1222.8 1210.8 1224.8 1210.8 1227.3 1214.1 1229.1 1220.1 1229.8 1227.1 1229.7 1235.1 1228.8 1241.4 1226.8 1247.1Z"/><path fill-rule="evenodd" fill="#ff7300" d="M1223.8 1247.2 1221.8 1246 1220 1242.1 1218.8 1236.2 1218.4 1230.1 1218.8 1224 1220 1218.1 1221.8 1214.2 1223.8 1213 1225.8 1214.2 1227.6 1218.1 1228.8 1224 1229.2 1230.1 1228.8 1236.2 1227.6 1242.1 1225.8 1246Z"/><path fill-rule="evenodd" fill="#ff4100" d="M1224.8 1244.4 1223.8 1244.8 1222.8 1244.4 1221.2 1242.1 1220 1238.1 1219.3 1233.1 1219.8 1223 1220.8 1219 1222.8 1215.8 1223.8 1215.4 1224.8 1215.8 1226.4 1218.1 1227.6 1222.1 1228.3 1227.1 1227.8 1237.2 1226.8 1241.2Z"/><path fill-rule="evenodd" fill="#ff1e00" d="M1223.8 1242.1 1222.4 1241.1 1221 1238.1 1220.1 1230.1 1221 1222.1 1222.4 1219.1 1223.8 1218.1 1225.2 1219.1 1226.6 1222.1 1227.5 1230.1 1226.6 1238.1 1225.2 1241.1Z"/><path fill-rule="evenodd" fill="#ff0a00" d="M1224.8 1238.2 1223.8 1238.8 1222.8 1238.2 1221.3 1233.1 1221.4 1226.1 1222.8 1222 1223.8 1221.4 1224.8 1222 1226.3 1227.1 1226.2 1234.1Z"/></g>
<rect x="1157.8" y="1064.1" width="278" height="279.6" fill="none" stroke="#555" stroke-width="1.3"/><path d="M1174.4 1343.7v6.5M1219.9 1343.7v6.5M1265.4 1343.7v6.5M1341 1343.7v6.5M1407.3 1343.7v6.5" stroke="#111" stroke-width="2"/><path d="M1179 1343.7v3.5M1183.5 1343.7v3.5M1188 1343.7v3.5M1192.6 1343.7v3.5M1197.1 1343.7v3.5M1201.7 1343.7v3.5M1206.2 1343.7v3.5M1210.8 1343.7v3.5M1215.3 1343.7v3.5M1224.5 1343.7v3.5M1229 1343.7v3.5M1233.5 1343.7v3.5M1238.1 1343.7v3.5M1242.6 1343.7v3.5M1247.2 1343.7v3.5M1251.8 1343.7v3.5M1256.3 1343.7v3.5M1260.8 1343.7v3.5M1288.2 1343.7v3.5M1301.5 1343.7v3.5M1310.9 1343.7v3.5M1318.2 1343.7v3.5M1324.2 1343.7v3.5M1329.3 1343.7v3.5M1333.7 1343.7v3.5M1337.5 1343.7v3.5M1361 1343.7v3.5M1372.6 1343.7v3.5M1380.9 1343.7v3.5M1387.3 1343.7v3.5M1392.6 1343.7v3.5M1397 1343.7v3.5M1400.9 1343.7v3.5M1404.3 1343.7v3.5M1425.4 1343.7v3.5M1215.5 1343.7v5M1216.1 1343.7v5M1216.6 1343.7v5M1217.2 1343.7v5M1217.7 1343.7v5M1218.3 1343.7v5M1218.8 1343.7v5M1219.4 1343.7v5M1219.9 1343.7v5M1220.4 1343.7v5M1221 1343.7v5M1221.5 1343.7v5M1222.1 1343.7v5M1222.6 1343.7v5M1223.2 1343.7v5M1223.7 1343.7v5M1224.3 1343.7v5" stroke="#222" stroke-width="1.1"/><path d="M1157.8 1327.6h-6.5M1157.8 1280.3h-6.5M1157.8 1233h-6.5M1157.8 1157.7h-6.5M1157.8 1090.6h-6.5" stroke="#111" stroke-width="2"/><path d="M1157.8 1322.9h-3.5M1157.8 1318.1h-3.5M1157.8 1313.4h-3.5M1157.8 1308.7h-3.5M1157.8 1304h-3.5M1157.8 1299.2h-3.5M1157.8 1294.5h-3.5M1157.8 1289.8h-3.5M1157.8 1285h-3.5M1157.8 1275.6h-3.5M1157.8 1270.8h-3.5M1157.8 1266.1h-3.5M1157.8 1261.4h-3.5M1157.8 1256.7h-3.5M1157.8 1251.9h-3.5M1157.8 1247.2h-3.5M1157.8 1242.5h-3.5M1157.8 1237.7h-3.5M1157.8 1210.3h-3.5M1157.8 1197.1h-3.5M1157.8 1187.7h-3.5M1157.8 1180.4h-3.5M1157.8 1174.4h-3.5M1157.8 1169.4h-3.5M1157.8 1165h-3.5M1157.8 1161.1h-3.5M1157.8 1137.5h-3.5M1157.8 1125.7h-3.5M1157.8 1117.3h-3.5M1157.8 1110.8h-3.5M1157.8 1105.5h-3.5M1157.8 1101h-3.5M1157.8 1097.1h-3.5M1157.8 1093.7h-3.5M1157.8 1071.9h-3.5M1157.8 1284.8h-5M1157.8 1284.3h-5M1157.8 1283.7h-5M1157.8 1283.1h-5M1157.8 1282.6h-5M1157.8 1282h-5M1157.8 1281.4h-5M1157.8 1280.9h-5M1157.8 1280.3h-5M1157.8 1279.7h-5M1157.8 1279.2h-5M1157.8 1278.6h-5M1157.8 1278h-5M1157.8 1277.5h-5M1157.8 1276.9h-5M1157.8 1276.3h-5M1157.8 1275.8h-5" stroke="#222" stroke-width="1.1"/><text x="1175.9" y="1374.9" font-size="11.6" text-anchor="middle">-10<tspan dy="-6" font-size="8">3</tspan></text><text x="1219.9" y="1374.3" font-size="11.6" text-anchor="middle">0</text><text x="1266.9" y="1374.9" font-size="11.6" text-anchor="middle">10<tspan dy="-6" font-size="8">3</tspan></text><text x="1342.5" y="1374.9" font-size="11.6" text-anchor="middle">10<tspan dy="-6" font-size="8">4</tspan></text><text x="1408.8" y="1374.9" font-size="11.6" text-anchor="middle">10<tspan dy="-6" font-size="8">5</tspan></text><text x="1141" y="1335.6" font-size="11.6" text-anchor="end">-10<tspan dy="-5" font-size="8">3</tspan></text><text x="1140.8" y="1284.8" font-size="11.6" text-anchor="end">0</text><text x="1141" y="1241" font-size="11.6" text-anchor="end">10<tspan dy="-5" font-size="8">3</tspan></text><text x="1141" y="1165.7" font-size="11.6" text-anchor="end">10<tspan dy="-5" font-size="8">4</tspan></text><text x="1141" y="1098.6" font-size="11.6" text-anchor="end">10<tspan dy="-5" font-size="8">5</tspan></text><rect x="1272.8" y="1255.4" width="99.5" height="76" fill="none" stroke="#222" stroke-width="1.6"/><text x="1353.6" y="1243.8" font-size="28.3">45.7</text><text x="1294.8" y="1051.3" font-size="28.6" text-anchor="middle">shLOXL2</text>
<g><path fill-rule="evenodd" fill="#000fff" d="M199.6 1788.4 195.6 1788.2 191.6 1785.7 189.6 1783.2 185.2 1774.4 183.1 1771.4 174.6 1765.1 171.8 1762.4 168.6 1756.9 167 1749.4 167.5 1740.4 169.7 1732.4 173.7 1723.4 180.3 1712.4 182.1 1707.4 182.5 1703.4 181.7 1686.4 182.6 1680.4 185 1672.4 185.4 1652.4 186.2 1649.4 187.5 1647.4 189.8 1645.4 194.6 1643.4 199.6 1642.4 210.6 1641.5 297.6 1641.1 320.6 1639.9 329.8 1640.4 333.6 1641.4 336.6 1643.1 338.5 1645.4 339.7 1648.4 341.6 1669.4 340.5 1674.4 337.7 1678.4 331.6 1684.9 327.5 1688.4 320.6 1691.2 310.6 1693.4 267.6 1699.8 263.6 1699.4 258.6 1696 254.6 1694.2 250.6 1693.7 245.6 1693.8 244.9 1694.4 246.6 1696.6 248.6 1698.2 256.6 1700.5 259.7 1702.4 260.9 1704.4 261.1 1706.4 260 1710.4 255.6 1716.2 244.9 1726.4 233.6 1743.3 221.1 1757.4 218.2 1762.4 212.6 1776.2 209.5 1781.4 204.6 1786.3Z"/><path fill-rule="evenodd" fill="#002dff" d="M201.6 1783.7 198.6 1784.2 196.6 1783.9 192.6 1781 185.1 1768.4 176.6 1761.5 173.6 1757.9 171.5 1753.4 170.3 1747.4 170.8 1739.4 173 1731.4 176.1 1724.4 182.6 1713.2 184 1709.4 184.6 1704.4 183.5 1691.4 184 1683.4 186.6 1674.9 188.6 1671.7 191.6 1668.4 191.9 1654.4 192.6 1651.4 193.8 1649.4 196.6 1647.1 201.4 1645.4 214.6 1643.9 275.6 1643.5 318.6 1641 327.6 1641.5 333.2 1643.4 336.2 1646.4 337.6 1650.4 339 1667.4 338.6 1672.4 337.5 1675.4 334.4 1679.4 327.2 1686.4 324.2 1688.4 317.6 1690.7 308.6 1692.6 270.6 1698.5 265.6 1698 258.6 1693.6 253.6 1691.6 247.6 1691.2 236.2 1691.4 239.6 1694.3 244.6 1699.8 253.6 1702.2 256.6 1703.7 258.2 1706.4 257.9 1709.4 256.4 1712.4 254 1715.4 242.1 1726.4 231.9 1741.4 219.6 1755.4 216.5 1760.4 209.4 1776.4 205.6 1781.1Z"/><path fill-rule="evenodd" fill="#0052ff" d="M201.6 1779.6 197.6 1779.8 194.6 1777.9 186.6 1765.8 177.1 1757.4 173.9 1751.4 172.9 1744.4 173.4 1738.4 175.3 1731.4 178.4 1724.4 184.6 1713.4 186 1709.4 186.4 1704.4 185.1 1689.4 186.4 1680.4 188.6 1675.4 191.6 1672 195.6 1670.6 199.6 1671.4 200 1655.4 201 1652.4 202.9 1650.4 207.6 1648.3 216.6 1647.1 264.6 1646.4 301.6 1642.6 316.6 1642 325.6 1642.5 331.5 1644.4 333.6 1646.3 334.8 1648.4 335.8 1653.4 336.7 1671.4 335.5 1675.4 332.6 1679.3 326.2 1684.4 324.7 1686.4 321.2 1688.4 308.6 1691.8 276.6 1696.8 271.6 1697.2 267.6 1696.7 256.6 1690.2 251.6 1688.5 219.6 1687.9 207.6 1686.6 207.5 1687.4 208.6 1689.7 211.6 1692.2 214.6 1692.5 225.6 1691.6 232.6 1693.3 236.6 1695.9 240.6 1700.4 242.6 1701.9 253.6 1704.8 255.2 1706.4 255.6 1708.4 254.8 1711.4 252.8 1714.4 239.8 1726.4 230.3 1740.4 218.6 1753.6 214.8 1759.4 207.6 1774.2 204.6 1777.7Z"/><path fill-rule="evenodd" fill="#007fff" d="M278.6 1695.5 270.6 1695.5 267.6 1694.5 259.4 1689.4 251.2 1682.4 246.6 1681.3 241.6 1681.2 239 1680.4 227.6 1679.5 223.9 1678.4 221.8 1676.4 221.2 1674.4 221.1 1662.4 221.8 1658.4 223.6 1656.6 225.6 1655.8 231.6 1654.9 245.6 1654.4 250.6 1651 255.6 1649.1 263.6 1647.5 280.2 1645.4 295.6 1643.7 312.6 1642.8 322.6 1643.1 328.6 1644.6 331.6 1646.7 333.5 1650.4 334.9 1670.4 334.3 1674.4 331.7 1678.4 327.6 1681.8 323.9 1683.4 323.6 1684.7 320.5 1687.4 315.6 1688.7 314.9 1689.4 311.6 1689.7 310.9 1690.4 306.6 1690.7 305.9 1691.4 294.6 1692.7 293.6 1693.4 288.6 1693.6 286.6 1694.4 280.6 1694.7ZM202.6 1774.4 200.6 1775.2 198.6 1775.2 195.6 1773.6 187.8 1763.4 178.9 1755.4 175.9 1749.4 175.1 1741.4 176.1 1735.4 178 1729.4 185.9 1714.4 187.6 1709.4 188 1704.4 186.6 1688.4 187.5 1682.4 189.6 1677.5 191.6 1675 193.6 1673.7 196.6 1673.4 198.8 1674.4 200.6 1676 202.6 1679.1 206.7 1690.4 208.6 1693.2 211.6 1694.6 223.6 1693.8 230.6 1695.3 234.6 1697.8 240.4 1703.4 249 1705.4 251.3 1706.4 252.3 1707.4 252.9 1709.4 252.4 1711.4 250.6 1714.4 237.9 1726.4 229 1739.4 216.7 1753.4 207.6 1769.1 205.6 1771.9Z"/><path fill-rule="evenodd" fill="#00b2ff" d="M273.6 1682.4 258.6 1682.5 248.6 1679.8 237.6 1678.2 233.6 1675.7 231.6 1672.6 231.1 1669.4 232.1 1665.4 235.6 1661.8 245.6 1657.5 251.4 1652.4 255.6 1650.3 265.6 1648.1 293.6 1644.5 307.6 1643.6 318.6 1643.6 324.6 1644.5 328.9 1646.4 331.3 1649.4 332.1 1652.4 332.3 1661.4 333.2 1671.4 332.3 1675.4 330.1 1678.4 327.6 1680.3 324.6 1681.6 321.6 1682.2 317.6 1682.2 308.6 1680.3 303.6 1680ZM201.6 1769.4 198.6 1769.9 195.6 1768.5 189 1761.4 181.2 1754.4 179.2 1751.4 177.9 1748.4 177.2 1744.4 177.1 1740.4 177.9 1735.4 179.8 1729.4 187.5 1714.4 189.2 1709.4 189.6 1704.4 188.2 1689.4 188.8 1684.4 190.6 1679.8 192.6 1677.4 194.6 1676.4 196.6 1676.4 198.6 1677.4 201.6 1681.4 205.1 1691.4 206.6 1694.2 208.6 1695.9 210.6 1696.6 222.6 1695.8 228.6 1697 232.6 1699.3 238.6 1704.9 247.7 1707.4 249 1708.4 249.7 1710.4 249.3 1712.4 247.5 1715.4 236 1726.4 227.1 1739.4 214.8 1753.4 206.6 1765.7 204.6 1767.7Z"/><path fill-rule="evenodd" fill="#00eaff" d="M274.6 1681.4 260.6 1681.5 255.7 1680.4 249.6 1677.9 241.6 1677.4 238.6 1676.8 235.6 1675.2 233.4 1672.4 232.8 1669.4 233.6 1666.4 235 1664.4 237.6 1662.4 247.6 1659 252.7 1653.4 257.6 1650.9 268.8 1648.4 293.6 1645 306.6 1644.2 317.6 1644.3 324 1645.4 327.9 1647.4 330 1650.4 330.6 1653.4 330.3 1662.4 331.5 1671.4 330.8 1675.4 329.4 1677.4 326.6 1679.5 320.6 1681.1 316.6 1681 308.6 1679.5 303.6 1679.1ZM199.6 1765.5 196.6 1765 194.6 1763.7 182.5 1752.4 180.6 1749.4 179.5 1746.4 178.9 1742.4 179.1 1738.4 181.4 1729.4 188.6 1715.4 190.8 1709.4 191.3 1703.4 190.1 1689.4 190.8 1685.4 192.6 1681.6 194 1680.4 195.6 1679.9 198.6 1681.3 200.6 1684.5 204.2 1694.4 205.6 1696.4 207.6 1697.9 211.6 1698.6 221.6 1697.7 227.6 1698.9 231.6 1701.4 236.9 1706.4 245.2 1709.4 245.9 1710.4 246.1 1712.4 244.2 1716.4 235.1 1725.4 226.1 1738.4 214.5 1751.4 207.6 1760.6 203.6 1764.2Z"/><path fill-rule="evenodd" fill="#00f7cb" d="M274.6 1680.5 261.7 1680.4 257.6 1679.2 250.6 1675.1 243.6 1675.6 239.6 1675 237 1673.4 235.6 1671.4 235.4 1668.4 236.2 1666.4 238.1 1664.4 240.6 1663.2 249.6 1661.5 250.8 1660.4 254.4 1654.4 259.6 1651.4 274.6 1648.1 293.6 1645.5 306.6 1644.8 316.6 1645 322.6 1646.1 326.6 1648.2 328.3 1650.4 329 1653.4 328.1 1662.4 329.9 1671.4 329.2 1675.4 327.6 1677.4 325.6 1678.7 319.6 1680.1 303.6 1678.2ZM201.6 1761.7 198.6 1762.1 195.6 1761 184.4 1751.4 182.4 1748.4 181.3 1745.4 180.7 1741.4 180.9 1737.4 183.4 1728.4 190.1 1715.4 192.5 1709.4 193.4 1703.4 193.2 1692.4 193.6 1689.7 194.6 1687.7 195.6 1687 197.6 1687.5 203.6 1697.9 206.6 1699.9 209.6 1700.5 220.6 1699.6 226.6 1700.8 229.6 1702.6 235.6 1708.2 241.6 1710.7 242.3 1711.4 242.7 1713.4 241.5 1716.4 233.4 1725.4 223.6 1739.4 206.6 1758.5Z"/><path fill-rule="evenodd" fill="#00fe92" d="M272.6 1679.4 266.1 1679.4 261.6 1678.6 259 1677.4 256.4 1674.4 254.4 1669.4 254.1 1666.4 255 1658.4 255.8 1656.4 257.4 1654.4 263.6 1651.4 281.6 1647.5 297.6 1645.6 312.6 1645.4 318.6 1646 322.6 1647.1 325.6 1649.1 327 1651.4 327.3 1655.4 325.7 1663.4 328.2 1672.4 327.9 1674.4 326.6 1676.5 323.6 1678.2 318.6 1679 303.6 1677ZM244.6 1672.6 241.4 1672.4 240.2 1671.4 239.6 1669.7 239.6 1668.4 240.6 1666.5 243.6 1665.4 247.5 1666.4 249 1668.4 248.9 1669.4 247.6 1671.2ZM201.6 1758.7 198.6 1758.9 195.6 1757.9 189.6 1753.4 185.6 1749.4 183.8 1746.4 182.7 1742.4 182.5 1738.4 183.3 1733.4 185.9 1726.4 193.1 1712.4 197.6 1700.8 199.6 1700 204.6 1701.9 207.6 1702.4 216.6 1701.6 222.6 1701.7 227 1703.4 233.6 1709.6 238.3 1712.4 239 1713.4 239 1715.4 237.4 1718.4 232.4 1724.4 221.9 1739.4 207.6 1754.8 204.6 1757.3Z"/><path fill-rule="evenodd" fill="#00ff4d" d="M321.6 1677.4 315.6 1677.7 304.6 1675.6 272.6 1677.8 266.6 1677.5 263.1 1676.4 261.1 1674.4 260.3 1672.4 258.1 1661.4 258.1 1658.4 258.8 1656.4 260.6 1654.4 264.3 1652.4 268.6 1651 283.6 1647.7 298.6 1646 312.6 1646 317.6 1646.6 321.6 1647.9 324 1649.4 325.7 1652.4 325.5 1656.4 323 1662.4 322.7 1664.4 323.2 1666.4 325.6 1670.5 326.2 1673.4 324.6 1676.1ZM202.6 1755.5 199.6 1756.1 196.6 1755.4 191.6 1752.2 187.6 1748.4 185.6 1745.2 184.5 1741.4 184.4 1737.4 185.2 1732.4 188.4 1724.4 198.6 1706.5 201.6 1704.8 216.6 1703.4 221.6 1703.6 225.9 1705.4 234.1 1713.4 234.9 1714.4 235.2 1716.4 233.9 1719.4 221.6 1737.6 208.6 1751.3 205.6 1753.8Z"/><path fill-rule="evenodd" fill="#00ff07" d="M321.6 1675.6 316.6 1676.3 308.6 1673.6 304.6 1672.8 276.6 1674.7 271.6 1674.5 268.6 1673.4 267.6 1672.4 265.8 1668.4 262 1662.4 261.1 1658.4 261.8 1656.4 263.7 1654.4 271.6 1651 284.6 1648.1 299.6 1646.5 312.6 1646.6 320.3 1648.4 323 1650.4 324.3 1653.4 323.4 1657.4 318 1665.4 318.2 1666.4 322.3 1670.4 323.4 1672.4 323.1 1674.4ZM202.6 1752.7 199.6 1753.1 196.6 1752.4 192.6 1749.9 189 1746.4 187.3 1743.4 186.4 1739.4 186.4 1735.4 187.3 1731.4 191.6 1721.7 196.6 1713.3 199.6 1709.6 203.7 1707.4 215.6 1705.4 221.6 1706 225.6 1708.2 230.6 1714.4 231.4 1716.4 231.3 1718.4 225.6 1729.3 220.6 1736.6 208.6 1748.8Z"/><path fill-rule="evenodd" fill="#48ff00" d="M299.6 1667.4 286.6 1668.2 275.6 1667.1 268.6 1664.5 265.9 1662.4 264.6 1660.6 264.1 1658.4 264.7 1656.4 268.2 1653.4 276.4 1650.4 288.6 1648 300.6 1646.9 311.6 1647.1 317.8 1648.4 319.9 1649.4 322 1651.4 322.7 1653.4 322.2 1656.4 320.6 1658.8 317.6 1661.6 310.6 1665.2ZM202.6 1749.6 199.6 1749.9 196.6 1749 193.6 1747.1 191 1744.4 189.4 1741.4 188.7 1738.4 189.3 1731.4 193.6 1721.8 199.6 1713.2 204.6 1709.9 213.6 1707.9 219.6 1708.1 223.6 1710.2 227.3 1715.4 227.9 1717.4 227.7 1720.4 223.6 1729.2 218.5 1736.4 208.6 1746.1Z"/><path fill-rule="evenodd" fill="#98ff00" d="M300.6 1665.6 289.6 1666.3 279.6 1665.7 271.6 1663.5 267.6 1660.4 266.8 1658.4 267.3 1656.4 270.8 1653.4 278.9 1650.4 288.9 1648.4 299.6 1647.4 309.6 1647.6 316.6 1649 320.3 1651.4 321.1 1653.4 320.9 1655.4 319.6 1657.7 316.6 1660.4 309.6 1663.7ZM204.6 1744.4 197.6 1744.4 193.6 1740.4 193.6 1739.4 192.6 1738.4 192.6 1731.2 195.6 1723.4 200.6 1716.7 205.2 1713.4 211.8 1711.4 216.6 1711.4 220.8 1713.4 222.6 1715.8 223.6 1718.3 223.6 1722 221.6 1727.7 217.6 1733.8 209.6 1741.4 208.6 1741.5 206.6 1743.4 205.6 1743.4Z"/><path fill-rule="evenodd" fill="#d5ff00" d="M300.6 1664.4 290.6 1665.2 281.6 1664.7 274.6 1663 270.4 1660.4 269.3 1658.4 269.7 1656.4 273.1 1653.4 279.6 1650.9 288.6 1649 298.6 1648 307.6 1648 314.6 1649.2 318.5 1651.4 319.5 1653.4 319.3 1655.4 318.1 1657.4 315.8 1659.4 308.6 1662.7ZM209.6 1734.7 205.6 1735.2 202.6 1734.3 200.3 1732.4 199 1728.4 199.9 1724.4 201.7 1721.4 205.6 1718 209.6 1716.5 213.6 1716.4 216.6 1717.8 218.5 1720.4 219 1723.4 217.9 1727.4 216 1730.4 212.6 1733.2Z"/><path fill-rule="evenodd" fill="#fff300" d="M300.6 1663.5 291.6 1664.2 282.6 1663.7 275.6 1661.9 272.2 1659.4 271.7 1658.4 271.9 1656.4 275.3 1653.4 281.6 1651 290.6 1649.2 300.6 1648.4 308.6 1648.7 314.6 1650.2 317.4 1652.4 317.6 1655.4 314.6 1658.8 308.6 1661.6ZM208.6 1733.5 205.6 1733.7 203.6 1733.1 201.6 1731.3 200.6 1728.4 201 1725.4 202.6 1722.4 205.6 1719.5 208.6 1718.1 211.6 1717.7 214.6 1718.5 216.6 1720.4 217.4 1723.4 216.9 1726.4 215.1 1729.4 212.6 1731.8Z"/><path fill-rule="evenodd" fill="#ffcc00" d="M301.6 1662.4 293.6 1663.3 285.6 1663.1 278.6 1661.6 274.7 1659.4 274.1 1658.4 274.1 1656.4 275.9 1654.4 281.6 1651.8 289.6 1650 298.6 1649.1 306.6 1649.2 312.4 1650.4 315.4 1652.4 315.9 1653.4 315.8 1655.4 313 1658.4 308.6 1660.6ZM208.6 1732.5 205.6 1732.6 203.6 1731.7 201.9 1729.4 201.7 1727.4 202.4 1724.4 203.7 1722.4 206.6 1720 209.6 1718.8 212.6 1718.9 214.6 1719.9 215.8 1721.4 216.3 1724.4 215.4 1727.4 213.9 1729.4 211.6 1731.3Z"/><path fill-rule="evenodd" fill="#ffa400" d="M294.6 1662.4 287.6 1662.4 281.8 1661.4 277.4 1659.4 276.2 1657.4 277 1655.4 278.1 1654.4 282.3 1652.4 288.6 1650.8 295.6 1649.9 302.6 1649.7 308.9 1650.4 313.2 1652.4 314 1654.4 312.2 1657.4 308.6 1659.5 302.3 1661.4ZM208.6 1731.7 206.6 1731.8 204.6 1731.1 203 1729.4 202.6 1727.4 202.9 1725.4 204.6 1722.6 208.6 1719.9 211.6 1719.7 213.6 1720.4 215.1 1722.4 215.4 1724.4 214.4 1727.4 212.8 1729.4Z"/><path fill-rule="evenodd" fill="#ff7300" d="M295.6 1661.4 288.6 1661.4 282.9 1660.4 279.3 1658.4 278.9 1656.4 280.7 1654.4 285.3 1652.4 296.6 1650.5 302.6 1650.5 307.6 1651.2 310.5 1652.4 311.8 1654.4 310.9 1656.4 307.6 1658.6 302.4 1660.4ZM209.6 1730.6 207.6 1730.9 205.6 1730.6 203.7 1728.4 203.5 1726.4 204.2 1724.4 207.6 1721.2 211.6 1720.6 213.6 1721.7 214.4 1723.4 214.4 1725.4 213.5 1727.4 211.7 1729.4Z"/><path fill-rule="evenodd" fill="#ff4100" d="M294.6 1660.4 289.6 1660.3 284.9 1659.4 282.9 1658.4 282 1657.4 282 1656.4 283.9 1654.4 286.1 1653.4 296.6 1651.5 301.6 1651.5 306.6 1652.4 308.3 1653.4 308.7 1655.4 306.7 1657.4 304.6 1658.4 300.6 1659.6ZM209.6 1729.7 206.6 1729.9 205.6 1729.4 204.4 1727.4 204.7 1725.4 205.9 1723.4 209.4 1721.4 211 1721.4 212.6 1722.2 213.6 1724.4 212.6 1727.4Z"/><path fill-rule="evenodd" fill="#ff1e00" d="M297.6 1658.4 291.6 1658.6 287.5 1657.4 287 1656.4 287.7 1655.4 289.7 1654.4 294.5 1653.4 300.6 1653.3 303.7 1654.4 304 1655.4 303.3 1656.4ZM209.6 1728.7 207.6 1729 206.2 1728.4 205.5 1727.4 206.2 1724.4 208.6 1722.6 210.7 1722.4 212.1 1723.4 212.5 1724.4 211.6 1727.2Z"/><path fill-rule="evenodd" fill="#ff0a00" d="M208.6 1727.6 207.5 1727.4 207.2 1725.4 208 1724.4 209.6 1723.8 210.8 1724.4 211 1725.4 210.6 1726.4Z"/></g>
<rect x="133.6" y="1617.4" width="278" height="279.8" fill="none" stroke="#555" stroke-width="1.3"/><path d="M150.2 1897.2v6.5M195.7 1897.2v6.5M241.2 1897.2v6.5M316.8 1897.2v6.5M383.1 1897.2v6.5" stroke="#111" stroke-width="2"/><path d="M154.8 1897.2v3.5M159.3 1897.2v3.5M163.8 1897.2v3.5M168.4 1897.2v3.5M172.9 1897.2v3.5M177.5 1897.2v3.5M182.1 1897.2v3.5M186.6 1897.2v3.5M191.2 1897.2v3.5M200.2 1897.2v3.5M204.8 1897.2v3.5M209.3 1897.2v3.5M213.9 1897.2v3.5M218.4 1897.2v3.5M223 1897.2v3.5M227.6 1897.2v3.5M232.1 1897.2v3.5M236.7 1897.2v3.5M264 1897.2v3.5M277.3 1897.2v3.5M286.7 1897.2v3.5M294 1897.2v3.5M300 1897.2v3.5M305.1 1897.2v3.5M309.5 1897.2v3.5M313.3 1897.2v3.5M336.8 1897.2v3.5M348.4 1897.2v3.5M356.7 1897.2v3.5M363.1 1897.2v3.5M368.4 1897.2v3.5M372.8 1897.2v3.5M376.7 1897.2v3.5M380.1 1897.2v3.5M401.2 1897.2v3.5M191.3 1897.2v5M191.9 1897.2v5M192.4 1897.2v5M193 1897.2v5M193.5 1897.2v5M194.1 1897.2v5M194.6 1897.2v5M195.2 1897.2v5M195.7 1897.2v5M196.2 1897.2v5M196.8 1897.2v5M197.3 1897.2v5M197.9 1897.2v5M198.4 1897.2v5M199 1897.2v5M199.5 1897.2v5M200.1 1897.2v5" stroke="#222" stroke-width="1.1"/><path d="M133.6 1882.1h-6.5M133.6 1840.5h-6.5M133.6 1798.9h-6.5M133.6 1729.6h-6.5M133.6 1670h-6.5" stroke="#111" stroke-width="2"/><path d="M133.6 1877.9h-3.5M133.6 1873.8h-3.5M133.6 1869.6h-3.5M133.6 1865.5h-3.5M133.6 1861.3h-3.5M133.6 1857.1h-3.5M133.6 1853h-3.5M133.6 1848.8h-3.5M133.6 1844.7h-3.5M133.6 1836.3h-3.5M133.6 1832.2h-3.5M133.6 1828h-3.5M133.6 1823.9h-3.5M133.6 1819.7h-3.5M133.6 1815.5h-3.5M133.6 1811.4h-3.5M133.6 1807.2h-3.5M133.6 1803.1h-3.5M133.6 1778h-3.5M133.6 1765.8h-3.5M133.6 1757.2h-3.5M133.6 1750.5h-3.5M133.6 1745h-3.5M133.6 1740.3h-3.5M133.6 1736.3h-3.5M133.6 1732.8h-3.5M133.6 1711.7h-3.5M133.6 1701.2h-3.5M133.6 1693.7h-3.5M133.6 1687.9h-3.5M133.6 1683.2h-3.5M133.6 1679.2h-3.5M133.6 1675.8h-3.5M133.6 1672.7h-3.5M133.6 1652.8h-3.5M133.6 1652.8h-3.5M133.6 1642.8h-3.5M133.6 1635.7h-3.5M133.6 1844.5h-5M133.6 1844h-5M133.6 1843.5h-5M133.6 1843h-5M133.6 1842.5h-5M133.6 1842h-5M133.6 1841.5h-5M133.6 1841h-5M133.6 1840.5h-5M133.6 1840h-5M133.6 1839.5h-5M133.6 1839h-5M133.6 1838.5h-5M133.6 1838h-5M133.6 1837.5h-5M133.6 1837h-5M133.6 1836.5h-5" stroke="#222" stroke-width="1.1"/><text x="151.7" y="1928.4" font-size="11.6" text-anchor="middle">-10<tspan dy="-6" font-size="8">3</tspan></text><text x="195.7" y="1927.8" font-size="11.6" text-anchor="middle">0</text><text x="242.7" y="1928.4" font-size="11.6" text-anchor="middle">10<tspan dy="-6" font-size="8">3</tspan></text><text x="318.3" y="1928.4" font-size="11.6" text-anchor="middle">10<tspan dy="-6" font-size="8">4</tspan></text><text x="384.6" y="1928.4" font-size="11.6" text-anchor="middle">10<tspan dy="-6" font-size="8">5</tspan></text><text x="116.8" y="1890.1" font-size="11.6" text-anchor="end">-10<tspan dy="-5" font-size="8">3</tspan></text><text x="116.6" y="1845" font-size="11.6" text-anchor="end">0</text><text x="116.8" y="1806.9" font-size="11.6" text-anchor="end">10<tspan dy="-5" font-size="8">3</tspan></text><text x="116.8" y="1737.6" font-size="11.6" text-anchor="end">10<tspan dy="-5" font-size="8">4</tspan></text><text x="116.8" y="1678" font-size="11.6" text-anchor="end">10<tspan dy="-5" font-size="8">5</tspan></text><rect x="244" y="1636" width="114.8" height="79.1" fill="none" stroke="#222" stroke-width="1.6"/><text x="310.1" y="1796.7" font-size="28.3">49.2</text><text x="270.7" y="1605.7" font-size="28.6" text-anchor="middle">393P</text>
<g><path fill-rule="evenodd" fill="#000fff" d="M555 1767.5 550 1768.1 545 1767.3 539 1764.6 533.5 1760.4 529 1755.5 523 1747.2 520 1741.4 517 1732.4 516 1725.4 516.1 1718.4 517 1712.4 521.1 1697.4 518.7 1683.4 520.2 1655.4 521 1651 523.3 1647.4 526.2 1645.4 532.3 1643.4 547 1641.7 606 1641.1 681 1634.9 689 1635.4 695 1637.4 697.9 1639.4 699.6 1641.4 701 1644.4 701.4 1647.4 700.5 1652.4 697.9 1658.4 697.5 1681.4 696.8 1684.4 694.7 1687.4 691.8 1689.4 685 1691.5 679 1692.5 651 1694.7 620 1701.4 607.2 1703.4 593 1703.7 586 1702.5 580 1700.7 576 1700.9 573 1703.5 570.6 1708.4 569.9 1716.4 570.1 1719.4 571 1720.4 574 1721 585.6 1716.4 590 1715.7 593 1715.8 596 1716.7 598.1 1718.4 599.2 1721.4 598.9 1724.4 596.2 1729.4 591 1734.3 585.5 1737.4 577 1740.6 574.4 1742.4 572.3 1745.4 569.1 1754.4 566 1759.7 561 1764.7Z"/><path fill-rule="evenodd" fill="#002dff" d="M553 1764.5 548 1764.6 543 1763.3 538 1760.6 533 1756.3 529 1751.4 525.5 1745.4 522.5 1738.4 520.2 1729.4 519.8 1723.4 520.2 1716.4 524.2 1697.4 522.8 1687.4 523.1 1680.4 528.9 1653.4 530.3 1650.4 532 1648.7 538 1646 548.6 1644.4 564 1643.8 595 1643.6 669 1637.1 682 1637 688 1637.7 693 1639.6 695.3 1641.4 697 1643.6 698.3 1647.4 697.8 1652.4 695.3 1657.4 690 1664.4 689 1681.4 687 1685.1 683.8 1687.4 677.2 1689.4 656 1692.2 623 1699 610 1700.9 601 1701.4 594 1700.9 589 1699.8 581 1696.6 578 1695.9 574.3 1696.4 571.1 1698.4 568.8 1702.4 567.3 1710.4 567 1718.4 569 1722.7 571 1724.1 573 1724.2 584 1719.1 588 1718.2 591 1718.2 593 1718.7 595.2 1720.4 596 1722.4 595.7 1725.4 593.3 1729.4 588.7 1733.4 584 1735.8 576 1738.2 573 1739.8 570.9 1742.4 566.4 1753.4 563.2 1758.4 558 1762.7Z"/><path fill-rule="evenodd" fill="#0052ff" d="M554 1761.5 549 1762.1 544 1761.2 539 1758.6 534 1754.5 529.9 1749.4 526.5 1743.4 523.6 1735.4 522.2 1728.4 521.8 1722.4 522.3 1716.4 523.4 1711.4 525.4 1706.4 527.1 1697.4 525.7 1686.4 526.6 1679.4 528.8 1672.4 532 1665.1 537.8 1654.4 540.4 1651.4 546 1648.8 554 1647.4 591 1646.6 597 1644.7 604 1643.5 664 1638.3 679 1638.5 686 1639.3 691.4 1641.4 693.7 1643.4 695 1645.4 696 1650.4 694.3 1655.4 690 1661.4 682.1 1668.4 681.8 1674.4 680 1680.4 677.7 1683.4 673 1686.1 665.3 1688.4 641 1693.9 626 1696.8 614 1698.5 604 1699 596 1698.3 590 1696.9 578 1692.6 574 1693.2 567.7 1696.4 565.7 1698.4 564.9 1700.4 564.4 1716.4 566.9 1723.4 569 1726.6 571 1727.7 573 1727.5 581.5 1722.4 587 1720.7 591.1 1721.4 592.6 1723.4 592.6 1725.4 590.3 1729.4 586.3 1732.4 581.2 1734.4 574 1735.7 572 1736.9 569 1741.2 565.5 1750.4 563 1754.8 559 1759Z"/><path fill-rule="evenodd" fill="#007fff" d="M553 1759.5 549 1759.9 544 1759 539 1756.4 534.4 1752.4 530.5 1747.4 527.3 1741.4 525.1 1735.4 523.7 1728.4 523.4 1721.4 524.2 1715.4 525.7 1710.4 528.8 1704.4 530.2 1697.4 528.8 1689.4 529 1682.2 531 1675.7 533 1671.3 536.8 1665.4 540.5 1661.4 547 1656.9 553 1655 559 1654.6 571 1655.3 584 1654.3 593.5 1647.4 598 1645.6 603 1644.6 660 1639.3 669 1639.2 680 1640 686.9 1641.4 691 1643.8 693.5 1647.4 694 1649.4 693.7 1652.4 691.2 1657.4 687.1 1662.4 682 1666.9 675.3 1671.4 675 1675.2 672.4 1680.4 669.1 1683.4 665.5 1685.4 657.6 1688.4 655 1688.8 654.4 1689.4 648 1690.6 646.6 1691.4 643 1691.8 642 1692.5 633 1693.7 631.8 1694.4 627 1694.7 625.1 1695.4 612 1696.5 602.2 1696.4 591 1694.5 585.8 1692.4 580 1688.6 578 1688 575 1688.9 561 1696.7 559.7 1698.4 559.6 1699.4 561.1 1704.4 561.8 1715.4 568.8 1731.4 569.1 1734.4 565.1 1746.4 562.2 1752.4 558 1757ZM584 1729.6 581 1730.4 579.3 1729.4 580.3 1727.4 583 1725.6 586 1725.3 586.8 1726.4 585.8 1728.4Z"/><path fill-rule="evenodd" fill="#00b2ff" d="M597 1681.6 592 1681.7 586.9 1679.4 584.8 1677.4 582.9 1674.4 581.4 1668.4 582.1 1662.4 584.5 1657.4 589.1 1652.4 595 1648.1 599.3 1646.4 606 1645.1 655 1640.5 666 1640 678 1641.1 684.7 1642.4 688.7 1644.4 691.3 1647.4 692.1 1651.4 690.7 1655.4 686.3 1661.4 680.8 1666.4 674.6 1670.4 667 1673.1 658 1674.4 633 1673 619 1673.8 610 1676.1ZM552 1757.6 548 1757.9 544 1757 540 1755 536 1751.8 533 1748.4 529.8 1743.4 527.6 1738.4 525.8 1732.4 524.9 1726.4 524.9 1721.4 525.5 1716.4 527.1 1711.4 529.3 1707.4 532 1704.3 535 1702.3 539 1701 543 1701 547 1702.2 551 1704.5 555.3 1708.4 558.4 1712.4 561.2 1717.4 566.1 1731.4 566.5 1734.4 565.9 1738.4 564.2 1744.4 562 1749.4 558 1754.5 555 1756.5Z"/><path fill-rule="evenodd" fill="#00eaff" d="M598 1679.6 593 1679.9 588 1677.8 584.5 1673.4 583.2 1667.4 584 1662.4 586.7 1657.4 592 1652 597.3 1648.4 602 1646.8 609 1645.7 656 1641.1 666 1640.8 677 1642.2 683 1643.4 687 1645.3 689.9 1648.4 690.5 1651.4 689.1 1655.4 684.6 1661.4 679 1666.5 673 1670.3 666 1672.6 658 1673.7 651 1673.6 633 1672.2 620 1672.8 612 1674.6ZM552 1755.6 548 1756 544 1755.1 540 1753.1 537 1750.7 531.3 1743.4 528.9 1738.4 527.3 1733.4 526.3 1727.4 526.2 1722.4 526.8 1717.4 528 1713.4 529.9 1709.4 532.4 1706.4 535 1704.4 539 1703 543 1702.9 547 1704.1 551 1706.4 554 1709.1 557 1712.8 559.7 1717.4 563.9 1729.4 564.6 1733.4 564.4 1737.4 561.7 1746.4 557.6 1752.4 555 1754.4Z"/><path fill-rule="evenodd" fill="#00f7cb" d="M600 1677.6 594 1678.2 590 1676.7 586.8 1673.4 585.2 1668.4 585.7 1663.4 588.2 1658.4 593 1653.2 598.4 1649.4 604 1647.5 611 1646.4 654 1642 665 1641.6 675 1642.9 681 1644.2 685 1645.9 687.9 1648.4 688.9 1651.4 687.4 1655.4 683 1661.4 677.6 1666.4 672 1669.9 665 1672.1 657 1673 633 1671.3 621 1671.7 614 1673.1ZM552 1753.7 549 1754.2 545 1753.7 538.9 1750.4 535.8 1747.4 533 1743.6 530.7 1739.4 528.9 1734.4 527.5 1724.4 527.9 1719.4 528.8 1715.4 530.6 1711.4 532.9 1708.4 535 1706.6 538 1705.1 541 1704.6 545 1705.1 549 1706.9 552 1709.2 555 1712.4 557.7 1716.4 561.4 1725.4 563 1734.4 561.6 1742.4 560 1746.3 558 1749.4 555 1752.2Z"/><path fill-rule="evenodd" fill="#00fe92" d="M599 1676.4 594 1676.2 590.6 1674.4 588.1 1670.4 587.6 1666.4 588.9 1661.4 591.4 1657.4 596 1652.8 601 1649.8 607 1648.2 625 1645.6 655 1642.7 666 1642.5 676 1644.1 681 1645.5 684.8 1647.4 686.7 1649.4 687.2 1652.4 685.2 1656.4 680.5 1662.4 676.1 1666.4 671 1669.5 664 1671.6 656 1672.4 632 1670.3 621 1670.5 615 1671.7 604 1675.3ZM552 1751.6 549 1752.3 546 1752.1 542 1750.6 539 1748.5 533.8 1742.4 530.3 1734.4 528.8 1725.4 529.8 1717.4 531 1714.1 533 1710.9 535 1708.9 538 1707.2 541 1706.5 544 1706.7 548 1708.2 551 1710.3 556.2 1716.4 559.8 1724.4 561.5 1733.4 560.7 1740.4 559.2 1744.4 557 1747.9 555 1749.9Z"/><path fill-rule="evenodd" fill="#00ff4d" d="M603 1674.4 598 1674.9 594 1673.7 591.7 1671.4 590.5 1667.4 591.2 1662.4 593.3 1658.4 597 1654.4 602 1651.3 619.4 1647.4 639 1644.7 661 1643.1 668 1643.5 674 1644.6 679 1646 683 1647.7 685 1649.6 685.6 1652.4 683.5 1656.4 678 1663.4 673.2 1667.4 669.2 1669.4 662 1671.3 654 1671.7 631 1668.9 622 1668.8 616 1669.9ZM552 1749.5 547 1750.3 544 1749.6 541 1748 536 1743.1 532 1735.4 530.3 1727.4 530.8 1719.4 533.4 1713.4 535 1711.4 538 1709.3 543 1708.5 546 1709.2 549 1710.8 554 1715.7 558 1723.4 559.9 1732.4 559.3 1739.4 556.7 1745.4 555 1747.4Z"/><path fill-rule="evenodd" fill="#00ff07" d="M605 1672.5 600 1673.2 596.9 1672.4 594.9 1670.4 593.9 1666.4 594.2 1662.4 596 1658.8 599 1655.8 603 1653.5 624.8 1647.4 640 1645.2 662 1643.8 668 1644.3 676 1646 680 1647.4 683 1649.4 684 1651.4 683.7 1653.4 678.9 1660.4 675.4 1664.4 671.5 1667.4 668 1669 661 1670.7 652 1670.9 644 1669.9 629 1666.7 621 1665.8 617 1666.6 610.1 1670.4ZM551 1747.5 549 1748.1 546 1748 541 1745.8 536.1 1740.4 533.2 1734.4 531.8 1727.4 532.3 1720.4 535 1714.4 539 1711.3 541 1710.7 544 1710.8 549 1713 553.9 1718.4 557 1725 558.3 1732.4 557.8 1738.4 555 1744.4Z"/><path fill-rule="evenodd" fill="#48ff00" d="M664 1669.4 654 1670.3 648 1669.7 642.2 1668.4 632.8 1664.4 619.6 1655.4 618.1 1653.4 618.1 1652.4 620 1650.4 627 1647.9 638 1646 655 1644.6 665 1644.6 675 1646.5 681.2 1649.4 682.4 1651.4 682.1 1653.4 675.6 1662.4 671 1666.5ZM604 1670.6 601 1670.7 599 1669.7 597.7 1667.4 597.5 1664.4 598.3 1661.4 599.8 1659.4 602 1657.8 605 1657 607.9 1657.4 609.8 1658.4 611.3 1660.4 611.6 1662.4 610.8 1665.4 609.4 1667.4 607 1669.4ZM548 1745.5 545.9 1745.4 543.1 1744.4 539.3 1741.4 536 1736.5 534 1730.4 533.7 1724.4 535 1718.9 538 1714.9 542 1713.3 544.1 1713.4 546.9 1714.4 550.7 1717.4 554 1722.3 556 1728.4 556.4 1734.4 555 1739.9 552 1743.9Z"/><path fill-rule="evenodd" fill="#98ff00" d="M656 1669.4 647.1 1668.4 641.5 1666.4 637.7 1663.4 635 1659 625 1654.7 622.6 1652.4 623.8 1650.4 628.4 1648.4 636 1646.9 648 1645.6 660 1645 669 1645.7 677.8 1648.4 679.4 1649.4 680.8 1651.4 679.8 1654.4 673.6 1662.4 670.5 1665.4 664.1 1668.4Z"/><path fill-rule="evenodd" fill="#d5ff00" d="M654 1665.5 647 1666.4 645 1665.7 642.2 1663.4 640.5 1659.4 639.5 1658.4 629 1654.6 626 1652.4 626 1651.4 626.8 1650.4 631.6 1648.4 639 1647 651 1645.8 661 1645.5 669 1646.3 675.8 1648.4 678 1649.8 679.2 1651.4 679.2 1652.4 678 1654.4 674 1657.8 669.2 1659.4 660 1663.8Z"/><path fill-rule="evenodd" fill="#fff300" d="M655 1659.5 646 1660.4 641.4 1657.4 632 1654.4 628.9 1652.4 628.7 1651.4 629.5 1650.4 634.5 1648.4 651 1646.3 661 1646 668 1646.7 674 1648.4 676 1649.5 677.6 1651.4 677 1653.4 674 1655.8Z"/><path fill-rule="evenodd" fill="#ffcc00" d="M659 1657.4 647 1658.1 635.1 1654.4 631.5 1652.4 631.2 1651.4 632 1650.4 633.9 1649.4 639 1648.1 648 1646.9 658 1646.4 665 1646.8 672 1648.4 675.4 1650.4 675.9 1652.4 674 1654.4 668 1656.1Z"/><path fill-rule="evenodd" fill="#ffa400" d="M660 1656.5 647 1657 637.9 1654.4 633.9 1652.4 633.6 1651.4 634.4 1650.4 636.5 1649.4 648 1647.4 657 1646.8 664 1647.2 670 1648.4 673.8 1650.4 674.2 1652.4 673 1653.5 668 1655.1Z"/><path fill-rule="evenodd" fill="#ff7300" d="M662 1655.5 648 1656.3 638 1653.4 636.4 1652.4 636 1651.4 636.8 1650.4 640 1649.2 647 1648 661 1647.4 667 1648.2 670.5 1649.4 672.6 1651.4 672.1 1652.4 668 1654.2Z"/><path fill-rule="evenodd" fill="#ff4100" d="M656 1655.5 649 1655.6 646 1655.1 640.5 1653.4 638.8 1652.4 638.4 1651.4 639.4 1650.4 642.1 1649.4 653 1647.9 659 1647.8 664.8 1648.4 668.2 1649.4 669.8 1650.4 670.3 1651.4 669.5 1652.4 666 1653.9Z"/><path fill-rule="evenodd" fill="#ff1e00" d="M660 1654.4 649 1655 643 1653.4 641.3 1652.4 640.9 1651.4 642.1 1650.4 649 1648.8 659 1648.3 666 1649.7 667.3 1650.4 667.8 1651.4 667 1652.4Z"/><path fill-rule="evenodd" fill="#ff0a00" d="M652 1654.4 649 1654.3 645.6 1653.4 643.9 1652.4 643.7 1651.4 645.1 1650.4 648.8 1649.4 657 1648.8 662 1649.4 664.5 1650.4 665.1 1651.4 664.1 1652.4 661.3 1653.4Z"/></g>
<rect x="474" y="1617.4" width="278" height="279.8" fill="none" stroke="#555" stroke-width="1.3"/><path d="M490.6 1897.2v6.5M536.1 1897.2v6.5M581.6 1897.2v6.5M657.2 1897.2v6.5M723.5 1897.2v6.5" stroke="#111" stroke-width="2"/><path d="M495.1 1897.2v3.5M499.7 1897.2v3.5M504.2 1897.2v3.5M508.8 1897.2v3.5M513.4 1897.2v3.5M517.9 1897.2v3.5M522.5 1897.2v3.5M527 1897.2v3.5M531.5 1897.2v3.5M540.6 1897.2v3.5M545.2 1897.2v3.5M549.8 1897.2v3.5M554.3 1897.2v3.5M558.9 1897.2v3.5M563.4 1897.2v3.5M568 1897.2v3.5M572.5 1897.2v3.5M577 1897.2v3.5M604.4 1897.2v3.5M617.7 1897.2v3.5M627.1 1897.2v3.5M634.4 1897.2v3.5M640.4 1897.2v3.5M645.5 1897.2v3.5M649.9 1897.2v3.5M653.7 1897.2v3.5M677.2 1897.2v3.5M688.8 1897.2v3.5M697.1 1897.2v3.5M703.5 1897.2v3.5M708.8 1897.2v3.5M713.2 1897.2v3.5M717.1 1897.2v3.5M720.5 1897.2v3.5M741.6 1897.2v3.5M531.7 1897.2v5M532.3 1897.2v5M532.8 1897.2v5M533.4 1897.2v5M533.9 1897.2v5M534.5 1897.2v5M535 1897.2v5M535.6 1897.2v5M536.1 1897.2v5M536.6 1897.2v5M537.2 1897.2v5M537.7 1897.2v5M538.3 1897.2v5M538.8 1897.2v5M539.4 1897.2v5M539.9 1897.2v5M540.5 1897.2v5" stroke="#222" stroke-width="1.1"/><path d="M474 1882.1h-6.5M474 1840.5h-6.5M474 1798.9h-6.5M474 1729.6h-6.5M474 1670h-6.5" stroke="#111" stroke-width="2"/><path d="M474 1877.9h-3.5M474 1873.8h-3.5M474 1869.6h-3.5M474 1865.5h-3.5M474 1861.3h-3.5M474 1857.1h-3.5M474 1853h-3.5M474 1848.8h-3.5M474 1844.7h-3.5M474 1836.3h-3.5M474 1832.2h-3.5M474 1828h-3.5M474 1823.9h-3.5M474 1819.7h-3.5M474 1815.5h-3.5M474 1811.4h-3.5M474 1807.2h-3.5M474 1803.1h-3.5M474 1778h-3.5M474 1765.8h-3.5M474 1757.2h-3.5M474 1750.5h-3.5M474 1745h-3.5M474 1740.3h-3.5M474 1736.3h-3.5M474 1732.8h-3.5M474 1711.7h-3.5M474 1701.2h-3.5M474 1693.7h-3.5M474 1687.9h-3.5M474 1683.2h-3.5M474 1679.2h-3.5M474 1675.8h-3.5M474 1672.7h-3.5M474 1652.8h-3.5M474 1652.8h-3.5M474 1642.8h-3.5M474 1635.7h-3.5M474 1844.5h-5M474 1844h-5M474 1843.5h-5M474 1843h-5M474 1842.5h-5M474 1842h-5M474 1841.5h-5M474 1841h-5M474 1840.5h-5M474 1840h-5M474 1839.5h-5M474 1839h-5M474 1838.5h-5M474 1838h-5M474 1837.5h-5M474 1837h-5M474 1836.5h-5" stroke="#222" stroke-width="1.1"/><text x="492.1" y="1928.4" font-size="11.6" text-anchor="middle">-10<tspan dy="-6" font-size="8">3</tspan></text><text x="536.1" y="1927.8" font-size="11.6" text-anchor="middle">0</text><text x="583.1" y="1928.4" font-size="11.6" text-anchor="middle">10<tspan dy="-6" font-size="8">3</tspan></text><text x="658.7" y="1928.4" font-size="11.6" text-anchor="middle">10<tspan dy="-6" font-size="8">4</tspan></text><text x="725" y="1928.4" font-size="11.6" text-anchor="middle">10<tspan dy="-6" font-size="8">5</tspan></text><text x="457.2" y="1890.1" font-size="11.6" text-anchor="end">-10<tspan dy="-5" font-size="8">3</tspan></text><text x="457" y="1845" font-size="11.6" text-anchor="end">0</text><text x="457.2" y="1806.9" font-size="11.6" text-anchor="end">10<tspan dy="-5" font-size="8">3</tspan></text><text x="457.2" y="1737.6" font-size="11.6" text-anchor="end">10<tspan dy="-5" font-size="8">4</tspan></text><text x="457.2" y="1678" font-size="11.6" text-anchor="end">10<tspan dy="-5" font-size="8">5</tspan></text><rect x="584.4" y="1636" width="114.8" height="79.1" fill="none" stroke="#222" stroke-width="1.6"/><text x="646.5" y="1796.7" font-size="28.3">70.4</text><text x="614.7" y="1605.7" font-size="28.6" text-anchor="middle">344SQ</text>
<g><path fill-rule="evenodd" fill="#000fff" d="M878 1788.5 875 1788.5 872 1787.4 869.6 1785.4 868 1782.9 866.8 1778.4 866.6 1767.4 865.8 1765.4 858.9 1755.4 857 1751.3 855 1744.4 854.2 1735.4 854.9 1725.4 849 1724.6 846.9 1723.4 845.7 1721.4 846.4 1718.4 849 1716.6 852 1716.4 856 1717.7 857 1717.7 857.8 1716.4 861.5 1704.4 862.2 1691.4 863.8 1684.4 867.2 1678.4 873.7 1671.4 873 1670.4 870.5 1669.4 858.8 1666.4 856.5 1665.4 854.1 1663.4 853 1659.4 853 1649.4 853.4 1645.4 854.4 1643.4 857.1 1641.4 860 1640.4 870 1638.4 876 1637.9 928 1638.2 1006 1635.9 1021 1636.1 1027 1637 1031.4 1638.4 1034.9 1640.4 1036.6 1642.4 1037.7 1646.4 1037.9 1656.4 1037.2 1660.4 1036 1662.5 1031.6 1665.4 1024 1667.2 1012 1668.2 988 1669.1 982 1670 979 1671.2 973.5 1678.4 967.9 1683.4 960 1688.5 946.5 1695.4 946 1697.4 951.2 1703.4 952.4 1707.4 952 1709.7 950.3 1712.4 947.9 1714.4 945 1715.8 940.9 1716.4 943.6 1709.4 943.6 1705.4 942 1701.5 939 1698.8 936 1698.7 934 1699.7 931.7 1702.4 930.4 1706.4 930.7 1710.4 933.1 1716.4 927 1716.4 925.4 1717.4 925.4 1718.4 929 1725.4 930 1729.4 930 1734.4 929.2 1738.4 928 1740.9 926 1743.4 921 1745.7 919 1747.8 912.6 1759.4 911.1 1767.4 909.9 1770.4 908 1772.4 906 1773.1 904 1772.8 899 1770.4 895 1771.8 891.7 1774.4 885 1784.5 881.2 1787.4ZM928.6 1679.4 934 1677.9 938 1675.9 941.6 1672.4 941.9 1671.4 941.5 1670.4 928 1665.1 920 1663.1 905 1663 898 1664.7 893.4 1667.4 892.1 1669.4 892.2 1670.4 894.2 1672.4 902 1676 909 1677.9 922 1679.9Z"/><path fill-rule="evenodd" fill="#002dff" d="M878 1786.5 875 1786.5 873 1785.7 871 1784.1 869.3 1781.4 868.3 1776.4 868.8 1768.4 868.4 1765.4 861.5 1755.4 858.7 1749.4 856.8 1741.4 856.4 1733.4 858.3 1721.4 865 1703.4 867.2 1690.4 868.6 1685.4 870.8 1681.4 874 1677.7 882.9 1671.4 882.7 1670.4 880.1 1669.4 867.2 1666.4 864 1665.3 861.2 1663.4 859.8 1660.4 858.8 1651.4 859.2 1646.4 860.8 1643.4 864 1641.4 866.9 1640.4 876 1638.9 893 1639.5 910 1638.8 925 1639.3 1003 1636.6 1015 1636.5 1022 1637.1 1027.7 1638.4 1031.5 1640.4 1033.7 1643.4 1034.4 1647.4 1034.5 1657.4 1032.8 1661.4 1029 1664 1021 1666.1 1011 1667.2 985.4 1668.4 979.1 1669.4 976.2 1670.4 974.9 1671.4 970.3 1678.4 963.2 1684.4 955 1689 942.2 1694.4 940.8 1695.4 939.6 1697.4 936 1697.8 934 1698.9 931.8 1701.4 930.5 1704.4 930.1 1708.4 930.5 1713.4 929 1713.7 923 1711.9 921 1712.8 920.2 1714.4 919.9 1717.4 920.6 1719.4 925 1722.3 927.9 1726.4 928.8 1730.4 928.7 1735.4 927.7 1738.4 926 1740.9 924 1742.2 920 1743 918 1744.6 911.3 1757.4 910.6 1765.4 909.2 1769.4 908 1770.8 906 1771.7 904 1771.3 899 1767.9 894 1769.6 890.6 1772.4 886.2 1780.4 884 1783.2 881 1785.5ZM928.6 1680.4 934 1678.6 939 1676 943.2 1672.4 943.8 1671.4 943.6 1670.4 928 1664.8 921 1663 913 1662.5 904 1662.9 899 1663.9 893.6 1666.4 890 1669.4 889.6 1670.4 890.5 1671.4 898 1675 908 1678.1 923 1680.9ZM945 1713.4 943.6 1713.4 943.9 1705.4 942.7 1700.4 943 1699.8 945.8 1701.4 948.6 1704.4 949.4 1707.4 948.5 1710.4ZM851 1724.4 847.8 1723.4 846.8 1722.4 846.2 1720.4 846.4 1719.4 848 1717.7 850 1716.9 852 1716.9 855.2 1718.4 856.5 1720.4 856.6 1721.4 854 1723.9Z"/><path fill-rule="evenodd" fill="#0052ff" d="M879 1784.6 876 1784.9 874 1784.3 872 1782.7 870.5 1780.4 869.7 1776.4 870.5 1767.4 870.2 1764.4 864 1755.8 861.5 1751.4 859.1 1744.4 858.2 1737.4 858.4 1730.4 859.7 1723.4 868 1702.4 871.4 1689.4 873.7 1684.4 876.8 1680.4 880.5 1677.4 886 1674.7 890 1673.9 893.5 1674.4 905 1678 917 1680.7 924 1683.4 926 1683.6 928 1683 939 1677.1 945.5 1672.4 946.6 1671.4 946.7 1670.4 925 1663.6 917 1662.3 909 1662.2 901 1663 897 1664 890 1667.4 887 1668.1 881 1667.5 872 1665.6 867.4 1663.4 864.6 1659.4 862.4 1652.4 862.9 1646.4 864 1644.4 866.3 1642.4 870 1640.9 875 1640 881 1639.9 894 1640.8 908 1639.8 923 1640.4 941 1639.3 1006 1637 1016 1637.2 1023 1638 1029 1640.4 1031.3 1643.4 1032.2 1654.4 1031.4 1659.4 1029.9 1661.4 1028 1662.7 1020 1665.2 1011 1666.3 985 1667.8 974.9 1669.4 971.3 1671.4 969.7 1675.4 966.6 1679.4 958.4 1685.4 949 1689.7 932.9 1694.4 928.1 1696.4 925.6 1699.4 926 1700.4 930 1699.6 930.8 1700.4 929 1710.5 928 1710.2 925.9 1708.4 923 1702.7 921 1704 919 1706.7 917.7 1710.4 917.2 1714.4 917.7 1719.4 918.9 1722.4 920 1723.1 924 1724 926 1725.9 927 1727.8 927.8 1732.4 926.7 1737.4 924 1740.2 919 1740.2 917 1741.9 913.8 1749.4 909.9 1756.4 909.7 1765.4 908 1769.3 906 1770.4 904 1770 900 1766 899 1765.7 893 1767.9 890.8 1769.4 889.1 1771.4 884 1781 882 1783ZM945 1709.4 944.9 1705.4 945 1705 945.5 1705.4 946.3 1707.4 946 1708.8ZM853 1723.7 851 1724 849 1723.6 846.8 1721.4 847 1719.4 848 1718.2 849.8 1717.4 853 1717.7 855.1 1719.4 855.4 1721.4Z"/><path fill-rule="evenodd" fill="#007fff" d="M936 1690.4 930.6 1689.4 929.7 1688.4 929.8 1687.4 931 1685.4 936.2 1680.4 950.5 1671.4 951 1670.4 948.8 1669.4 937 1667.2 924 1662.9 918 1661.9 907 1661.9 900 1662.6 888 1666.2 880 1665.4 874 1663.6 870 1661.1 866.3 1656.4 864.7 1651.4 865.2 1647.4 866.9 1644.4 869.9 1642.4 874 1641.2 881 1640.9 894 1642.5 908 1640.7 922 1641.6 934 1640.5 955 1639.2 996 1637.7 1018 1637.9 1024 1639.1 1028 1641.4 1029.6 1644.4 1030.1 1651.4 1029.7 1658.4 1028 1660.9 1025 1662.7 1015 1665.1 982.3 1667.4 970.8 1669.4 968.2 1670.4 967.3 1671.4 966.7 1675.4 964.7 1678.4 958 1683.8 953 1686.4 947 1688.6 941 1690ZM880 1782.5 877 1783.3 875 1782.8 873 1781.4 872 1779.9 871 1775.4 872.2 1766.4 871.8 1763.4 864.4 1753.4 861 1745.4 859.9 1739.4 859.7 1732.4 860.5 1726.4 862.7 1719.4 871.2 1700.4 874.9 1688.4 878 1684 882 1680.8 888 1677.8 894 1676.7 898.9 1677.4 910 1680.7 917.7 1682.4 923 1685.4 925.4 1687.4 926.7 1689.4 925.6 1692.4 923.6 1695.4 916.1 1702.4 915.3 1705.4 915 1709.4 915.5 1717.4 917 1724.6 918.2 1726.4 923 1726.1 925 1727.5 926.3 1731.4 925.8 1735.4 924.5 1737.4 923 1738.2 921 1737.9 918 1736.5 917 1737.1 913 1747.4 908.2 1756.4 908.9 1764.4 908 1767.4 907.2 1768.4 906 1769 904 1768.5 901 1764.6 899 1763.6 892 1766.4 888.4 1769.4 884 1778.8 882 1781.2ZM852 1723.5 849 1723.2 847.3 1721.4 847.5 1719.4 850 1717.7 853 1718.1 854.5 1719.4 854.8 1720.4 854.1 1722.4Z"/><path fill-rule="evenodd" fill="#00b2ff" d="M965 1669.5 959 1670.2 940 1667.5 920 1661.5 899 1661.7 888 1663.5 878 1662 872 1659.3 868.3 1655.4 867.3 1653.4 866.8 1650.4 867.4 1647.4 868.6 1645.4 873 1642.7 878 1642 883.4 1642.4 887.1 1643.4 894 1646.8 900.6 1643.4 906 1642 912 1641.8 921 1643.1 926 1642.6 935 1641 947 1640 1002 1638 1017 1638.4 1022 1639.3 1025 1640.6 1026.9 1642.4 1027.8 1644.4 1028.4 1655.4 1027.3 1659.4 1024 1662 1019 1663.7 1013 1664.7 982 1666.9ZM947 1686.5 942 1687.3 939 1687 937.5 1686.4 936.9 1685.4 937.3 1683.4 939.8 1680.4 943.8 1677.4 949 1674.5 953 1672.9 957 1671.9 960 1671.9 962.4 1673.4 962.9 1674.4 962.6 1676.4 960.4 1679.4 956.6 1682.4 952.9 1684.4ZM880 1780.6 878 1781.3 876 1781.1 874 1779.8 873.2 1778.4 872.5 1774.4 873.9 1766.4 873.7 1763.4 872.1 1760.4 866 1753 862.6 1745.4 861.5 1740.4 861.1 1734.4 861.5 1728.4 862.7 1723.4 866.4 1714.4 873.5 1700.4 876 1690.4 879 1686 884 1683.1 894 1680.7 899 1680.8 907 1683.5 910.2 1683.4 915 1683.2 919 1684.4 922.5 1687.4 923.6 1690.4 922.8 1693.4 921.4 1695.4 919 1697.4 913.5 1700.4 912.6 1702.4 913 1711.4 915.7 1727.4 915.9 1731.4 912.6 1744.4 906.5 1756.4 907.7 1762.4 907.5 1765.4 906 1767.2 905 1767.3 903 1765.4 901 1761.7 900 1761.4 890.1 1765.4 887 1768.4 883.2 1777.4ZM853 1722.7 851 1723.2 848.5 1722.4 847.6 1720.4 849.2 1718.4 852 1718.1 853.9 1719.4 854.2 1721.4ZM922 1734.6 921 1733.8 920.5 1732.4 920.9 1730.4 922 1729.6 923.2 1730.4 923.5 1732.4 923 1734.2Z"/><path fill-rule="evenodd" fill="#00eaff" d="M964 1668.5 957 1668.6 937 1666.4 928.2 1663.4 921 1659.7 911 1660.7 903.4 1660.4 901.1 1659.4 900.3 1658.4 898.5 1653.4 898.9 1649.4 900.4 1646.4 903 1644.4 906 1643.3 913 1643.1 922 1645.4 930 1642.7 936 1641.6 960 1639.8 1001 1638.4 1014 1638.6 1019 1639.3 1022.6 1640.4 1025.2 1642.4 1026.3 1645.4 1026.5 1657.4 1024.6 1660.4 1021 1662.3 1009 1664.5 983 1666.3ZM883 1658.7 880 1659.2 876 1658.7 872 1656.5 870 1654.2 868.9 1650.4 869.7 1647.4 872 1644.9 875 1643.6 879 1643.3 883 1643.9 886.2 1645.4 888 1647.4 888.9 1650.4 888.1 1654.4 886 1657.1ZM950 1681.6 947 1681.9 946.3 1681.4 946.7 1680.4 949.3 1678.4 952 1677.4 953.3 1677.4 954.2 1678.4 952.4 1680.4ZM879 1778.5 877 1778.6 876 1778.1 874.5 1775.4 874.4 1772.4 876 1765.4 875.6 1762.4 867.5 1752.4 863.8 1744.4 862.8 1739.4 862.4 1734.4 862.7 1729.4 863.8 1724.4 868 1714.4 875.2 1701.4 877.1 1691.4 880 1687.2 883 1685.5 887 1684.9 898 1686.7 905 1689.4 907.8 1687.4 912 1684.9 916 1684.7 920 1686.6 921.4 1688.4 921.9 1690.4 921.1 1693.4 919 1695.7 916 1697.1 911 1697.9 909.9 1698.4 909.4 1699.4 909.8 1703.4 914.3 1728.4 913.8 1734.4 911.8 1742.4 909 1748.9 903 1757.9 889 1763.9 886.7 1765.4 885.2 1767.4 882 1775.9ZM852 1722.7 850 1722.7 848.3 1721.4 848.5 1719.4 850.6 1718.4 853 1719.1 853.8 1720.4 853.6 1721.4ZM905 1764 904 1762.4 904.3 1761.4 905 1761 905.8 1762.4Z"/><path fill-rule="evenodd" fill="#00f7cb" d="M968 1667.4 958 1667.9 942 1666.7 934.9 1665.4 929.8 1663.4 926.9 1661.4 926.1 1659.4 925.1 1651.4 925.8 1647.4 927.4 1645.4 930 1643.9 939 1641.7 955 1640.5 983 1639.3 1010 1638.8 1016.4 1639.4 1021 1640.7 1023.4 1642.4 1024.7 1645.4 1025.2 1654.4 1024.5 1658.4 1022.7 1660.4 1020.9 1661.4 1013 1663.5ZM912 1659.4 907.4 1659.4 904.8 1658.4 902.1 1655.4 901.3 1652.4 901.7 1649.4 903.7 1646.4 906 1645.1 910 1644.3 914 1644.9 917 1646.3 919.3 1648.4 920.3 1650.4 919.9 1653.4 917.9 1656.4 915.2 1658.4ZM880 1656.5 877 1656.4 874.4 1655.4 872.3 1653.4 871.5 1651.4 871.6 1649.4 872.5 1647.4 874 1646.1 877 1645.1 880 1645.1 883 1646.2 884.5 1647.4 885.5 1649.4 885.3 1652.4 884.1 1654.4 882 1655.9ZM916 1695.5 912 1695.3 910.6 1694.4 909.3 1692.4 909.3 1690.4 910.1 1688.4 912 1686.7 914 1686 916 1686.1 918 1686.9 920.1 1689.4 920.2 1691.4 919.3 1693.4ZM880 1772.7 879 1773.1 878 1772.6 877.6 1771.4 879.4 1765.4 878.5 1762.4 869.4 1752.4 865.7 1745.4 864 1737.4 864.1 1728.4 865.4 1723.4 867.6 1718.4 877.3 1701.4 877.8 1693.4 879 1690.2 882 1687.5 885 1686.7 889 1687.4 892 1689.4 895 1691.9 902 1695.6 904 1697.6 906 1700.8 908.4 1707.4 912.7 1724.4 913.1 1728.4 912.8 1732.4 909.6 1744.4 907 1749.4 904 1753.4 901 1756.4 897 1758.9 887 1762.6 883.5 1764.4 882 1766.4 881 1771.4ZM851 1722.5 849 1721.6 848.7 1720.4 849.2 1719.4 851 1718.9 852.6 1719.4 853.2 1720.4 853 1721.5Z"/><path fill-rule="evenodd" fill="#00fe92" d="M972 1666.5 962 1667.2 953 1667 941 1666.1 933.8 1664.4 930.2 1662.4 929 1660.4 928.3 1651.4 928.7 1647.4 930.2 1645.4 931.7 1644.4 940 1642.2 954 1640.9 981 1639.7 1008 1639.2 1014 1639.7 1019 1640.8 1021.6 1642.4 1022.8 1644.4 1023.6 1653.4 1023.2 1657.4 1020.7 1660.4 1013 1662.9ZM913 1656.5 910 1657.2 908 1656.9 905.6 1655.4 904.3 1653.4 904 1651.4 905 1648.8 906.4 1647.4 909 1646.4 913 1646.9 916 1649.5 916.5 1651.4 916.1 1653.4 914.6 1655.4ZM879 1652.6 877 1651.8 876.7 1650.4 877 1649.4 879 1648.6 880.6 1649.4 881.1 1650.4 880.9 1651.4ZM886 1760.5 883 1760.6 880 1759.6 874 1755 870 1750.4 867.8 1746.4 866.2 1741.4 865.2 1730.4 866.1 1725.4 868 1720.6 873 1711.6 879 1702.4 879.4 1700.4 878.9 1694.4 879.8 1691.4 881.4 1689.4 884 1688.2 887 1688.4 889 1689.4 894 1695.5 901 1699.4 904.3 1703.4 906.6 1708.4 911 1722.5 912 1729.4 911.2 1734.4 908.7 1742.4 906.4 1747.4 903.6 1751.4 900 1754.9 896 1757.5 892 1759.1ZM916 1693.5 913.3 1693.4 912 1692.1 912.1 1689.4 914 1688 916.7 1688.4 918 1690 917.6 1692.4ZM852 1721.5 849.7 1721.4 849.4 1720.4 850.7 1719.4 852.4 1720.4Z"/><path fill-rule="evenodd" fill="#00ff4d" d="M966 1666.4 956 1666.6 944 1665.9 938 1664.9 933.8 1663.4 931.7 1661.4 931.1 1659.4 930.7 1649.4 931.7 1646.4 935 1644.2 943 1642.3 965 1640.7 986 1640 1008 1639.7 1014.8 1640.4 1018.1 1641.4 1020.6 1643.4 1021.4 1645.4 1021.9 1654.4 1021 1658.4 1017 1661.1 1010 1662.7ZM890 1757.6 886 1758.1 882 1757.6 878 1755.6 874 1752.4 871 1748.6 868.9 1744.4 867.5 1739.4 866.5 1732.4 866.8 1727.4 868.5 1722.4 875 1711.7 881.5 1702.4 880.3 1695.4 880.9 1692.4 883 1690.2 886 1689.8 889 1691.8 892.5 1698.4 899 1701.6 902.7 1705.4 905 1709.9 909.7 1722.4 910.9 1727.4 910.8 1730.4 909.9 1734.4 906.9 1742.4 904 1747.9 901.1 1751.4 898 1754.1 894 1756.3Z"/><path fill-rule="evenodd" fill="#00ff07" d="M972 1665.4 961 1666 951 1665.8 942 1665 936.3 1663.4 934 1661.4 933.4 1659.4 932.9 1650.4 933.4 1647.4 935.2 1645.4 937.2 1644.4 944 1642.9 959.8 1641.4 982 1640.5 1007 1640.2 1016 1641.7 1018.6 1643.4 1019.5 1645.4 1020.1 1654.4 1019.6 1657.4 1017.9 1659.4 1016.2 1660.4 1009 1662.2ZM888 1755.4 884 1755.3 881 1754.4 877 1751.9 874 1749 871.7 1745.4 870.1 1741.4 867.8 1730.4 868.6 1725.4 871 1720.6 879 1709.6 886.6 1701.4 883 1697.8 882.4 1695.4 883 1693.6 884 1692.7 886 1692.3 887.4 1693.4 888.2 1695.4 888 1698.4 887.2 1700.4 888.5 1701.4 896.2 1703.4 899 1705.2 901 1707.5 908.5 1722.4 909.9 1728.4 909.6 1731.4 908 1735.8 904 1743.9 901 1748.4 898 1751.3 895 1753.3 892 1754.6Z"/><path fill-rule="evenodd" fill="#48ff00" d="M962 1665.4 944 1664.5 939.5 1663.4 937.7 1662.4 936.2 1660.4 935.7 1657.4 935.4 1649.4 936.7 1646.4 941 1644.3 953.4 1642.4 971 1641.2 991 1640.8 1008 1641 1011.5 1641.4 1015 1642.6 1016.9 1644.4 1017.6 1647.4 1017.8 1655.4 1016.6 1658.4 1013.2 1660.4 1005 1662ZM891 1751.5 887 1752 884 1751.7 880.6 1750.4 877.8 1748.4 875 1745.1 873 1741.3 870 1734.4 869.1 1730.4 869.8 1725.4 872 1721.3 882.9 1709.4 887.5 1706.4 890 1705.8 893 1706 896 1707.2 898 1708.8 907 1721.8 908.8 1727.4 908.7 1730.4 907.2 1734.4 900 1744.9 896 1749Z"/><path fill-rule="evenodd" fill="#98ff00" d="M964 1664.4 956.9 1664.4 955 1663.4 946 1663.4 945 1662.4 943 1662.4 942 1661.4 941 1661.4 941 1660.4 940 1659.5 939 1650.4 939.9 1647.4 940.9 1646.4 945.7 1644.4 959.6 1642.4 974 1641.5 989 1641.4 1009.1 1642.4 1010 1643.3 1011.4 1643.4 1013 1644.4 1014 1646.4 1014 1656.4 1012.1 1658.4 1011 1659.4 1009 1659.5 1007.6 1660.4 1004 1660.5 1001.9 1661.4 993 1661.7 990 1662.4 980 1662.5 977.5 1663.4 966 1663.5ZM890 1743.5 887 1743.6 883 1742.9 877 1739.9 874 1737.3 872 1734.6 870.4 1729.4 871.5 1724.4 875 1719.8 882 1714.8 888 1712.1 893 1712.1 900 1716.1 905.4 1721.4 907.1 1724.4 907.8 1727.4 906.9 1732.4 903 1737.6 896 1741.9Z"/><path fill-rule="evenodd" fill="#d5ff00" d="M997 1657.6 991 1658.2 970 1657.9 963 1656.9 957 1655 954.2 1653.4 952.3 1651.4 952 1648.4 955 1645.3 958 1643.8 961 1643.1 971 1642 983 1642.1 994 1643.9 1000 1645.8 1004 1648.5 1005.1 1650.4 1005 1652.4 1002.5 1655.4ZM893 1739.5 885 1739.3 879 1737.9 875 1735.5 872.1 1731.4 871.7 1729.4 872 1726.4 874.2 1722.4 877 1719.9 880 1718.1 885.5 1716.4 892 1716.2 898 1717.3 903 1720.5 905 1722.8 906.4 1725.4 906.8 1728.4 906.5 1730.4 904 1734.7 899 1738.1Z"/><path fill-rule="evenodd" fill="#fff300" d="M995 1656.6 990 1657 971 1656.7 965 1655.9 960 1654.4 955.6 1651.4 955.1 1650.4 955.3 1648.4 958.7 1645.4 964 1643.5 972 1642.5 979 1642.7 992 1644.8 998 1646.6 1002 1649.4 1002.5 1650.4 1002.4 1652.4 1000 1654.9ZM896 1737.5 889 1738.1 882 1737.2 877 1735.1 874.2 1732.4 872.9 1728.4 874.2 1724.4 878 1720.6 883 1718.4 889 1717.7 896 1718.2 901 1720.4 904.2 1723.4 905.7 1727.4 905 1731.4 902 1734.9Z"/><path fill-rule="evenodd" fill="#ffcc00" d="M995 1655.5 989 1656.1 972 1655.8 966 1655.1 962 1653.9 958 1651.4 957.3 1649.4 958.4 1647.4 959.7 1646.4 964.8 1644.4 971 1643.5 978 1643.5 989 1645.1 996 1646.9 999.9 1649.4 1000.7 1651.4 999 1653.9ZM895 1736.5 889 1737 883 1736.2 878 1734.1 875.2 1731.4 874.3 1728.4 875.6 1724.4 879 1721.3 884.1 1719.4 891 1718.8 897 1719.7 901 1721.7 903.5 1724.4 904.6 1728.4 903 1732.4 900 1734.8Z"/><path fill-rule="evenodd" fill="#ffa400" d="M995 1654.6 989 1655.4 974 1655.2 965 1653.9 961 1652.1 959.5 1650.4 959.3 1649.4 960.5 1647.4 964.5 1645.4 970 1644.3 976 1644.1 993 1646.8 996.8 1648.4 998.7 1650.4 998.4 1652.4ZM895 1735.5 890 1736 884 1735.3 880 1733.9 876.8 1731.4 875.7 1728.4 875.9 1726.4 877 1724.5 880 1722 884.4 1720.4 890 1719.8 896 1720.5 900 1722.3 902.2 1724.4 903.2 1726.4 903.4 1728.4 902.3 1731.4 899 1734.1Z"/><path fill-rule="evenodd" fill="#ff7300" d="M991 1654.5 973 1654.4 965 1653 962.1 1651.4 961.2 1649.4 963 1647.1 967.7 1645.4 973 1644.8 978 1645 993 1647.7 996.1 1649.4 997 1651.4 995.1 1653.4ZM895 1734.4 890 1735 885 1734.5 881 1733.1 878 1730.7 877.1 1728.4 878 1725.3 881 1722.7 885 1721.3 890 1720.8 895 1721.4 898.1 1722.4 901 1724.8 902.1 1727.4 901.4 1730.4 899 1732.8Z"/><path fill-rule="evenodd" fill="#ff4100" d="M991 1653.6 974 1653.8 967 1652.8 964.1 1651.4 963 1649.4 964.7 1647.4 967.1 1646.4 971 1645.6 976 1645.5 991 1647.9 994 1649.3 994.9 1650.4 994.9 1651.4 994.1 1652.4ZM894 1733.6 890 1734 885.1 1733.4 882 1732.2 879.7 1730.4 878.8 1728.4 879.8 1725.4 882 1723.6 885.1 1722.4 890 1721.8 894 1722.2 897.4 1723.4 899.8 1725.4 900.6 1728.4 899.8 1730.4 897.3 1732.4Z"/><path fill-rule="evenodd" fill="#ff1e00" d="M991 1652.5 985 1653.3 974 1653.1 969 1652.4 966.4 1651.4 965.3 1650.4 965 1649.4 965.6 1648.4 968 1647.1 971.1 1646.4 976 1646.2 988 1647.9 991.9 1649.4 992.6 1650.4 992.4 1651.4ZM893 1732.5 889 1732.7 886 1732.3 883.6 1731.4 881.3 1729.4 880.9 1727.4 882 1725.5 886.4 1723.4 890 1723 893.4 1723.4 896.2 1724.4 898 1725.9 898.7 1727.4 898 1729.8 896.2 1731.4Z"/><path fill-rule="evenodd" fill="#ff0a00" d="M986 1652.4 975 1652.2 969.5 1651.4 967.8 1650.4 967.5 1649.4 968.3 1648.4 972 1647.3 979.4 1647.4 989 1649.3 990.1 1650.4 989.7 1651.4ZM893 1730.4 889 1730.8 886.7 1730.4 885 1729.4 884.3 1727.4 885 1726.4 887 1725.3 891 1725 894.8 1726.4 895.4 1728.4 894.8 1729.4Z"/></g>
<rect x="816" y="1617.4" width="278" height="279.8" fill="none" stroke="#555" stroke-width="1.3"/><path d="M832.6 1897.2v6.5M878.1 1897.2v6.5M923.6 1897.2v6.5M999.2 1897.2v6.5M1065.5 1897.2v6.5" stroke="#111" stroke-width="2"/><path d="M837.1 1897.2v3.5M841.7 1897.2v3.5M846.2 1897.2v3.5M850.8 1897.2v3.5M855.4 1897.2v3.5M859.9 1897.2v3.5M864.5 1897.2v3.5M869 1897.2v3.5M873.5 1897.2v3.5M882.6 1897.2v3.5M887.2 1897.2v3.5M891.8 1897.2v3.5M896.3 1897.2v3.5M900.9 1897.2v3.5M905.4 1897.2v3.5M910 1897.2v3.5M914.5 1897.2v3.5M919 1897.2v3.5M946.4 1897.2v3.5M959.7 1897.2v3.5M969.1 1897.2v3.5M976.4 1897.2v3.5M982.4 1897.2v3.5M987.5 1897.2v3.5M991.9 1897.2v3.5M995.7 1897.2v3.5M1019.2 1897.2v3.5M1030.8 1897.2v3.5M1039.1 1897.2v3.5M1045.5 1897.2v3.5M1050.8 1897.2v3.5M1055.2 1897.2v3.5M1059.1 1897.2v3.5M1062.5 1897.2v3.5M1083.6 1897.2v3.5M873.7 1897.2v5M874.3 1897.2v5M874.8 1897.2v5M875.4 1897.2v5M875.9 1897.2v5M876.5 1897.2v5M877 1897.2v5M877.6 1897.2v5M878.1 1897.2v5M878.6 1897.2v5M879.2 1897.2v5M879.7 1897.2v5M880.3 1897.2v5M880.8 1897.2v5M881.4 1897.2v5M881.9 1897.2v5M882.5 1897.2v5" stroke="#222" stroke-width="1.1"/><path d="M816 1882.1h-6.5M816 1840.5h-6.5M816 1798.9h-6.5M816 1729.6h-6.5M816 1670h-6.5" stroke="#111" stroke-width="2"/><path d="M816 1877.9h-3.5M816 1873.8h-3.5M816 1869.6h-3.5M816 1865.5h-3.5M816 1861.3h-3.5M816 1857.1h-3.5M816 1853h-3.5M816 1848.8h-3.5M816 1844.7h-3.5M816 1836.3h-3.5M816 1832.2h-3.5M816 1828h-3.5M816 1823.9h-3.5M816 1819.7h-3.5M816 1815.5h-3.5M816 1811.4h-3.5M816 1807.2h-3.5M816 1803.1h-3.5M816 1778h-3.5M816 1765.8h-3.5M816 1757.2h-3.5M816 1750.5h-3.5M816 1745h-3.5M816 1740.3h-3.5M816 1736.3h-3.5M816 1732.8h-3.5M816 1711.7h-3.5M816 1701.2h-3.5M816 1693.7h-3.5M816 1687.9h-3.5M816 1683.2h-3.5M816 1679.2h-3.5M816 1675.8h-3.5M816 1672.7h-3.5M816 1652.8h-3.5M816 1652.8h-3.5M816 1642.8h-3.5M816 1635.7h-3.5M816 1844.5h-5M816 1844h-5M816 1843.5h-5M816 1843h-5M816 1842.5h-5M816 1842h-5M816 1841.5h-5M816 1841h-5M816 1840.5h-5M816 1840h-5M816 1839.5h-5M816 1839h-5M816 1838.5h-5M816 1838h-5M816 1837.5h-5M816 1837h-5M816 1836.5h-5" stroke="#222" stroke-width="1.1"/><text x="834.1" y="1928.4" font-size="11.6" text-anchor="middle">-10<tspan dy="-6" font-size="8">3</tspan></text><text x="878.1" y="1927.8" font-size="11.6" text-anchor="middle">0</text><text x="925.1" y="1928.4" font-size="11.6" text-anchor="middle">10<tspan dy="-6" font-size="8">3</tspan></text><text x="1000.7" y="1928.4" font-size="11.6" text-anchor="middle">10<tspan dy="-6" font-size="8">4</tspan></text><text x="1067" y="1928.4" font-size="11.6" text-anchor="middle">10<tspan dy="-6" font-size="8">5</tspan></text><text x="799.2" y="1890.1" font-size="11.6" text-anchor="end">-10<tspan dy="-5" font-size="8">3</tspan></text><text x="799" y="1845" font-size="11.6" text-anchor="end">0</text><text x="799.2" y="1806.9" font-size="11.6" text-anchor="end">10<tspan dy="-5" font-size="8">3</tspan></text><text x="799.2" y="1737.6" font-size="11.6" text-anchor="end">10<tspan dy="-5" font-size="8">4</tspan></text><text x="799.2" y="1678" font-size="11.6" text-anchor="end">10<tspan dy="-5" font-size="8">5</tspan></text><rect x="926.4" y="1636" width="114.8" height="79.1" fill="none" stroke="#222" stroke-width="1.6"/><text x="991.4" y="1796.7" font-size="28.3">45.4</text><text x="955.6" y="1605.7" font-size="28.6" text-anchor="middle">LOXL2 Inhibitor</text>
<g><path fill-rule="evenodd" fill="#000fff" d="M1231.2 1682.5 1225.2 1682.5 1220.2 1680.7 1211.2 1674.2 1198.2 1667.6 1194.2 1664.5 1191.4 1661.4 1188.2 1655.4 1187.7 1651.4 1188.1 1648.4 1189.5 1645.4 1191.9 1642.4 1198.2 1638.3 1203.2 1636.5 1209.2 1635.4 1216.2 1635.2 1222.2 1635.8 1229.2 1637.3 1235.2 1639.4 1246.2 1645.8 1248.2 1646.3 1250.2 1645.4 1256.2 1640.3 1262.2 1638.3 1268.2 1638.5 1276.2 1641.5 1279.2 1641.8 1292.2 1638.3 1305.2 1636.2 1321.2 1635.3 1337.2 1636 1347.2 1637.3 1356.2 1639.3 1364.2 1642.1 1369.2 1644.9 1371.7 1647.4 1372.7 1649.4 1372.6 1651.4 1371.5 1653.4 1369.6 1655.4 1364.2 1658.6 1356.2 1661.5 1347.2 1663.5 1335.2 1664.9 1323.2 1665.5 1302.2 1664.2 1292.2 1662.5 1280.2 1659 1277.2 1659 1264.7 1663.4 1264.2 1664.4 1264.3 1670.4 1263.7 1673.4 1262.2 1676.5 1260.2 1677.5 1258.2 1676.5 1256.9 1674.4 1255.9 1670.4 1255.8 1663.4 1255.2 1662.5 1254.2 1662.3 1252.5 1663.4 1248.7 1668.4 1239.5 1678.4 1235.2 1681.3ZM1220.2 1804.5 1217.2 1804.8 1215.2 1804.3 1213.2 1802.9 1211.2 1800.4 1209.7 1796.4 1209.4 1792.4 1212 1783.4 1206.5 1778.4 1204.9 1774.4 1205.1 1770.4 1206.9 1764.4 1204.2 1755.9 1203.3 1749.4 1203.6 1740.4 1205 1728.4 1206.5 1722.4 1208.9 1716.4 1212 1711.4 1216.1 1706.4 1213.2 1705.7 1211.4 1704.4 1210.3 1702.4 1210.3 1700.4 1212.2 1697.8 1216.2 1696.6 1220.2 1697.8 1221.7 1699.4 1222.2 1700.8 1232.2 1695.6 1241.2 1693.1 1247.2 1692.8 1252.2 1693.5 1257.2 1695.3 1260.2 1697.4 1263.2 1700.7 1265.2 1704.6 1266.2 1710.4 1265.7 1715.4 1264.2 1720.4 1261 1726.4 1257.2 1731.4 1247.2 1742 1240.2 1755.4 1237.2 1760 1233.2 1764.4 1225.2 1769.7 1223.9 1771.4 1220.5 1780.4 1220.6 1781.4 1224.2 1785.4 1225.3 1787.4 1226.5 1791.4 1226.5 1795.4 1225.7 1798.4 1224.2 1801.4 1222.2 1803.4Z"/><path fill-rule="evenodd" fill="#002dff" d="M1230.2 1681.4 1225.2 1681.3 1220.2 1679.3 1211.3 1672.4 1199.2 1665.9 1193.5 1660.4 1191.7 1657.4 1190.7 1654.4 1190.5 1651.4 1191.1 1648.4 1192.7 1645.4 1194.5 1643.4 1197.2 1641.3 1201.2 1639.3 1206.2 1637.8 1212.2 1637 1218.2 1637 1225.2 1638 1231.2 1639.7 1236.2 1641.8 1248.2 1649.8 1250.2 1648.8 1253.5 1644.4 1256.2 1641.9 1259.2 1640.3 1262.2 1639.5 1268.2 1639.8 1276.2 1643.2 1279.2 1643.7 1292.2 1639.9 1305.2 1637.5 1321.2 1636.6 1337.8 1637.4 1347.2 1638.8 1356.2 1641 1363.2 1643.7 1367.4 1646.4 1369.2 1649.4 1368.4 1652.4 1365.2 1655.5 1359.2 1658.6 1351.2 1661.1 1341.2 1663 1330.2 1664 1318.2 1664.2 1308.2 1663.6 1297.2 1662 1289.2 1660 1281.2 1657.1 1278.2 1656.8 1270.2 1660.3 1263.6 1662.4 1263.3 1672.4 1262.2 1675 1260.2 1676.3 1258.2 1675.1 1256.8 1671.4 1256.6 1667.4 1257.3 1661.4 1255.2 1659.7 1252.2 1659 1250.5 1660.4 1247.9 1665.4 1239.7 1676.4 1235.2 1679.8ZM1218.2 1803.4 1215.2 1802.7 1213.2 1801.1 1211.5 1798.4 1210.6 1795.4 1210.8 1790.4 1211.9 1787.4 1214.5 1783.4 1214.3 1782.4 1208.2 1778.8 1206.6 1776.4 1206 1774.4 1206.3 1770.4 1209 1764.4 1208.5 1761.4 1205.8 1754.4 1205.1 1747.4 1205.8 1736.4 1208.1 1724.4 1210.8 1717.4 1213.8 1712.4 1218.2 1707.1 1224.2 1702.1 1236.2 1695.4 1245.2 1695 1249.3 1695.4 1256.2 1697.9 1259.3 1700.4 1261.6 1703.4 1262.9 1706.4 1263.6 1710.4 1262.8 1717.4 1260.8 1722.4 1257.8 1727.4 1245.2 1741.8 1239.4 1753.4 1236.2 1758.4 1231.2 1763.5 1224.2 1767.6 1222.7 1769.4 1221.3 1775.4 1217.9 1781.4 1218.3 1782.4 1222.2 1785 1224.1 1787.4 1225.4 1791.4 1225.4 1795.4 1224.6 1798.4 1222.6 1801.4 1220.2 1803ZM1217.2 1705.6 1213.2 1704.8 1211.1 1702.4 1211.6 1699.4 1213.2 1698 1215.2 1697.3 1219.2 1698 1221.3 1700.4 1221.4 1702.4 1220.8 1703.4 1219.2 1705Z"/><path fill-rule="evenodd" fill="#0052ff" d="M1230.2 1680.4 1225.2 1680.2 1220.2 1678.1 1212.2 1671.4 1204.2 1667.3 1199.7 1664.4 1196.5 1661.4 1193.9 1657.4 1192.7 1653.4 1192.8 1650.4 1193.9 1647.4 1196.2 1644.4 1199.2 1642.1 1203.2 1640.2 1212 1638.4 1217.2 1638.3 1223.2 1639 1233.2 1642 1238.2 1644.6 1241.9 1647.4 1245.8 1651.4 1247.8 1654.4 1248.1 1658.4 1247.1 1662.4 1240.7 1673.4 1236.2 1678 1233.2 1679.6ZM1261.2 1674.9 1259.2 1674.9 1257.4 1671.4 1257.2 1667.4 1258.8 1662.4 1258.6 1660.4 1252.4 1655.4 1251.4 1652.4 1252.4 1648.4 1254.2 1645.4 1257.2 1642.6 1260.2 1641.1 1263.2 1640.5 1267.2 1640.7 1271.2 1642 1276.2 1644.8 1279.2 1645.4 1290.2 1641.6 1299.2 1639.5 1311.2 1637.9 1323.2 1637.5 1341.2 1638.8 1355.2 1642 1363 1645.4 1365.4 1647.4 1366.3 1649.4 1366 1651.4 1363.3 1654.4 1355.2 1658.6 1346.2 1661.1 1336.2 1662.6 1326.2 1663.2 1315.2 1663.1 1305.2 1662.2 1297.2 1660.8 1289.2 1658.6 1281.2 1655.1 1278.2 1654.8 1270.2 1659.2 1262.3 1661.4 1261.9 1662.4 1263 1667.4 1263.1 1670.4 1262.3 1673.4ZM1215.2 1780.6 1212.2 1780.2 1209.2 1778.5 1207.6 1776.4 1206.8 1773.4 1207.6 1769.4 1210.5 1765.4 1210 1760.4 1207.2 1753.4 1206.5 1746.4 1207.9 1732.4 1210.7 1721.4 1214.3 1714.4 1219.1 1708.4 1225.2 1703.3 1232.4 1699.4 1234.2 1697.3 1235.8 1696.4 1238.2 1696 1242.2 1696.9 1248.2 1697.1 1252.2 1698.2 1255.2 1699.8 1258.2 1702.4 1260.1 1705.4 1261.2 1708.4 1261.6 1712.4 1261.1 1716.4 1259.8 1720.4 1255.8 1727.4 1245.2 1739.4 1237.8 1753.4 1234.3 1758.4 1229.2 1763.1 1222.3 1766.4 1221.4 1767.4 1220.9 1773.4 1219.9 1776.4 1217.2 1779.7ZM1218.2 1704.4 1214.2 1704.4 1212.2 1702.6 1212.1 1700.4 1214.2 1698.4 1218.2 1698.4 1220.2 1700.2 1220.3 1702.4ZM1220.2 1801.8 1217.2 1802.2 1215.2 1801.4 1213.1 1799.4 1211.5 1795.4 1211.5 1791.4 1212.5 1788.4 1214.2 1786 1216.8 1784.4 1219.2 1784.5 1222.1 1786.4 1223.5 1788.4 1224.5 1791.4 1224.6 1794.4 1223.9 1797.4 1222.2 1800.3Z"/><path fill-rule="evenodd" fill="#007fff" d="M1325.2 1662.4 1311.2 1662 1298.2 1660.1 1289.4 1657.4 1279.2 1652.5 1277.2 1653.1 1272.2 1657 1269.2 1658.6 1265.2 1659.6 1260.2 1659.6 1255.2 1656.1 1253.3 1652.4 1253.4 1649.4 1254.2 1647.4 1256.2 1644.6 1258.2 1643 1262.2 1641.5 1267.2 1641.6 1271.2 1643.1 1278.2 1647.2 1280.2 1647 1285.2 1644.6 1293.2 1641.8 1302.2 1639.9 1312.2 1638.7 1322.2 1638.3 1332.2 1638.7 1342.2 1639.9 1351.2 1641.8 1358.2 1644.3 1361.9 1646.4 1364 1649.4 1362.8 1652.4 1358.2 1655.9 1352.2 1658.4 1344.2 1660.5 1335.2 1661.8ZM1230.2 1679.6 1225.2 1679.4 1221.2 1677.7 1212.6 1670.4 1201.2 1663.9 1197.6 1660.4 1195.7 1657.4 1194.7 1654.4 1194.6 1651.4 1195.5 1648.4 1196.7 1646.4 1199.2 1644 1202.2 1642.2 1210.2 1639.8 1220.2 1639.7 1230.2 1642 1235.2 1644.3 1239.2 1646.9 1242.8 1650.4 1244.9 1653.4 1245.9 1656.4 1245.8 1660.4 1240.8 1671.4 1238.8 1674.4 1236.2 1676.9 1233.2 1678.7ZM1261.2 1673.8 1260.2 1674.2 1259.2 1673.8 1258 1671.4 1257.8 1667.4 1259.2 1664 1260.2 1663.4 1261.2 1664 1262.3 1666.4 1262.5 1670.4ZM1215.2 1779.4 1212.2 1779.2 1210.2 1778.2 1208.5 1776.4 1207.6 1773.4 1208.6 1769.4 1213.2 1764.4 1212.4 1761.4 1208.8 1754.4 1207.7 1747.4 1208.8 1734.4 1211.8 1722.4 1214.1 1717.4 1217.4 1712.4 1221 1708.4 1225.2 1704.9 1230.2 1701.9 1235.8 1699.4 1236.2 1698.4 1238.2 1698 1241.2 1698.5 1245.1 1698.4 1249.2 1699 1252.7 1700.4 1255.6 1702.4 1258 1705.4 1259.3 1708.4 1259.9 1712.4 1258.6 1719.4 1254.8 1726.4 1244.2 1738.8 1237.1 1752.4 1233.6 1757.4 1228.2 1762.1 1219.8 1765.4 1219.2 1766.4 1220.1 1771.4 1219.8 1774.4 1218.2 1777.4ZM1217.2 1702.7 1214.7 1702.4 1214.2 1701.4 1215.2 1700.1 1217.7 1700.4 1218.2 1701.4ZM1220.2 1800.6 1218.2 1801.1 1216.2 1800.8 1214.2 1799.2 1212.7 1796.4 1212.2 1793.4 1212.7 1790.4 1213.6 1788.4 1215.4 1786.4 1218.2 1785.6 1220.2 1786.2 1222.2 1788.1 1223.4 1790.4 1223.8 1793.4 1223.3 1796.4 1222.2 1798.7Z"/><path fill-rule="evenodd" fill="#00b2ff" d="M1330.2 1661.5 1315.2 1661.5 1301.2 1659.8 1289.9 1656.4 1285.2 1653.9 1282 1651.4 1281.1 1649.4 1281.6 1648.4 1284 1646.4 1288.2 1644.3 1300.2 1641 1312.7 1639.4 1327.2 1639.1 1342.2 1640.7 1354.2 1643.7 1358 1645.4 1360.8 1647.4 1361.9 1649.4 1361.4 1651.4 1359.2 1653.6 1354.4 1656.4 1343.2 1659.8ZM1231.2 1678.5 1226.2 1678.8 1221.2 1676.8 1213.2 1669.6 1202.6 1663.4 1197.9 1658.4 1196.6 1655.4 1196.2 1652.4 1196.9 1649.4 1198 1647.4 1202.7 1643.4 1210.2 1640.9 1220.2 1640.7 1230.2 1643.2 1237.8 1647.4 1241 1650.4 1243.1 1653.4 1244.1 1656.4 1244.2 1659.4 1240.7 1669.4 1236.7 1675.4 1234.2 1677.3ZM1266.2 1658.6 1262.2 1658.7 1259.2 1657.8 1255.4 1654.4 1254.4 1651.4 1255.3 1647.4 1257.8 1644.4 1261.2 1642.6 1265.2 1642.2 1268.2 1642.7 1271.6 1644.4 1275.2 1647.4 1276.7 1649.4 1276.7 1650.4 1275.6 1652.4 1272.8 1655.4 1269.8 1657.4ZM1260.2 1673 1259.2 1672.4 1258.3 1669.4 1258.9 1666.4 1260.2 1665.1 1261.4 1666.4 1262 1669.4 1261.2 1672.4ZM1224.2 1762.5 1219.2 1763.2 1216.2 1762.3 1212.2 1758.5 1210.1 1754.4 1209 1749.4 1208.8 1742.4 1209.8 1734.4 1211.7 1726.4 1213.5 1721.4 1216 1716.4 1219.2 1712 1223.2 1708 1228.2 1704.3 1233.2 1701.8 1238.2 1700.3 1243.2 1699.7 1250.2 1701 1253.2 1702.6 1256 1705.4 1257.5 1708.4 1258.2 1711.4 1258.2 1714.4 1257.5 1718.4 1254 1725.4 1243.2 1738.6 1234.2 1754.9 1229.2 1760ZM1215.2 1778.4 1213.2 1778.6 1210.5 1777.4 1208.9 1775.4 1208.4 1773.4 1209 1770.4 1210.2 1768.7 1212.2 1767.1 1214.1 1766.4 1216.2 1766.5 1217.2 1767.2 1218.6 1769.4 1219.2 1771.4 1219.1 1773.4 1218.2 1776ZM1219.2 1799.8 1217.2 1799.9 1215.2 1798.8 1213.3 1795.4 1213.1 1792.4 1213.6 1790.4 1214.8 1788.4 1216.2 1787.2 1218.2 1786.8 1220.2 1787.5 1221.9 1789.4 1222.7 1791.4 1222.9 1794.4 1222.4 1796.4 1221.2 1798.4Z"/><path fill-rule="evenodd" fill="#00eaff" d="M1333.2 1660.5 1319.2 1661 1305.2 1659.7 1293.2 1656.7 1285.3 1652.4 1283.7 1650.4 1283.9 1648.4 1287.9 1645.4 1298.2 1642.1 1310.2 1640.3 1325.2 1639.7 1339.2 1640.9 1352.2 1643.9 1355.9 1645.4 1358.9 1647.4 1360 1649.4 1359.4 1651.4 1357.4 1653.4 1354.2 1655.3 1345.2 1658.5ZM1232.2 1677.4 1227.2 1678.1 1222.2 1676.5 1213.2 1668.5 1203.2 1662.4 1199.5 1658.4 1197.8 1653.4 1198.2 1650.4 1199.1 1648.4 1203.2 1644.6 1208.6 1642.4 1217.2 1641.5 1227.2 1643.2 1235.2 1646.9 1238.4 1649.4 1240.9 1652.4 1242.3 1655.4 1242.7 1658.4 1240.5 1667.4 1237.2 1673.7 1235.2 1675.7ZM1267.2 1657.5 1263.2 1657.9 1260.2 1657.2 1257.2 1655 1255.7 1652.4 1255.7 1649.4 1257.1 1646.4 1259.4 1644.4 1263.2 1643.1 1266.2 1643.1 1269.9 1644.4 1272.6 1646.4 1274.6 1649.4 1274.5 1651.4 1272.4 1654.4 1269.8 1656.4ZM1260.2 1670.8 1259.4 1669.4 1260.2 1667.3 1260.8 1669.4ZM1222.2 1761.6 1218.2 1761.3 1215.2 1759.7 1212.2 1756.1 1210.4 1751.4 1209.8 1746.4 1210.1 1739.4 1211.4 1731.4 1213.4 1724.4 1215.6 1719.4 1218.2 1715.1 1221.2 1711.4 1225.6 1707.4 1230.2 1704.5 1235.2 1702.3 1240.2 1701.2 1244.2 1701.1 1248.2 1701.8 1251.2 1703.2 1255.2 1707.2 1256.8 1712.4 1256.7 1715.4 1255.7 1719.4 1252.5 1725.4 1243.2 1737 1233.2 1754.5 1228.2 1759.3 1225.2 1760.8ZM1215.2 1777.4 1212.2 1777.4 1210.7 1776.4 1209.5 1774.4 1209.3 1772.4 1210 1770.4 1211.2 1769 1213.2 1767.9 1216.2 1768.2 1217.4 1769.4 1218.2 1771.4 1218.3 1773.4 1217.5 1775.4ZM1219.2 1798.5 1217.2 1798.6 1216.2 1798.2 1214.2 1795 1214.3 1791.4 1215.2 1789.6 1216.6 1788.4 1219.4 1788.4 1220.6 1789.4 1221.7 1791.4 1221.7 1795.4 1220.6 1797.4Z"/><path fill-rule="evenodd" fill="#00f7cb" d="M1336.2 1659.4 1323.2 1660.4 1309.2 1659.6 1297.2 1657.1 1288.2 1653.1 1286.1 1651.4 1285.3 1649.4 1286.5 1647.4 1287.9 1646.4 1297.2 1643 1309.2 1641 1322.2 1640.3 1335.2 1641 1347.2 1643.1 1355.8 1646.4 1357.2 1647.5 1358.3 1649.4 1357.6 1651.4 1355.4 1653.4 1347.2 1657.1ZM1228.2 1677.4 1224.2 1676.7 1221.2 1675 1214.2 1668.1 1203.8 1661.4 1200.1 1656.4 1199.4 1653.4 1199.5 1651.4 1201.8 1647.4 1206.2 1644.4 1213.2 1642.6 1222.2 1642.9 1230.2 1645.3 1236.6 1649.4 1240.4 1654.4 1241.2 1657.4 1241.1 1660.4 1239.5 1667.4 1237.8 1671.4 1234.2 1675.5 1231.2 1677ZM1267.2 1656.6 1264.2 1657 1261.2 1656.5 1258.2 1654.6 1256.9 1652.4 1256.8 1649.4 1258.2 1646.6 1260.2 1645 1263.2 1643.9 1266.2 1644 1269.2 1645.1 1272.1 1647.4 1273.2 1649.4 1273 1651.4 1271.9 1653.4 1269.7 1655.4ZM1225.2 1759.5 1221.2 1760.3 1217.2 1759.3 1214.2 1756.8 1212.2 1753.4 1210.9 1748.4 1210.7 1743.4 1211.4 1736.4 1212.9 1729.4 1216.8 1719.4 1220.1 1714.4 1223.2 1710.9 1227.2 1707.6 1232.2 1704.7 1237.2 1703 1241.2 1702.4 1245.2 1702.5 1248.2 1703.3 1252.7 1706.4 1254.2 1708.6 1255.2 1711.4 1255.4 1714.4 1254.7 1718.4 1251.8 1724.4 1242.2 1737 1233.2 1752.9 1229.2 1757.2ZM1214.2 1776.5 1212.9 1776.4 1211.2 1775.4 1210.4 1773.4 1211.3 1770.4 1214.2 1769 1216.2 1769.9 1217.3 1772.4 1216.2 1775.4ZM1219.2 1796.7 1217.2 1796.8 1216.2 1796.1 1215.4 1794.4 1215.8 1791.4 1217.2 1789.9 1219.2 1790.1 1220.6 1792.4 1220.3 1795.4Z"/><path fill-rule="evenodd" fill="#00fe92" d="M1329.2 1659.5 1316.2 1659.5 1304.2 1658 1294.2 1655.1 1290.5 1653.4 1287.8 1651.4 1286.9 1649.4 1287.3 1648.4 1289.6 1646.4 1292.2 1645.2 1301.2 1642.7 1314.2 1641.1 1327.2 1640.9 1340.2 1642.3 1351.2 1645.1 1354.1 1646.4 1356.3 1648.4 1356.7 1649.4 1355.9 1651.4 1353.4 1653.4 1349.3 1655.4 1340.2 1658ZM1230.2 1676.4 1226.2 1676.5 1222.2 1674.8 1215.2 1667.7 1206.2 1661.9 1202.2 1657.6 1200.9 1653.4 1202.1 1649.4 1205.2 1646.3 1210.2 1644.2 1218.2 1643.5 1226.2 1644.9 1233.6 1648.4 1236.2 1650.6 1238.3 1653.4 1239.5 1656.4 1239.8 1659.4 1238.2 1668.4 1236.9 1671.4 1235.2 1673.6 1232.9 1675.4ZM1267.2 1655.5 1264.2 1656 1261.2 1655.4 1259.2 1654 1258.2 1652.4 1257.8 1650.4 1258.3 1648.4 1259.9 1646.4 1262.2 1645.2 1264.2 1644.8 1267.2 1645.2 1269.5 1646.4 1271.4 1648.4 1271.9 1650.4 1271.2 1652.4 1269.3 1654.4ZM1224.2 1758.5 1220.2 1758.8 1217.2 1757.7 1214.7 1755.4 1212.7 1751.4 1211.8 1746.4 1211.8 1741.4 1212.7 1734.4 1214.1 1728.4 1218.2 1719 1224.2 1711.4 1228.2 1708.2 1232.2 1705.9 1236.4 1704.4 1241.2 1703.6 1247.2 1704.5 1251.5 1707.4 1252.8 1709.4 1253.8 1712.4 1253.3 1718.4 1251.1 1723.4 1243.2 1734.1 1233.2 1751.3 1229.2 1755.7ZM1214.2 1774.4 1213.2 1774.3 1212.3 1773.4 1212.2 1772.4 1213.2 1771.1 1215.1 1771.4 1215.5 1772.4 1215.2 1773.6Z"/><path fill-rule="evenodd" fill="#00ff4d" d="M1333.2 1658.4 1321.2 1659 1309.2 1658.2 1298.2 1655.7 1290.7 1652.4 1288.7 1650.4 1288.5 1649.4 1289.7 1647.4 1291.2 1646.4 1299.2 1643.7 1311.2 1641.8 1324.2 1641.4 1336.2 1642.2 1347.2 1644.4 1353.9 1647.4 1354.8 1648.4 1354.9 1650.4 1351.5 1653.4 1343.2 1656.5ZM1230.2 1675.6 1226.2 1675.6 1222.2 1673.8 1215.2 1666.5 1207.4 1661.4 1203.8 1657.4 1202.6 1653.4 1203.4 1650.4 1206.2 1647.3 1211.2 1645.1 1218.2 1644.5 1226.2 1646 1233 1649.4 1236.7 1653.4 1237.9 1656.4 1238.3 1659.4 1237.3 1668.4 1235.9 1671.4 1234.3 1673.4ZM1266.2 1654.6 1262.1 1654.4 1260.6 1653.4 1259.4 1651.4 1259.4 1649.4 1260.2 1648 1262.2 1646.5 1264.2 1646 1268.2 1647 1270.2 1649.4 1269.6 1652.4ZM1222.2 1757.4 1219.2 1757 1216.2 1755 1214.2 1751.9 1213.1 1748.4 1212.7 1743.4 1213.1 1737.4 1214.3 1731.4 1216.2 1725.3 1221.2 1716.4 1227.2 1710.3 1231.2 1707.7 1235.2 1706 1239.2 1705.1 1243.2 1705.1 1248.2 1706.8 1251.5 1710.4 1252.4 1715.4 1251.2 1720.4 1232.2 1751 1227.2 1755.8Z"/><path fill-rule="evenodd" fill="#00ff07" d="M1335.2 1657.4 1323.2 1658.4 1311.2 1657.7 1300.2 1655.5 1292.3 1652.4 1290.2 1650.4 1289.9 1649.4 1291.2 1647.4 1292.9 1646.4 1300.2 1644 1309.2 1642.5 1320.2 1641.8 1332.2 1642.3 1343.2 1643.9 1350.7 1646.4 1352.3 1647.4 1353.6 1649.4 1353.2 1650.7 1351.4 1652.4 1345.2 1655.1ZM1230.2 1674.6 1226.2 1674.7 1223.1 1673.4 1220.7 1671.4 1215.6 1665.4 1208.3 1660.4 1205.6 1657.4 1204.5 1654.4 1205.2 1650.8 1207.3 1648.4 1211.4 1646.4 1217.2 1645.6 1224.2 1646.5 1230.7 1649.4 1234.9 1653.4 1236.3 1656.4 1236.8 1659.4 1236.6 1667.4 1234.2 1672.2ZM1266.2 1652.6 1263.2 1652.6 1261.9 1651.4 1261.9 1649.4 1263.2 1648.2 1266.2 1648.1 1267.9 1649.4 1267.8 1651.4ZM1224.2 1755.6 1221.2 1755.8 1218.2 1754.6 1216.2 1752.6 1214.7 1749.4 1213.9 1745.4 1213.8 1740.4 1214.6 1734.4 1216.1 1728.4 1220.2 1719.7 1225.4 1713.4 1229.1 1710.4 1232.6 1708.4 1236.2 1707.1 1240.2 1706.4 1245.7 1707.4 1249.2 1710.2 1250.7 1714.4 1250 1719.4 1248.2 1723.4 1233.2 1748.1 1228.3 1753.4Z"/><path fill-rule="evenodd" fill="#48ff00" d="M1328.2 1657.4 1317.2 1657.5 1306.2 1656.2 1296.2 1653.4 1293.2 1651.9 1291.7 1650.4 1291.7 1648.4 1292.7 1647.4 1297.1 1645.4 1305.2 1643.6 1316.2 1642.4 1328.2 1642.5 1339.2 1643.7 1347.2 1645.7 1351.8 1648.4 1352.1 1649.4 1351 1651.4 1346.2 1654 1338.2 1656.1ZM1230.2 1673.4 1226.2 1673.6 1223.2 1672.2 1221.1 1670.4 1216.2 1664.2 1210.2 1659.9 1207.8 1657.4 1206.7 1654.4 1207.3 1651.4 1209.2 1649.3 1213.2 1647.5 1219.2 1647 1225.2 1648.3 1229.5 1650.4 1233.2 1654.1 1235.2 1659.5 1235.7 1666.4 1234.2 1670.5 1232.3 1672.4ZM1225.2 1753.5 1222.2 1754 1219.9 1753.4 1218.2 1752.2 1216.2 1749.2 1215.2 1745.6 1214.9 1741.4 1216.3 1731.4 1220 1722.4 1225.2 1715.4 1231.8 1710.4 1238.2 1708.3 1243.2 1708.6 1245.2 1709.4 1247.2 1711.2 1248.6 1714.4 1248.2 1719.4 1240.7 1734.4 1235.2 1743.9 1230.2 1750.1Z"/><path fill-rule="evenodd" fill="#98ff00" d="M1330.2 1656.5 1319.2 1656.8 1309.2 1656 1300.2 1654.1 1294.1 1651.4 1292.8 1649.4 1293.2 1648.4 1296.1 1646.4 1303.2 1644.4 1313.2 1643.1 1324.2 1642.8 1335.2 1643.5 1344.2 1645.3 1349.2 1647.4 1350.6 1649.4 1350.2 1650.6 1347.8 1652.4 1340.2 1655ZM1233.2 1666.4 1231.2 1666.4 1230.2 1665.4 1225.2 1665.4 1224.2 1664.4 1220.2 1664.4 1216.2 1660.4 1215.2 1660.4 1211.2 1656.4 1211.2 1652.4 1214.2 1650.4 1217.2 1650.4 1218.2 1649.4 1219.2 1649.4 1220.2 1650.4 1223.2 1650.4 1224.2 1651.4 1226.2 1651.4 1230.2 1655.4 1231.2 1658.4 1232.2 1659.4 1232.2 1660.4 1233.2 1661.4ZM1227.2 1750.4 1224.2 1751.3 1222.2 1751.1 1220.5 1750.4 1218.2 1747.7 1217.1 1744.4 1217.2 1734 1219.2 1727.3 1223.2 1720.3 1228.9 1714.4 1235.2 1711.1 1240.2 1710.7 1244 1712.4 1245.7 1715.4 1245.6 1720.4 1242.4 1729.4 1236.7 1740.4 1232.2 1746.5Z"/><path fill-rule="evenodd" fill="#d5ff00" d="M1332.2 1655.5 1321.2 1655.8 1310.8 1655.4 1302.2 1653.9 1295.7 1651.4 1294.2 1649.4 1294.6 1648.4 1297.2 1646.7 1303.2 1644.9 1312.2 1643.6 1323.2 1643.2 1333.2 1643.8 1342.2 1645.3 1347.6 1647.4 1349.1 1649.4 1348.2 1651 1346.2 1652.3 1340.2 1654.2ZM1230.2 1746.7 1229.2 1747.2 1227.2 1747 1225.2 1745.9 1223.9 1744.4 1222.3 1739.4 1222.5 1733.4 1224.6 1726.4 1227.5 1721.4 1231.2 1717.6 1235.2 1715.7 1238.2 1715.9 1241.1 1718.4 1242.5 1722.4 1242.5 1726.4 1240.4 1732.4 1237.2 1738.5 1233.2 1744.1Z"/><path fill-rule="evenodd" fill="#fff300" d="M1333.2 1654.4 1312.2 1654.6 1305.2 1653.9 1299.2 1652.3 1296.2 1650.4 1295.7 1649.4 1297.3 1647.4 1303 1645.4 1310.2 1644.2 1319.2 1643.6 1329.2 1643.9 1338.2 1645 1344.2 1646.6 1347.2 1648.4 1347.6 1649.4 1346 1651.4 1340.2 1653.5ZM1231.2 1744.4 1228.2 1744.7 1226.2 1743.6 1225.2 1742.4 1223.9 1738.4 1223.9 1734.4 1225 1729.4 1227.3 1724.4 1230.2 1720.7 1234.2 1718.2 1237.2 1718.2 1239.2 1719.6 1240.7 1722.4 1241.2 1727.4 1240.1 1731.4 1237.2 1737.5 1234.2 1741.8Z"/><path fill-rule="evenodd" fill="#ffcc00" d="M1335.2 1653.4 1316.2 1654 1306.2 1653.4 1301.7 1652.4 1297.8 1650.4 1297.3 1649.4 1297.6 1648.4 1301.3 1646.4 1309.2 1644.8 1318.2 1644.1 1327.2 1644.2 1335.2 1644.9 1341.9 1646.4 1345.6 1648.4 1346 1649.4 1345.5 1650.4 1341.5 1652.4ZM1231.2 1742.8 1228.2 1742.8 1226.5 1741.4 1225.2 1738.4 1225 1734.4 1225.7 1730.4 1227.9 1725.4 1230.2 1722.4 1233.2 1720.2 1236.2 1719.8 1238.2 1721 1239.8 1724.4 1240 1728.4 1239.1 1732.4 1236.2 1738.1 1233.2 1741.7Z"/><path fill-rule="evenodd" fill="#ffa400" d="M1336.2 1652.5 1319.2 1653.4 1303.2 1652.1 1299.5 1650.4 1298.9 1649.4 1299.3 1648.4 1303.2 1646.5 1308.1 1645.4 1324.2 1644.5 1333.2 1645.2 1339.8 1646.4 1343.2 1647.9 1344.2 1649.5 1341.9 1651.4ZM1231.2 1741.4 1229.2 1741.5 1227.2 1740.1 1226.1 1737.4 1226 1733.4 1226.9 1729.4 1229 1725.4 1231.2 1722.9 1233.9 1721.4 1236.2 1721.5 1238.2 1723.3 1239.1 1726.4 1239 1729.4 1238 1733.4 1236.2 1737 1234.2 1739.6Z"/><path fill-rule="evenodd" fill="#ff7300" d="M1330.2 1652.4 1315.2 1652.6 1303.2 1651.2 1301.4 1650.4 1300.7 1649.4 1301.1 1648.4 1302.6 1647.4 1306.2 1646.3 1313.2 1645.3 1330.3 1645.4 1337.2 1646.4 1340.4 1647.4 1341.9 1648.4 1342.3 1649.4 1341.4 1650.4 1337.2 1651.5ZM1232.2 1739.7 1230.2 1740.2 1228.2 1739.2 1226.9 1736.4 1226.9 1733.4 1227.8 1729.4 1229.2 1726.7 1231.2 1724.2 1233.2 1722.9 1235.2 1722.7 1236.5 1723.4 1237.8 1725.4 1238.2 1728.4 1237.5 1732.4 1236.2 1735.5 1234.2 1738.2Z"/><path fill-rule="evenodd" fill="#ff4100" d="M1332.2 1651.5 1317.2 1652 1305.2 1650.6 1302.8 1649.4 1303.1 1648.4 1304.9 1647.4 1310.2 1646.3 1324.2 1645.8 1336.2 1647.1 1339.3 1648.4 1339.3 1649.4 1337.4 1650.4ZM1231.2 1738.7 1229.2 1738.2 1228.2 1736.7 1227.8 1734.4 1228.1 1731.4 1230.5 1726.4 1232.2 1724.8 1234.2 1724.1 1236.4 1725.4 1237.2 1727.4 1237.1 1730.4 1235.2 1735.5 1233.2 1737.7Z"/><path fill-rule="evenodd" fill="#ff1e00" d="M1332.2 1650.4 1322.2 1651.4 1312.2 1650.8 1306.8 1649.4 1306.8 1648.4 1309.4 1647.4 1320.2 1646.4 1330.2 1647 1335.1 1648.4 1335.1 1649.4ZM1232.2 1736.8 1231.2 1737 1229.8 1736.4 1228.8 1733.4 1229.8 1729.4 1232.2 1726.3 1234.2 1725.8 1235.2 1726.3 1236.2 1729.4 1235.2 1733.4 1233.9 1735.4Z"/><path fill-rule="evenodd" fill="#ff0a00" d="M1328.2 1649.5 1323.2 1650.2 1318.2 1650.2 1313.1 1649.4 1313.2 1648.4 1318.2 1647.6 1323.2 1647.6 1328.7 1648.4 1328.7 1649.4ZM1232.2 1734.6 1231.1 1734.4 1230.4 1732.4 1231.2 1729.8 1233.2 1728.2 1234.2 1728.7 1234.4 1731.4 1233.5 1733.4Z"/></g>
<rect x="1154.2" y="1617.4" width="278" height="279.8" fill="none" stroke="#555" stroke-width="1.3"/><path d="M1170.8 1897.2v6.5M1216.3 1897.2v6.5M1261.8 1897.2v6.5M1337.4 1897.2v6.5M1403.7 1897.2v6.5" stroke="#111" stroke-width="2"/><path d="M1175.4 1897.2v3.5M1179.9 1897.2v3.5M1184.5 1897.2v3.5M1189 1897.2v3.5M1193.5 1897.2v3.5M1198.1 1897.2v3.5M1202.7 1897.2v3.5M1207.2 1897.2v3.5M1211.8 1897.2v3.5M1220.9 1897.2v3.5M1225.4 1897.2v3.5M1230 1897.2v3.5M1234.5 1897.2v3.5M1239 1897.2v3.5M1243.6 1897.2v3.5M1248.2 1897.2v3.5M1252.7 1897.2v3.5M1257.2 1897.2v3.5M1284.6 1897.2v3.5M1297.9 1897.2v3.5M1307.3 1897.2v3.5M1314.6 1897.2v3.5M1320.6 1897.2v3.5M1325.7 1897.2v3.5M1330.1 1897.2v3.5M1333.9 1897.2v3.5M1357.4 1897.2v3.5M1369 1897.2v3.5M1377.3 1897.2v3.5M1383.7 1897.2v3.5M1389 1897.2v3.5M1393.4 1897.2v3.5M1397.3 1897.2v3.5M1400.7 1897.2v3.5M1421.8 1897.2v3.5M1211.9 1897.2v5M1212.5 1897.2v5M1213 1897.2v5M1213.6 1897.2v5M1214.1 1897.2v5M1214.7 1897.2v5M1215.2 1897.2v5M1215.8 1897.2v5M1216.3 1897.2v5M1216.8 1897.2v5M1217.4 1897.2v5M1217.9 1897.2v5M1218.5 1897.2v5M1219 1897.2v5M1219.6 1897.2v5M1220.1 1897.2v5M1220.7 1897.2v5" stroke="#222" stroke-width="1.1"/><path d="M1154.2 1882.1h-6.5M1154.2 1840.5h-6.5M1154.2 1798.9h-6.5M1154.2 1729.6h-6.5M1154.2 1670h-6.5" stroke="#111" stroke-width="2"/><path d="M1154.2 1877.9h-3.5M1154.2 1873.8h-3.5M1154.2 1869.6h-3.5M1154.2 1865.5h-3.5M1154.2 1861.3h-3.5M1154.2 1857.1h-3.5M1154.2 1853h-3.5M1154.2 1848.8h-3.5M1154.2 1844.7h-3.5M1154.2 1836.3h-3.5M1154.2 1832.2h-3.5M1154.2 1828h-3.5M1154.2 1823.9h-3.5M1154.2 1819.7h-3.5M1154.2 1815.5h-3.5M1154.2 1811.4h-3.5M1154.2 1807.2h-3.5M1154.2 1803.1h-3.5M1154.2 1778h-3.5M1154.2 1765.8h-3.5M1154.2 1757.2h-3.5M1154.2 1750.5h-3.5M1154.2 1745h-3.5M1154.2 1740.3h-3.5M1154.2 1736.3h-3.5M1154.2 1732.8h-3.5M1154.2 1711.7h-3.5M1154.2 1701.2h-3.5M1154.2 1693.7h-3.5M1154.2 1687.9h-3.5M1154.2 1683.2h-3.5M1154.2 1679.2h-3.5M1154.2 1675.8h-3.5M1154.2 1672.7h-3.5M1154.2 1652.8h-3.5M1154.2 1652.8h-3.5M1154.2 1642.8h-3.5M1154.2 1635.7h-3.5M1154.2 1844.5h-5M1154.2 1844h-5M1154.2 1843.5h-5M1154.2 1843h-5M1154.2 1842.5h-5M1154.2 1842h-5M1154.2 1841.5h-5M1154.2 1841h-5M1154.2 1840.5h-5M1154.2 1840h-5M1154.2 1839.5h-5M1154.2 1839h-5M1154.2 1838.5h-5M1154.2 1838h-5M1154.2 1837.5h-5M1154.2 1837h-5M1154.2 1836.5h-5" stroke="#222" stroke-width="1.1"/><text x="1172.3" y="1928.4" font-size="11.6" text-anchor="middle">-10<tspan dy="-6" font-size="8">3</tspan></text><text x="1216.3" y="1927.8" font-size="11.6" text-anchor="middle">0</text><text x="1263.3" y="1928.4" font-size="11.6" text-anchor="middle">10<tspan dy="-6" font-size="8">3</tspan></text><text x="1338.9" y="1928.4" font-size="11.6" text-anchor="middle">10<tspan dy="-6" font-size="8">4</tspan></text><text x="1405.2" y="1928.4" font-size="11.6" text-anchor="middle">10<tspan dy="-6" font-size="8">5</tspan></text><text x="1137.4" y="1890.1" font-size="11.6" text-anchor="end">-10<tspan dy="-5" font-size="8">3</tspan></text><text x="1137.2" y="1845" font-size="11.6" text-anchor="end">0</text><text x="1137.4" y="1806.9" font-size="11.6" text-anchor="end">10<tspan dy="-5" font-size="8">3</tspan></text><text x="1137.4" y="1737.6" font-size="11.6" text-anchor="end">10<tspan dy="-5" font-size="8">4</tspan></text><text x="1137.4" y="1678" font-size="11.6" text-anchor="end">10<tspan dy="-5" font-size="8">5</tspan></text><rect x="1264.6" y="1636" width="114.8" height="79.1" fill="none" stroke="#222" stroke-width="1.6"/><text x="1333.2" y="1796.7" font-size="28.3">34.5</text><text x="1286.8" y="1605.7" font-size="28.6" text-anchor="middle">shLOXL2</text>
<line x1="63" y1="1405" x2="63" y2="1081.6" stroke="#000" stroke-width="7"/>
<polygon points="63,1063.6 72.8,1082.6 53.2,1082.6" fill="#000"/>
<line x1="59.5" y1="1403" x2="1418.8" y2="1403" stroke="#000" stroke-width="6.5"/>
<polygon points="1437.8,1403 1417.8,1413 1417.8,1393" fill="#000"/>
<text x="38.5" y="1238.5" font-size="29.2" text-anchor="middle" transform="rotate(-90 38.5 1238.5)">CD4 APC-Cy7</text>
<text x="715.5" y="1447" font-size="29.2" text-anchor="middle">CD8 PE-Cy7</text>
<line x1="65" y1="1964" x2="65" y2="1635" stroke="#000" stroke-width="7"/>
<polygon points="65,1617 74.8,1636 55.2,1636" fill="#000"/>
<line x1="61.5" y1="1961.5" x2="1413.5" y2="1961.5" stroke="#000" stroke-width="6.5"/>
<polygon points="1432.5,1961.5 1412.5,1971.5 1412.5,1951.5" fill="#000"/>
<text x="47.4" y="1798.4" font-size="29.3" text-anchor="middle" transform="rotate(-90 47.4 1798.4)">TIM-3 APC</text>
<text x="715.5" y="2004" font-size="29.3" text-anchor="middle">PD-1 FITC</text></svg>
</body></html>
